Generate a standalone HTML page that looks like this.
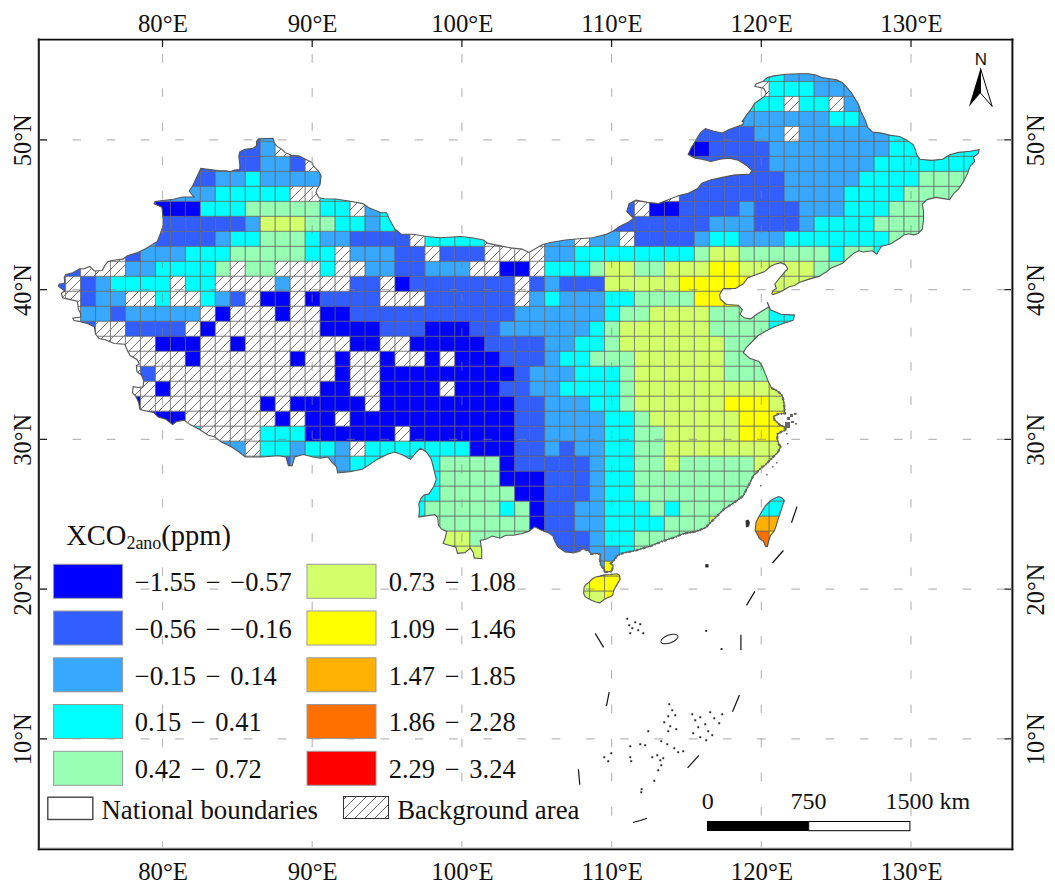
<!DOCTYPE html>
<html><head><meta charset="utf-8"><style>
html,body{margin:0;padding:0;background:#fff;width:1055px;height:892px;overflow:hidden}
svg{display:block}
</style></head><body>
<svg width="1055" height="892" viewBox="0 0 1055 892">
<defs>
<pattern id="hatch" patternUnits="userSpaceOnUse" width="10" height="10">
<rect width="10" height="10" fill="#fff"/>
<path d="M-1 11L11 -1M-1 1L1 -1M9 11L11 9" stroke="#6a6a6a" stroke-width="0.95"/>
</pattern>
<pattern id="hatch2" patternUnits="userSpaceOnUse" width="10" height="10" x="3">
<rect width="10" height="10" fill="#fff"/>
<path d="M-1 11L11 -1M-1 1L1 -1M9 11L11 9" stroke="#555" stroke-width="0.9"/>
</pattern>

<clipPath id="cn"><path d="M58.5 286.4L59.1 284.1L64.8 283.0L64.2 277.3L65.9 274.5L72.8 272.8L79.6 268.8L84.1 268.8L89.8 266.5L94.4 271.0L102.3 270.5L104.6 265.9L108.0 261.4L113.7 260.2L122.8 259.1L127.4 255.7L136.8 252.9L145.9 248.4L157.4 241.5L160.8 232.4L163.1 225.5L163.1 218.7L161.9 207.2L154.0 203.8L155.1 201.5L173.3 199.2L182.5 197.0L193.9 197.0L189.3 191.3L192.8 185.5L200.8 168.4L220.0 170.7L226.3 170.7L230.4 171.7L234.6 170.1L239.8 169.6L239.8 164.4L238.8 156.1L239.8 151.9L245.0 149.3L253.4 148.2L256.5 145.6L256.5 141.5L258.6 138.9L273.2 138.3L274.2 142.5L276.3 145.6L282.6 149.8L284.7 152.4L290.9 155.0L299.2 156.1L305.5 159.2L311.8 162.3L313.8 166.5L319.1 171.7L321.1 175.9L320.1 184.2L317.0 189.4L315.9 192.6L319.1 197.8L324.3 198.8L335.5 199.0L350.3 201.3L362.8 203.6L369.6 208.1L381.0 212.7L386.7 212.7L390.1 220.6L394.6 228.6L401.5 234.3L412.8 234.3L426.5 236.5L440.1 237.7L460.6 236.5L472.0 237.7L483.4 240.0L487.9 243.4L499.3 245.6L510.7 247.9L522.0 249.1L529.0 252.5L542.6 244.5L551.7 242.2L565.4 240.0L579.0 238.8L592.7 237.7L606.3 234.3L613.2 230.9L620.0 226.3L629.1 221.8L633.6 218.3L626.8 211.5L629.1 203.6L635.9 200.1L647.3 202.4L658.7 203.6L670.0 199.0L679.1 195.6L688.2 193.3L697.3 188.8L701.9 183.1L711.0 179.7L722.4 177.4L733.7 175.1L749.7 174.0L751.9 170.6L747.4 166.0L738.3 160.3L729.2 158.1L720.1 159.2L711.0 161.5L701.9 159.2L695.1 158.1L688.2 154.6L690.8 148.4L695.1 141.5L700.2 133.0L705.3 128.7L713.8 131.3L722.4 133.0L729.2 129.6L736.0 127.0L742.8 124.5L743.7 121.1L742.3 121.4L746.8 114.6L751.4 108.9L754.8 103.2L764.5 96.4L766.2 93.0L763.9 88.4L754.8 86.2L755.9 83.9L762.8 81.6L767.3 77.6L774.1 75.9L785.5 74.2L799.2 73.7L808.3 73.7L815.1 74.8L821.9 77.6L829.9 78.8L836.7 79.9L842.4 82.8L846.9 87.3L851.8 93.3L858.6 104.7L860.9 111.5L865.5 120.6L867.7 127.4L872.3 132.0L881.4 133.1L890.5 135.4L899.6 136.5L906.4 139.9L913.2 144.5L915.5 150.2L916.6 154.7L920.1 159.3L931.4 160.4L942.8 159.3L949.6 154.7L958.7 152.4L970.1 151.3L979.2 149.7L978.1 153.6L973.5 157.0L974.7 161.5L970.1 166.1L967.8 172.9L963.3 182.0L958.7 188.8L954.2 193.0L949.6 199.6L936.0 197.4L926.9 199.6L922.3 204.2L923.5 211.0L923.5 220.1L922.3 229.2L917.8 233.8L913.2 234.9L908.7 233.8L904.1 234.9L899.6 238.3L890.5 244.0L881.4 246.3L878.0 252.0L876.8 254.2L872.3 250.8L863.2 252.0L858.6 250.8L854.1 253.1L847.3 258.8L842.7 263.3L831.3 267.9L826.5 271.8L818.9 276.4L808.3 279.4L799.2 282.5L794.6 285.5L788.6 287.0L784.0 290.0L779.5 292.3L772.7 294.6L771.9 293.8L772.7 290.8L776.4 288.5L774.9 284.0L777.2 281.0L781.0 276.4L784.8 271.8L787.8 268.8L785.5 265.0L781.0 262.7L774.9 264.3L770.4 266.5L764.3 271.8L755.2 274.9L747.6 277.9L743.1 284.0L735.5 288.5L723.4 288.5L719.6 294.6L720.3 299.1L726.4 304.5L738.5 305.2L742.3 309.8L740.0 314.3L744.6 318.1L750.7 318.9L756.7 314.3L764.3 309.8L768.9 306.7L767.3 302.2L770.4 309.8L781.0 314.3L794.6 315.1L793.1 320.4L785.5 322.7L774.9 326.4L765.8 331.0L758.2 335.5L752.7 341.0L746.5 347.3L743.3 352.7L749.6 358.2L759.0 361.4L762.2 366.1L765.3 373.9L768.4 381.8L771.6 388.0L777.8 391.2L782.5 395.9L784.1 403.7L784.6 410.0L785.0 413.5L778.0 414.0L773.4 416.5L774.5 419.8L780.0 425.0L785.0 427.0L786.0 430.0L781.8 431.6L777.5 434.0L777.3 439.2L779.0 444.8L781.0 446.1L777.8 452.4L771.6 458.6L765.3 464.9L761.2 467.9L753.3 475.9L749.3 483.9L743.3 495.8L735.4 501.8L723.4 509.7L715.5 517.7L705.5 527.7L695.6 531.6L683.6 533.6L673.7 537.6L661.7 541.6L651.8 545.6L635.8 550.5L624.9 552.6L620.2 554.1L617.1 555.7L615.5 558.1L614.0 560.4L610.8 563.5L613.2 565.9L611.6 571.4L604.5 572.2L603.8 569.0L600.6 565.1L599.8 558.8L600.6 554.9L597.5 553.3L591.2 554.1L588.8 551.0L583.3 548.6L577.8 551.8L572.7 552.6L565.1 551.9L557.6 546.6L554.5 540.5L553.0 536.0L548.5 532.9L540.9 529.9L534.8 526.8L528.7 531.4L521.2 533.7L513.6 535.2L506.0 535.2L499.9 538.2L492.3 536.0L486.3 539.0L480.2 540.5L481.7 549.6L481.7 558.7L474.1 557.9L473.4 552.6L470.4 548.1L465.0 552.6L457.5 553.4L455.9 547.3L443.1 543.5L445.3 537.5L446.8 531.4L441.5 529.1L438.5 525.3L437.7 517.7L434.7 514.7L424.1 516.2L418.8 517.0L419.5 510.2L418.8 504.1L421.1 498.0L424.1 495.0L428.9 493.9L433.8 486.5L436.3 479.1L433.8 469.3L431.4 459.4L426.4 452.0L420.3 448.3L416.6 452.0L410.4 459.4L401.8 454.5L394.4 452.0L387.0 454.5L377.1 459.4L369.7 464.4L362.4 469.3L350.0 471.7L337.7 473.0L336.5 466.8L331.6 461.9L327.9 457.0L320.5 458.2L313.1 457.0L303.2 454.5L294.6 457.0L292.1 465.6L288.4 465.6L286.0 457.0L278.6 455.7L261.3 457.0L245.3 457.0L239.1 452.0L231.7 447.1L221.9 442.2L214.4 436.8L208.3 435.3L199.2 429.2L190.1 424.6L184.0 420.1L176.4 421.6L172.7 424.6L165.8 419.3L158.2 417.1L153.7 412.5L146.1 411.0L140.0 409.5L138.5 401.9L135.5 395.8L132.5 392.8L133.2 386.7L138.5 387.5L143.1 386.7L143.8 380.7L141.6 375.4L137.0 371.6L136.3 365.5L139.3 364.0L137.0 359.4L130.2 355.6L127.2 350.3L124.9 344.3L114.3 343.5L105.2 339.7L99.0 338.5L95.5 334.0L94.4 327.0L88.7 324.0L80.7 321.7L73.9 320.5L72.8 318.3L80.7 317.1L80.7 313.7L78.4 309.2L77.3 301.2L67.1 298.9L62.5 297.8L61.4 293.2L64.8 291.0ZM592.8 578.5L595.9 576.9L599.8 576.1L604.5 574.9L610.8 574.5L617.1 573.8L619.5 575.3L620.2 579.2L618.7 581.6L615.5 587.1L613.6 591.0L612.8 594.9L610.8 596.5L606.9 598.1L603.0 600.4L599.8 602.8L595.9 602.0L592.0 600.4L587.3 598.1L584.9 596.5L583.7 593.4L584.1 587.1L585.7 584.7L588.8 582.4L591.2 580.0ZM778.6 496.6L782.2 497.9L784.4 500.6L783.0 504.2L781.3 509.6L779.5 515.0L777.7 520.4L775.9 526.6L774.1 531.1L770.5 535.6L768.7 541.0L767.4 546.4L765.6 546.4L763.3 541.0L759.3 538.3L757.0 533.8L755.2 530.2L756.1 522.2L758.8 516.8L762.4 510.5L766.0 505.1L769.6 501.5L774.1 498.4Z"/></clipPath>
</defs>
<g clip-path="url(#cn)"><rect x="574.58" y="636.07" width="14.97" height="14.99" fill="#d2ff6a"/><rect x="589.55" y="636.07" width="14.97" height="14.99" fill="#d2ff6a"/><rect x="604.51" y="636.07" width="14.97" height="14.99" fill="#ffff00"/><rect x="559.61" y="621.08" width="14.97" height="14.99" fill="#d2ff6a"/><rect x="574.58" y="621.08" width="14.97" height="14.99" fill="#d2ff6a"/><rect x="589.55" y="621.08" width="14.97" height="14.99" fill="#d2ff6a"/><rect x="604.51" y="621.08" width="14.97" height="14.99" fill="#ffff00"/><rect x="619.49" y="621.08" width="14.97" height="14.99" fill="#ffff00"/><rect x="544.63" y="606.09" width="14.97" height="14.99" fill="#d2ff6a"/><rect x="559.61" y="606.09" width="14.97" height="14.99" fill="#d2ff6a"/><rect x="574.58" y="606.09" width="14.97" height="14.99" fill="#d2ff6a"/><rect x="589.55" y="606.09" width="14.97" height="14.99" fill="#d2ff6a"/><rect x="604.51" y="606.09" width="14.97" height="14.99" fill="#ffff00"/><rect x="619.49" y="606.09" width="14.97" height="14.99" fill="#ffff00"/><rect x="634.46" y="606.09" width="14.97" height="14.99" fill="#ffff00"/><rect x="454.82" y="591.10" width="14.97" height="14.99" fill="#d2ff6a"/><rect x="469.78" y="591.10" width="14.97" height="14.99" fill="#d2ff6a"/><rect x="529.67" y="591.10" width="14.97" height="14.99" fill="#d2ff6a"/><rect x="544.63" y="591.10" width="14.97" height="14.99" fill="#d2ff6a"/><rect x="559.61" y="591.10" width="14.97" height="14.99" fill="#d2ff6a"/><rect x="574.58" y="591.10" width="14.97" height="14.99" fill="#d2ff6a"/><rect x="589.55" y="591.10" width="14.97" height="14.99" fill="#d2ff6a"/><rect x="604.51" y="591.10" width="14.97" height="14.99" fill="#ffff00"/><rect x="619.49" y="591.10" width="14.97" height="14.99" fill="#ffff00"/><rect x="634.46" y="591.10" width="14.97" height="14.99" fill="#ffff00"/><rect x="649.43" y="591.10" width="14.97" height="14.99" fill="#ffff00"/><rect x="439.85" y="576.11" width="14.97" height="14.99" fill="#d2ff6a"/><rect x="454.82" y="576.11" width="14.97" height="14.99" fill="#d2ff6a"/><rect x="469.78" y="576.11" width="14.97" height="14.99" fill="#d2ff6a"/><rect x="484.75" y="576.11" width="14.97" height="14.99" fill="#96ffb4"/><rect x="499.73" y="576.11" width="14.97" height="14.99" fill="#96ffb4"/><rect x="514.70" y="576.11" width="14.97" height="14.99" fill="#96ffb4"/><rect x="529.67" y="576.11" width="14.97" height="14.99" fill="#d2ff6a"/><rect x="544.63" y="576.11" width="14.97" height="14.99" fill="#d2ff6a"/><rect x="559.61" y="576.11" width="14.97" height="14.99" fill="#d2ff6a"/><rect x="574.58" y="576.11" width="14.97" height="14.99" fill="#d2ff6a"/><rect x="589.55" y="576.11" width="14.97" height="14.99" fill="#ffff00"/><rect x="604.51" y="576.11" width="14.97" height="14.99" fill="#ffff00"/><rect x="619.49" y="576.11" width="14.97" height="14.99" fill="#ffff00"/><rect x="634.46" y="576.11" width="14.97" height="14.99" fill="#96ffb4"/><rect x="649.43" y="576.11" width="14.97" height="14.99" fill="#96ffb4"/><rect x="664.39" y="576.11" width="14.97" height="14.99" fill="#96ffb4"/><rect x="679.37" y="576.11" width="14.97" height="14.99" fill="#96ffb4"/><rect x="754.22" y="576.11" width="14.97" height="14.99" fill="#ff7000"/><rect x="769.19" y="576.11" width="14.97" height="14.99" fill="#ffff00"/><rect x="424.88" y="561.12" width="14.97" height="14.99" fill="#96ffb4"/><rect x="439.85" y="561.12" width="14.97" height="14.99" fill="#d2ff6a"/><rect x="454.82" y="561.12" width="14.97" height="14.99" fill="#d2ff6a"/><rect x="469.78" y="561.12" width="14.97" height="14.99" fill="#d2ff6a"/><rect x="484.75" y="561.12" width="14.97" height="14.99" fill="#96ffb4"/><rect x="499.73" y="561.12" width="14.97" height="14.99" fill="#96ffb4"/><rect x="514.70" y="561.12" width="14.97" height="14.99" fill="#96ffb4"/><rect x="529.67" y="561.12" width="14.97" height="14.99" fill="#0000ff"/><rect x="544.63" y="561.12" width="14.97" height="14.99" fill="#335eff"/><rect x="559.61" y="561.12" width="14.97" height="14.99" fill="#335eff"/><rect x="574.58" y="561.12" width="14.97" height="14.99" fill="#335eff"/><rect x="589.55" y="561.12" width="14.97" height="14.99" fill="#38a8ff"/><rect x="604.51" y="561.12" width="14.97" height="14.99" fill="#ffff00"/><rect x="619.49" y="561.12" width="14.97" height="14.99" fill="#00ffff"/><rect x="634.46" y="561.12" width="14.97" height="14.99" fill="#96ffb4"/><rect x="649.43" y="561.12" width="14.97" height="14.99" fill="#96ffb4"/><rect x="664.39" y="561.12" width="14.97" height="14.99" fill="#96ffb4"/><rect x="679.37" y="561.12" width="14.97" height="14.99" fill="#96ffb4"/><rect x="694.34" y="561.12" width="14.97" height="14.99" fill="#96ffb4"/><rect x="709.30" y="561.12" width="14.97" height="14.99" fill="#d2ff6a"/><rect x="739.25" y="561.12" width="14.97" height="14.99" fill="#ff7000"/><rect x="754.22" y="561.12" width="14.97" height="14.99" fill="#ff7000"/><rect x="769.19" y="561.12" width="14.97" height="14.99" fill="#ffff00"/><rect x="784.15" y="561.12" width="14.97" height="14.99" fill="#ffff00"/><rect x="409.91" y="546.13" width="14.97" height="14.99" fill="#00ffff"/><rect x="424.88" y="546.13" width="14.97" height="14.99" fill="#96ffb4"/><rect x="439.85" y="546.13" width="14.97" height="14.99" fill="#d2ff6a"/><rect x="454.82" y="546.13" width="14.97" height="14.99" fill="#d2ff6a"/><rect x="469.78" y="546.13" width="14.97" height="14.99" fill="#d2ff6a"/><rect x="484.75" y="546.13" width="14.97" height="14.99" fill="#96ffb4"/><rect x="499.73" y="546.13" width="14.97" height="14.99" fill="#96ffb4"/><rect x="514.70" y="546.13" width="14.97" height="14.99" fill="#96ffb4"/><rect x="529.67" y="546.13" width="14.97" height="14.99" fill="#0000ff"/><rect x="544.63" y="546.13" width="14.97" height="14.99" fill="#335eff"/><rect x="559.61" y="546.13" width="14.97" height="14.99" fill="#335eff"/><rect x="574.58" y="546.13" width="14.97" height="14.99" fill="#335eff"/><rect x="589.55" y="546.13" width="14.97" height="14.99" fill="#38a8ff"/><rect x="604.51" y="546.13" width="14.97" height="14.99" fill="#38a8ff"/><rect x="619.49" y="546.13" width="14.97" height="14.99" fill="#00ffff"/><rect x="634.46" y="546.13" width="14.97" height="14.99" fill="#96ffb4"/><rect x="649.43" y="546.13" width="14.97" height="14.99" fill="#96ffb4"/><rect x="664.39" y="546.13" width="14.97" height="14.99" fill="#96ffb4"/><rect x="679.37" y="546.13" width="14.97" height="14.99" fill="#96ffb4"/><rect x="694.34" y="546.13" width="14.97" height="14.99" fill="#96ffb4"/><rect x="709.30" y="546.13" width="14.97" height="14.99" fill="#d2ff6a"/><rect x="724.27" y="546.13" width="14.97" height="14.99" fill="#96ffb4"/><rect x="739.25" y="546.13" width="14.97" height="14.99" fill="#ff7000"/><rect x="754.22" y="546.13" width="14.97" height="14.99" fill="#ff7000"/><rect x="769.19" y="546.13" width="14.97" height="14.99" fill="#ffff00"/><rect x="784.15" y="546.13" width="14.97" height="14.99" fill="#ffff00"/><rect x="799.12" y="546.13" width="14.97" height="14.99" fill="#ffff00"/><rect x="394.94" y="531.14" width="14.97" height="14.99" fill="#00ffff"/><rect x="409.91" y="531.14" width="14.97" height="14.99" fill="#00ffff"/><rect x="424.88" y="531.14" width="14.97" height="14.99" fill="#96ffb4"/><rect x="439.85" y="531.14" width="14.97" height="14.99" fill="#d2ff6a"/><rect x="454.82" y="531.14" width="14.97" height="14.99" fill="#d2ff6a"/><rect x="469.78" y="531.14" width="14.97" height="14.99" fill="#96ffb4"/><rect x="484.75" y="531.14" width="14.97" height="14.99" fill="#96ffb4"/><rect x="499.73" y="531.14" width="14.97" height="14.99" fill="#96ffb4"/><rect x="514.70" y="531.14" width="14.97" height="14.99" fill="#96ffb4"/><rect x="529.67" y="531.14" width="14.97" height="14.99" fill="#0000ff"/><rect x="544.63" y="531.14" width="14.97" height="14.99" fill="#335eff"/><rect x="559.61" y="531.14" width="14.97" height="14.99" fill="#335eff"/><rect x="574.58" y="531.14" width="14.97" height="14.99" fill="#335eff"/><rect x="589.55" y="531.14" width="14.97" height="14.99" fill="#38a8ff"/><rect x="604.51" y="531.14" width="14.97" height="14.99" fill="#00ffff"/><rect x="619.49" y="531.14" width="14.97" height="14.99" fill="#00ffff"/><rect x="634.46" y="531.14" width="14.97" height="14.99" fill="#96ffb4"/><rect x="649.43" y="531.14" width="14.97" height="14.99" fill="#96ffb4"/><rect x="664.39" y="531.14" width="14.97" height="14.99" fill="#96ffb4"/><rect x="679.37" y="531.14" width="14.97" height="14.99" fill="#96ffb4"/><rect x="694.34" y="531.14" width="14.97" height="14.99" fill="#96ffb4"/><rect x="709.30" y="531.14" width="14.97" height="14.99" fill="#d2ff6a"/><rect x="724.27" y="531.14" width="14.97" height="14.99" fill="#96ffb4"/><rect x="739.25" y="531.14" width="14.97" height="14.99" fill="#ff7000"/><rect x="754.22" y="531.14" width="14.97" height="14.99" fill="#ff7000"/><rect x="769.19" y="531.14" width="14.97" height="14.99" fill="#ffff00"/><rect x="784.15" y="531.14" width="14.97" height="14.99" fill="#ffff00"/><rect x="799.12" y="531.14" width="14.97" height="14.99" fill="#ffff00"/><rect x="814.10" y="531.14" width="14.97" height="14.99" fill="#ffff00"/><rect x="379.97" y="516.15" width="14.97" height="14.99" fill="#00ffff"/><rect x="394.94" y="516.15" width="14.97" height="14.99" fill="#00ffff"/><rect x="409.91" y="516.15" width="14.97" height="14.99" fill="#00ffff"/><rect x="424.88" y="516.15" width="14.97" height="14.99" fill="#96ffb4"/><rect x="439.85" y="516.15" width="14.97" height="14.99" fill="#96ffb4"/><rect x="454.82" y="516.15" width="14.97" height="14.99" fill="#96ffb4"/><rect x="469.78" y="516.15" width="14.97" height="14.99" fill="#96ffb4"/><rect x="484.75" y="516.15" width="14.97" height="14.99" fill="#96ffb4"/><rect x="499.73" y="516.15" width="14.97" height="14.99" fill="#96ffb4"/><rect x="514.70" y="516.15" width="14.97" height="14.99" fill="#96ffb4"/><rect x="529.67" y="516.15" width="14.97" height="14.99" fill="#0000ff"/><rect x="544.63" y="516.15" width="14.97" height="14.99" fill="#335eff"/><rect x="559.61" y="516.15" width="14.97" height="14.99" fill="#335eff"/><rect x="574.58" y="516.15" width="14.97" height="14.99" fill="#38a8ff"/><rect x="589.55" y="516.15" width="14.97" height="14.99" fill="#38a8ff"/><rect x="604.51" y="516.15" width="14.97" height="14.99" fill="#00ffff"/><rect x="619.49" y="516.15" width="14.97" height="14.99" fill="#00ffff"/><rect x="634.46" y="516.15" width="14.97" height="14.99" fill="#00ffff"/><rect x="649.43" y="516.15" width="14.97" height="14.99" fill="#00ffff"/><rect x="664.39" y="516.15" width="14.97" height="14.99" fill="#96ffb4"/><rect x="679.37" y="516.15" width="14.97" height="14.99" fill="#96ffb4"/><rect x="694.34" y="516.15" width="14.97" height="14.99" fill="#96ffb4"/><rect x="709.30" y="516.15" width="14.97" height="14.99" fill="#d2ff6a"/><rect x="724.27" y="516.15" width="14.97" height="14.99" fill="#96ffb4"/><rect x="739.25" y="516.15" width="14.97" height="14.99" fill="#ffb000"/><rect x="754.22" y="516.15" width="14.97" height="14.99" fill="#ffb000"/><rect x="769.19" y="516.15" width="14.97" height="14.99" fill="#ffb000"/><rect x="784.15" y="516.15" width="14.97" height="14.99" fill="#ffb000"/><rect x="799.12" y="516.15" width="14.97" height="14.99" fill="#ffb000"/><rect x="814.10" y="516.15" width="14.97" height="14.99" fill="#ffb000"/><rect x="275.18" y="501.16" width="14.97" height="14.99" fill="#335eff"/><rect x="320.09" y="501.16" width="14.97" height="14.99" fill="#38a8ff"/><rect x="335.06" y="501.16" width="14.97" height="14.99" fill="#38a8ff"/><rect x="350.02" y="501.16" width="14.97" height="14.99" fill="#00ffff"/><rect x="365.00" y="501.16" width="14.97" height="14.99" fill="#00ffff"/><rect x="379.97" y="501.16" width="14.97" height="14.99" fill="#00ffff"/><rect x="394.94" y="501.16" width="14.97" height="14.99" fill="#00ffff"/><rect x="409.91" y="501.16" width="14.97" height="14.99" fill="#00ffff"/><rect x="424.88" y="501.16" width="14.97" height="14.99" fill="#96ffb4"/><rect x="439.85" y="501.16" width="14.97" height="14.99" fill="#96ffb4"/><rect x="454.82" y="501.16" width="14.97" height="14.99" fill="#96ffb4"/><rect x="469.78" y="501.16" width="14.97" height="14.99" fill="#96ffb4"/><rect x="484.75" y="501.16" width="14.97" height="14.99" fill="#96ffb4"/><rect x="499.73" y="501.16" width="14.97" height="14.99" fill="#00ffff"/><rect x="514.70" y="501.16" width="14.97" height="14.99" fill="#96ffb4"/><rect x="529.67" y="501.16" width="14.97" height="14.99" fill="#0000ff"/><rect x="544.63" y="501.16" width="14.97" height="14.99" fill="#335eff"/><rect x="559.61" y="501.16" width="14.97" height="14.99" fill="#335eff"/><rect x="574.58" y="501.16" width="14.97" height="14.99" fill="#38a8ff"/><rect x="589.55" y="501.16" width="14.97" height="14.99" fill="#38a8ff"/><rect x="604.51" y="501.16" width="14.97" height="14.99" fill="#00ffff"/><rect x="619.49" y="501.16" width="14.97" height="14.99" fill="#00ffff"/><rect x="634.46" y="501.16" width="14.97" height="14.99" fill="#00ffff"/><rect x="649.43" y="501.16" width="14.97" height="14.99" fill="#96ffb4"/><rect x="664.39" y="501.16" width="14.97" height="14.99" fill="#00ffff"/><rect x="679.37" y="501.16" width="14.97" height="14.99" fill="#96ffb4"/><rect x="694.34" y="501.16" width="14.97" height="14.99" fill="#96ffb4"/><rect x="709.30" y="501.16" width="14.97" height="14.99" fill="#96ffb4"/><rect x="724.27" y="501.16" width="14.97" height="14.99" fill="#96ffb4"/><rect x="739.25" y="501.16" width="14.97" height="14.99" fill="#96ffb4"/><rect x="754.22" y="501.16" width="14.97" height="14.99" fill="#00ffff"/><rect x="769.19" y="501.16" width="14.97" height="14.99" fill="#00ffff"/><rect x="784.15" y="501.16" width="14.97" height="14.99" fill="#00ffff"/><rect x="799.12" y="501.16" width="14.97" height="14.99" fill="#00ffff"/><rect x="814.10" y="501.16" width="14.97" height="14.99" fill="#00ffff"/><rect x="215.30" y="486.17" width="14.97" height="14.99" fill="#38a8ff"/><rect x="230.27" y="486.17" width="14.97" height="14.99" fill="#38a8ff"/><rect x="245.24" y="486.17" width="14.97" height="14.99" fill="url(#hatch)"/><rect x="260.21" y="486.17" width="14.97" height="14.99" fill="#00ffff"/><rect x="275.18" y="486.17" width="14.97" height="14.99" fill="#335eff"/><rect x="290.14" y="486.17" width="14.97" height="14.99" fill="#38a8ff"/><rect x="305.12" y="486.17" width="14.97" height="14.99" fill="#00ffff"/><rect x="320.09" y="486.17" width="14.97" height="14.99" fill="#38a8ff"/><rect x="335.06" y="486.17" width="14.97" height="14.99" fill="#38a8ff"/><rect x="350.02" y="486.17" width="14.97" height="14.99" fill="#00ffff"/><rect x="365.00" y="486.17" width="14.97" height="14.99" fill="#00ffff"/><rect x="379.97" y="486.17" width="14.97" height="14.99" fill="#00ffff"/><rect x="394.94" y="486.17" width="14.97" height="14.99" fill="#00ffff"/><rect x="409.91" y="486.17" width="14.97" height="14.99" fill="#00ffff"/><rect x="424.88" y="486.17" width="14.97" height="14.99" fill="#00ffff"/><rect x="439.85" y="486.17" width="14.97" height="14.99" fill="#96ffb4"/><rect x="454.82" y="486.17" width="14.97" height="14.99" fill="#96ffb4"/><rect x="469.78" y="486.17" width="14.97" height="14.99" fill="#96ffb4"/><rect x="484.75" y="486.17" width="14.97" height="14.99" fill="#96ffb4"/><rect x="499.73" y="486.17" width="14.97" height="14.99" fill="#96ffb4"/><rect x="514.70" y="486.17" width="14.97" height="14.99" fill="#0000ff"/><rect x="529.67" y="486.17" width="14.97" height="14.99" fill="#0000ff"/><rect x="544.63" y="486.17" width="14.97" height="14.99" fill="#335eff"/><rect x="559.61" y="486.17" width="14.97" height="14.99" fill="#335eff"/><rect x="574.58" y="486.17" width="14.97" height="14.99" fill="#335eff"/><rect x="589.55" y="486.17" width="14.97" height="14.99" fill="#38a8ff"/><rect x="604.51" y="486.17" width="14.97" height="14.99" fill="#00ffff"/><rect x="619.49" y="486.17" width="14.97" height="14.99" fill="#00ffff"/><rect x="634.46" y="486.17" width="14.97" height="14.99" fill="#96ffb4"/><rect x="649.43" y="486.17" width="14.97" height="14.99" fill="#96ffb4"/><rect x="664.39" y="486.17" width="14.97" height="14.99" fill="#96ffb4"/><rect x="679.37" y="486.17" width="14.97" height="14.99" fill="#96ffb4"/><rect x="694.34" y="486.17" width="14.97" height="14.99" fill="#96ffb4"/><rect x="709.30" y="486.17" width="14.97" height="14.99" fill="#96ffb4"/><rect x="724.27" y="486.17" width="14.97" height="14.99" fill="#96ffb4"/><rect x="739.25" y="486.17" width="14.97" height="14.99" fill="#96ffb4"/><rect x="754.22" y="486.17" width="14.97" height="14.99" fill="#d2ff6a"/><rect x="769.19" y="486.17" width="14.97" height="14.99" fill="#00ffff"/><rect x="784.15" y="486.17" width="14.97" height="14.99" fill="#00ffff"/><rect x="799.12" y="486.17" width="14.97" height="14.99" fill="#00ffff"/><rect x="814.10" y="486.17" width="14.97" height="14.99" fill="#00ffff"/><rect x="185.36" y="471.18" width="14.97" height="14.99" fill="#00ffff"/><rect x="200.33" y="471.18" width="14.97" height="14.99" fill="url(#hatch)"/><rect x="215.30" y="471.18" width="14.97" height="14.99" fill="#38a8ff"/><rect x="230.27" y="471.18" width="14.97" height="14.99" fill="#38a8ff"/><rect x="245.24" y="471.18" width="14.97" height="14.99" fill="url(#hatch)"/><rect x="260.21" y="471.18" width="14.97" height="14.99" fill="#00ffff"/><rect x="275.18" y="471.18" width="14.97" height="14.99" fill="#335eff"/><rect x="290.14" y="471.18" width="14.97" height="14.99" fill="#38a8ff"/><rect x="305.12" y="471.18" width="14.97" height="14.99" fill="#00ffff"/><rect x="320.09" y="471.18" width="14.97" height="14.99" fill="#38a8ff"/><rect x="335.06" y="471.18" width="14.97" height="14.99" fill="#38a8ff"/><rect x="350.02" y="471.18" width="14.97" height="14.99" fill="#00ffff"/><rect x="365.00" y="471.18" width="14.97" height="14.99" fill="#00ffff"/><rect x="379.97" y="471.18" width="14.97" height="14.99" fill="#00ffff"/><rect x="394.94" y="471.18" width="14.97" height="14.99" fill="#00ffff"/><rect x="409.91" y="471.18" width="14.97" height="14.99" fill="#00ffff"/><rect x="424.88" y="471.18" width="14.97" height="14.99" fill="#00ffff"/><rect x="439.85" y="471.18" width="14.97" height="14.99" fill="#96ffb4"/><rect x="454.82" y="471.18" width="14.97" height="14.99" fill="#96ffb4"/><rect x="469.78" y="471.18" width="14.97" height="14.99" fill="#96ffb4"/><rect x="484.75" y="471.18" width="14.97" height="14.99" fill="#96ffb4"/><rect x="499.73" y="471.18" width="14.97" height="14.99" fill="#0000ff"/><rect x="514.70" y="471.18" width="14.97" height="14.99" fill="#0000ff"/><rect x="529.67" y="471.18" width="14.97" height="14.99" fill="#0000ff"/><rect x="544.63" y="471.18" width="14.97" height="14.99" fill="#335eff"/><rect x="559.61" y="471.18" width="14.97" height="14.99" fill="#335eff"/><rect x="574.58" y="471.18" width="14.97" height="14.99" fill="#335eff"/><rect x="589.55" y="471.18" width="14.97" height="14.99" fill="#38a8ff"/><rect x="604.51" y="471.18" width="14.97" height="14.99" fill="#00ffff"/><rect x="619.49" y="471.18" width="14.97" height="14.99" fill="#00ffff"/><rect x="634.46" y="471.18" width="14.97" height="14.99" fill="#96ffb4"/><rect x="649.43" y="471.18" width="14.97" height="14.99" fill="#96ffb4"/><rect x="664.39" y="471.18" width="14.97" height="14.99" fill="#96ffb4"/><rect x="679.37" y="471.18" width="14.97" height="14.99" fill="#96ffb4"/><rect x="694.34" y="471.18" width="14.97" height="14.99" fill="#96ffb4"/><rect x="709.30" y="471.18" width="14.97" height="14.99" fill="#96ffb4"/><rect x="724.27" y="471.18" width="14.97" height="14.99" fill="#96ffb4"/><rect x="739.25" y="471.18" width="14.97" height="14.99" fill="#96ffb4"/><rect x="754.22" y="471.18" width="14.97" height="14.99" fill="#d2ff6a"/><rect x="769.19" y="471.18" width="14.97" height="14.99" fill="#00ffff"/><rect x="784.15" y="471.18" width="14.97" height="14.99" fill="#00ffff"/><rect x="799.12" y="471.18" width="14.97" height="14.99" fill="#00ffff"/><rect x="140.44" y="456.19" width="14.97" height="14.99" fill="#0000ff"/><rect x="155.41" y="456.19" width="14.97" height="14.99" fill="#0000ff"/><rect x="170.39" y="456.19" width="14.97" height="14.99" fill="#0000ff"/><rect x="185.36" y="456.19" width="14.97" height="14.99" fill="#00ffff"/><rect x="200.33" y="456.19" width="14.97" height="14.99" fill="url(#hatch)"/><rect x="215.30" y="456.19" width="14.97" height="14.99" fill="#38a8ff"/><rect x="230.27" y="456.19" width="14.97" height="14.99" fill="#38a8ff"/><rect x="245.24" y="456.19" width="14.97" height="14.99" fill="url(#hatch)"/><rect x="260.21" y="456.19" width="14.97" height="14.99" fill="#00ffff"/><rect x="275.18" y="456.19" width="14.97" height="14.99" fill="#335eff"/><rect x="290.14" y="456.19" width="14.97" height="14.99" fill="#38a8ff"/><rect x="305.12" y="456.19" width="14.97" height="14.99" fill="#00ffff"/><rect x="320.09" y="456.19" width="14.97" height="14.99" fill="#38a8ff"/><rect x="335.06" y="456.19" width="14.97" height="14.99" fill="#38a8ff"/><rect x="350.02" y="456.19" width="14.97" height="14.99" fill="#00ffff"/><rect x="365.00" y="456.19" width="14.97" height="14.99" fill="#00ffff"/><rect x="379.97" y="456.19" width="14.97" height="14.99" fill="#00ffff"/><rect x="394.94" y="456.19" width="14.97" height="14.99" fill="#00ffff"/><rect x="409.91" y="456.19" width="14.97" height="14.99" fill="#00ffff"/><rect x="424.88" y="456.19" width="14.97" height="14.99" fill="#00ffff"/><rect x="439.85" y="456.19" width="14.97" height="14.99" fill="#96ffb4"/><rect x="454.82" y="456.19" width="14.97" height="14.99" fill="#96ffb4"/><rect x="469.78" y="456.19" width="14.97" height="14.99" fill="#96ffb4"/><rect x="484.75" y="456.19" width="14.97" height="14.99" fill="#96ffb4"/><rect x="499.73" y="456.19" width="14.97" height="14.99" fill="#0000ff"/><rect x="514.70" y="456.19" width="14.97" height="14.99" fill="#335eff"/><rect x="529.67" y="456.19" width="14.97" height="14.99" fill="#335eff"/><rect x="544.63" y="456.19" width="14.97" height="14.99" fill="#335eff"/><rect x="559.61" y="456.19" width="14.97" height="14.99" fill="#335eff"/><rect x="574.58" y="456.19" width="14.97" height="14.99" fill="#335eff"/><rect x="589.55" y="456.19" width="14.97" height="14.99" fill="#38a8ff"/><rect x="604.51" y="456.19" width="14.97" height="14.99" fill="#00ffff"/><rect x="619.49" y="456.19" width="14.97" height="14.99" fill="#00ffff"/><rect x="634.46" y="456.19" width="14.97" height="14.99" fill="#96ffb4"/><rect x="649.43" y="456.19" width="14.97" height="14.99" fill="#96ffb4"/><rect x="664.39" y="456.19" width="14.97" height="14.99" fill="#d2ff6a"/><rect x="679.37" y="456.19" width="14.97" height="14.99" fill="#96ffb4"/><rect x="694.34" y="456.19" width="14.97" height="14.99" fill="#96ffb4"/><rect x="709.30" y="456.19" width="14.97" height="14.99" fill="#96ffb4"/><rect x="724.27" y="456.19" width="14.97" height="14.99" fill="#96ffb4"/><rect x="739.25" y="456.19" width="14.97" height="14.99" fill="#96ffb4"/><rect x="754.22" y="456.19" width="14.97" height="14.99" fill="#d2ff6a"/><rect x="769.19" y="456.19" width="14.97" height="14.99" fill="#d2ff6a"/><rect x="784.15" y="456.19" width="14.97" height="14.99" fill="#d2ff6a"/><rect x="799.12" y="456.19" width="14.97" height="14.99" fill="#d2ff6a"/><rect x="125.47" y="441.20" width="14.97" height="14.99" fill="#0000ff"/><rect x="140.44" y="441.20" width="14.97" height="14.99" fill="#0000ff"/><rect x="155.41" y="441.20" width="14.97" height="14.99" fill="#0000ff"/><rect x="170.39" y="441.20" width="14.97" height="14.99" fill="#0000ff"/><rect x="185.36" y="441.20" width="14.97" height="14.99" fill="#00ffff"/><rect x="200.33" y="441.20" width="14.97" height="14.99" fill="url(#hatch)"/><rect x="215.30" y="441.20" width="14.97" height="14.99" fill="#38a8ff"/><rect x="230.27" y="441.20" width="14.97" height="14.99" fill="#38a8ff"/><rect x="245.24" y="441.20" width="14.97" height="14.99" fill="url(#hatch)"/><rect x="260.21" y="441.20" width="14.97" height="14.99" fill="#00ffff"/><rect x="275.18" y="441.20" width="14.97" height="14.99" fill="#00ffff"/><rect x="290.14" y="441.20" width="14.97" height="14.99" fill="#38a8ff"/><rect x="305.12" y="441.20" width="14.97" height="14.99" fill="#00ffff"/><rect x="320.09" y="441.20" width="14.97" height="14.99" fill="#00ffff"/><rect x="335.06" y="441.20" width="14.97" height="14.99" fill="#38a8ff"/><rect x="350.02" y="441.20" width="14.97" height="14.99" fill="url(#hatch)"/><rect x="365.00" y="441.20" width="14.97" height="14.99" fill="#00ffff"/><rect x="379.97" y="441.20" width="14.97" height="14.99" fill="#00ffff"/><rect x="394.94" y="441.20" width="14.97" height="14.99" fill="#00ffff"/><rect x="409.91" y="441.20" width="14.97" height="14.99" fill="#00ffff"/><rect x="424.88" y="441.20" width="14.97" height="14.99" fill="#00ffff"/><rect x="439.85" y="441.20" width="14.97" height="14.99" fill="#00ffff"/><rect x="454.82" y="441.20" width="14.97" height="14.99" fill="#00ffff"/><rect x="469.78" y="441.20" width="14.97" height="14.99" fill="#0000ff"/><rect x="484.75" y="441.20" width="14.97" height="14.99" fill="#0000ff"/><rect x="499.73" y="441.20" width="14.97" height="14.99" fill="#0000ff"/><rect x="514.70" y="441.20" width="14.97" height="14.99" fill="#335eff"/><rect x="529.67" y="441.20" width="14.97" height="14.99" fill="#335eff"/><rect x="544.63" y="441.20" width="14.97" height="14.99" fill="#38a8ff"/><rect x="559.61" y="441.20" width="14.97" height="14.99" fill="#335eff"/><rect x="574.58" y="441.20" width="14.97" height="14.99" fill="#38a8ff"/><rect x="589.55" y="441.20" width="14.97" height="14.99" fill="#38a8ff"/><rect x="604.51" y="441.20" width="14.97" height="14.99" fill="#00ffff"/><rect x="619.49" y="441.20" width="14.97" height="14.99" fill="#00ffff"/><rect x="634.46" y="441.20" width="14.97" height="14.99" fill="#96ffb4"/><rect x="649.43" y="441.20" width="14.97" height="14.99" fill="#96ffb4"/><rect x="664.39" y="441.20" width="14.97" height="14.99" fill="#d2ff6a"/><rect x="679.37" y="441.20" width="14.97" height="14.99" fill="#d2ff6a"/><rect x="694.34" y="441.20" width="14.97" height="14.99" fill="#d2ff6a"/><rect x="709.30" y="441.20" width="14.97" height="14.99" fill="#d2ff6a"/><rect x="724.27" y="441.20" width="14.97" height="14.99" fill="#d2ff6a"/><rect x="739.25" y="441.20" width="14.97" height="14.99" fill="#d2ff6a"/><rect x="754.22" y="441.20" width="14.97" height="14.99" fill="#d2ff6a"/><rect x="769.19" y="441.20" width="14.97" height="14.99" fill="#d2ff6a"/><rect x="784.15" y="441.20" width="14.97" height="14.99" fill="#d2ff6a"/><rect x="799.12" y="441.20" width="14.97" height="14.99" fill="#d2ff6a"/><rect x="814.10" y="441.20" width="14.97" height="14.99" fill="#d2ff6a"/><rect x="110.50" y="426.21" width="14.97" height="14.99" fill="#0000ff"/><rect x="125.47" y="426.21" width="14.97" height="14.99" fill="#0000ff"/><rect x="140.44" y="426.21" width="14.97" height="14.99" fill="#0000ff"/><rect x="155.41" y="426.21" width="14.97" height="14.99" fill="#0000ff"/><rect x="170.39" y="426.21" width="14.97" height="14.99" fill="#0000ff"/><rect x="185.36" y="426.21" width="14.97" height="14.99" fill="#00ffff"/><rect x="200.33" y="426.21" width="14.97" height="14.99" fill="url(#hatch)"/><rect x="215.30" y="426.21" width="14.97" height="14.99" fill="url(#hatch)"/><rect x="230.27" y="426.21" width="14.97" height="14.99" fill="url(#hatch)"/><rect x="245.24" y="426.21" width="14.97" height="14.99" fill="url(#hatch)"/><rect x="260.21" y="426.21" width="14.97" height="14.99" fill="#00ffff"/><rect x="275.18" y="426.21" width="14.97" height="14.99" fill="#00ffff"/><rect x="290.14" y="426.21" width="14.97" height="14.99" fill="#00ffff"/><rect x="305.12" y="426.21" width="14.97" height="14.99" fill="#0000ff"/><rect x="320.09" y="426.21" width="14.97" height="14.99" fill="#0000ff"/><rect x="335.06" y="426.21" width="14.97" height="14.99" fill="#0000ff"/><rect x="350.02" y="426.21" width="14.97" height="14.99" fill="#0000ff"/><rect x="365.00" y="426.21" width="14.97" height="14.99" fill="#0000ff"/><rect x="379.97" y="426.21" width="14.97" height="14.99" fill="#0000ff"/><rect x="394.94" y="426.21" width="14.97" height="14.99" fill="url(#hatch)"/><rect x="409.91" y="426.21" width="14.97" height="14.99" fill="#0000ff"/><rect x="424.88" y="426.21" width="14.97" height="14.99" fill="#0000ff"/><rect x="439.85" y="426.21" width="14.97" height="14.99" fill="#0000ff"/><rect x="454.82" y="426.21" width="14.97" height="14.99" fill="#0000ff"/><rect x="469.78" y="426.21" width="14.97" height="14.99" fill="#0000ff"/><rect x="484.75" y="426.21" width="14.97" height="14.99" fill="#0000ff"/><rect x="499.73" y="426.21" width="14.97" height="14.99" fill="#0000ff"/><rect x="514.70" y="426.21" width="14.97" height="14.99" fill="#335eff"/><rect x="529.67" y="426.21" width="14.97" height="14.99" fill="#335eff"/><rect x="544.63" y="426.21" width="14.97" height="14.99" fill="#38a8ff"/><rect x="559.61" y="426.21" width="14.97" height="14.99" fill="#38a8ff"/><rect x="574.58" y="426.21" width="14.97" height="14.99" fill="#38a8ff"/><rect x="589.55" y="426.21" width="14.97" height="14.99" fill="#38a8ff"/><rect x="604.51" y="426.21" width="14.97" height="14.99" fill="#00ffff"/><rect x="619.49" y="426.21" width="14.97" height="14.99" fill="#00ffff"/><rect x="634.46" y="426.21" width="14.97" height="14.99" fill="#96ffb4"/><rect x="649.43" y="426.21" width="14.97" height="14.99" fill="#96ffb4"/><rect x="664.39" y="426.21" width="14.97" height="14.99" fill="#d2ff6a"/><rect x="679.37" y="426.21" width="14.97" height="14.99" fill="#d2ff6a"/><rect x="694.34" y="426.21" width="14.97" height="14.99" fill="#d2ff6a"/><rect x="709.30" y="426.21" width="14.97" height="14.99" fill="#d2ff6a"/><rect x="724.27" y="426.21" width="14.97" height="14.99" fill="#d2ff6a"/><rect x="739.25" y="426.21" width="14.97" height="14.99" fill="#ffff00"/><rect x="754.22" y="426.21" width="14.97" height="14.99" fill="#ffff00"/><rect x="769.19" y="426.21" width="14.97" height="14.99" fill="#ffff00"/><rect x="784.15" y="426.21" width="14.97" height="14.99" fill="#ffff00"/><rect x="799.12" y="426.21" width="14.97" height="14.99" fill="#ffff00"/><rect x="814.10" y="426.21" width="14.97" height="14.99" fill="#ffff00"/><rect x="95.53" y="411.22" width="14.97" height="14.99" fill="#0000ff"/><rect x="110.50" y="411.22" width="14.97" height="14.99" fill="#0000ff"/><rect x="125.47" y="411.22" width="14.97" height="14.99" fill="#0000ff"/><rect x="140.44" y="411.22" width="14.97" height="14.99" fill="#0000ff"/><rect x="155.41" y="411.22" width="14.97" height="14.99" fill="#0000ff"/><rect x="170.39" y="411.22" width="14.97" height="14.99" fill="#0000ff"/><rect x="185.36" y="411.22" width="14.97" height="14.99" fill="url(#hatch)"/><rect x="200.33" y="411.22" width="14.97" height="14.99" fill="url(#hatch)"/><rect x="215.30" y="411.22" width="14.97" height="14.99" fill="url(#hatch)"/><rect x="230.27" y="411.22" width="14.97" height="14.99" fill="url(#hatch)"/><rect x="245.24" y="411.22" width="14.97" height="14.99" fill="url(#hatch)"/><rect x="260.21" y="411.22" width="14.97" height="14.99" fill="url(#hatch)"/><rect x="275.18" y="411.22" width="14.97" height="14.99" fill="#0000ff"/><rect x="290.14" y="411.22" width="14.97" height="14.99" fill="url(#hatch)"/><rect x="305.12" y="411.22" width="14.97" height="14.99" fill="#0000ff"/><rect x="320.09" y="411.22" width="14.97" height="14.99" fill="#0000ff"/><rect x="335.06" y="411.22" width="14.97" height="14.99" fill="url(#hatch)"/><rect x="350.02" y="411.22" width="14.97" height="14.99" fill="#0000ff"/><rect x="365.00" y="411.22" width="14.97" height="14.99" fill="#0000ff"/><rect x="379.97" y="411.22" width="14.97" height="14.99" fill="#0000ff"/><rect x="394.94" y="411.22" width="14.97" height="14.99" fill="#0000ff"/><rect x="409.91" y="411.22" width="14.97" height="14.99" fill="#0000ff"/><rect x="424.88" y="411.22" width="14.97" height="14.99" fill="#0000ff"/><rect x="439.85" y="411.22" width="14.97" height="14.99" fill="#0000ff"/><rect x="454.82" y="411.22" width="14.97" height="14.99" fill="#0000ff"/><rect x="469.78" y="411.22" width="14.97" height="14.99" fill="#0000ff"/><rect x="484.75" y="411.22" width="14.97" height="14.99" fill="#0000ff"/><rect x="499.73" y="411.22" width="14.97" height="14.99" fill="#0000ff"/><rect x="514.70" y="411.22" width="14.97" height="14.99" fill="#335eff"/><rect x="529.67" y="411.22" width="14.97" height="14.99" fill="#335eff"/><rect x="544.63" y="411.22" width="14.97" height="14.99" fill="#38a8ff"/><rect x="559.61" y="411.22" width="14.97" height="14.99" fill="#38a8ff"/><rect x="574.58" y="411.22" width="14.97" height="14.99" fill="#38a8ff"/><rect x="589.55" y="411.22" width="14.97" height="14.99" fill="#38a8ff"/><rect x="604.51" y="411.22" width="14.97" height="14.99" fill="#00ffff"/><rect x="619.49" y="411.22" width="14.97" height="14.99" fill="#00ffff"/><rect x="634.46" y="411.22" width="14.97" height="14.99" fill="#96ffb4"/><rect x="649.43" y="411.22" width="14.97" height="14.99" fill="#d2ff6a"/><rect x="664.39" y="411.22" width="14.97" height="14.99" fill="#d2ff6a"/><rect x="679.37" y="411.22" width="14.97" height="14.99" fill="#d2ff6a"/><rect x="694.34" y="411.22" width="14.97" height="14.99" fill="#d2ff6a"/><rect x="709.30" y="411.22" width="14.97" height="14.99" fill="#d2ff6a"/><rect x="724.27" y="411.22" width="14.97" height="14.99" fill="#d2ff6a"/><rect x="739.25" y="411.22" width="14.97" height="14.99" fill="#ffff00"/><rect x="754.22" y="411.22" width="14.97" height="14.99" fill="#ffff00"/><rect x="769.19" y="411.22" width="14.97" height="14.99" fill="#ffff00"/><rect x="784.15" y="411.22" width="14.97" height="14.99" fill="#ffff00"/><rect x="799.12" y="411.22" width="14.97" height="14.99" fill="#ffff00"/><rect x="814.10" y="411.22" width="14.97" height="14.99" fill="#ffff00"/><rect x="80.56" y="396.23" width="14.97" height="14.99" fill="#0000ff"/><rect x="95.53" y="396.23" width="14.97" height="14.99" fill="#0000ff"/><rect x="110.50" y="396.23" width="14.97" height="14.99" fill="#0000ff"/><rect x="125.47" y="396.23" width="14.97" height="14.99" fill="#0000ff"/><rect x="140.44" y="396.23" width="14.97" height="14.99" fill="url(#hatch)"/><rect x="155.41" y="396.23" width="14.97" height="14.99" fill="url(#hatch)"/><rect x="170.39" y="396.23" width="14.97" height="14.99" fill="url(#hatch)"/><rect x="185.36" y="396.23" width="14.97" height="14.99" fill="url(#hatch)"/><rect x="200.33" y="396.23" width="14.97" height="14.99" fill="url(#hatch)"/><rect x="215.30" y="396.23" width="14.97" height="14.99" fill="url(#hatch)"/><rect x="230.27" y="396.23" width="14.97" height="14.99" fill="url(#hatch)"/><rect x="245.24" y="396.23" width="14.97" height="14.99" fill="url(#hatch)"/><rect x="260.21" y="396.23" width="14.97" height="14.99" fill="#0000ff"/><rect x="275.18" y="396.23" width="14.97" height="14.99" fill="url(#hatch)"/><rect x="290.14" y="396.23" width="14.97" height="14.99" fill="#0000ff"/><rect x="305.12" y="396.23" width="14.97" height="14.99" fill="#0000ff"/><rect x="320.09" y="396.23" width="14.97" height="14.99" fill="#0000ff"/><rect x="335.06" y="396.23" width="14.97" height="14.99" fill="#0000ff"/><rect x="350.02" y="396.23" width="14.97" height="14.99" fill="#0000ff"/><rect x="365.00" y="396.23" width="14.97" height="14.99" fill="url(#hatch)"/><rect x="379.97" y="396.23" width="14.97" height="14.99" fill="#0000ff"/><rect x="394.94" y="396.23" width="14.97" height="14.99" fill="#0000ff"/><rect x="409.91" y="396.23" width="14.97" height="14.99" fill="#0000ff"/><rect x="424.88" y="396.23" width="14.97" height="14.99" fill="#0000ff"/><rect x="439.85" y="396.23" width="14.97" height="14.99" fill="#0000ff"/><rect x="454.82" y="396.23" width="14.97" height="14.99" fill="#0000ff"/><rect x="469.78" y="396.23" width="14.97" height="14.99" fill="#0000ff"/><rect x="484.75" y="396.23" width="14.97" height="14.99" fill="#0000ff"/><rect x="499.73" y="396.23" width="14.97" height="14.99" fill="#0000ff"/><rect x="514.70" y="396.23" width="14.97" height="14.99" fill="#335eff"/><rect x="529.67" y="396.23" width="14.97" height="14.99" fill="#335eff"/><rect x="544.63" y="396.23" width="14.97" height="14.99" fill="#38a8ff"/><rect x="559.61" y="396.23" width="14.97" height="14.99" fill="#38a8ff"/><rect x="574.58" y="396.23" width="14.97" height="14.99" fill="#38a8ff"/><rect x="589.55" y="396.23" width="14.97" height="14.99" fill="#00ffff"/><rect x="604.51" y="396.23" width="14.97" height="14.99" fill="#00ffff"/><rect x="619.49" y="396.23" width="14.97" height="14.99" fill="#96ffb4"/><rect x="634.46" y="396.23" width="14.97" height="14.99" fill="#d2ff6a"/><rect x="649.43" y="396.23" width="14.97" height="14.99" fill="#d2ff6a"/><rect x="664.39" y="396.23" width="14.97" height="14.99" fill="#d2ff6a"/><rect x="679.37" y="396.23" width="14.97" height="14.99" fill="#d2ff6a"/><rect x="694.34" y="396.23" width="14.97" height="14.99" fill="#d2ff6a"/><rect x="709.30" y="396.23" width="14.97" height="14.99" fill="#d2ff6a"/><rect x="724.27" y="396.23" width="14.97" height="14.99" fill="#ffff00"/><rect x="739.25" y="396.23" width="14.97" height="14.99" fill="#ffff00"/><rect x="754.22" y="396.23" width="14.97" height="14.99" fill="#ffff00"/><rect x="769.19" y="396.23" width="14.97" height="14.99" fill="#d2ff6a"/><rect x="784.15" y="396.23" width="14.97" height="14.99" fill="#d2ff6a"/><rect x="799.12" y="396.23" width="14.97" height="14.99" fill="#d2ff6a"/><rect x="814.10" y="396.23" width="14.97" height="14.99" fill="#d2ff6a"/><rect x="80.56" y="381.24" width="14.97" height="14.99" fill="url(#hatch)"/><rect x="95.53" y="381.24" width="14.97" height="14.99" fill="url(#hatch)"/><rect x="110.50" y="381.24" width="14.97" height="14.99" fill="url(#hatch)"/><rect x="125.47" y="381.24" width="14.97" height="14.99" fill="url(#hatch)"/><rect x="140.44" y="381.24" width="14.97" height="14.99" fill="url(#hatch)"/><rect x="155.41" y="381.24" width="14.97" height="14.99" fill="#0000ff"/><rect x="170.39" y="381.24" width="14.97" height="14.99" fill="url(#hatch)"/><rect x="185.36" y="381.24" width="14.97" height="14.99" fill="url(#hatch)"/><rect x="200.33" y="381.24" width="14.97" height="14.99" fill="url(#hatch)"/><rect x="215.30" y="381.24" width="14.97" height="14.99" fill="url(#hatch)"/><rect x="230.27" y="381.24" width="14.97" height="14.99" fill="url(#hatch)"/><rect x="245.24" y="381.24" width="14.97" height="14.99" fill="url(#hatch)"/><rect x="260.21" y="381.24" width="14.97" height="14.99" fill="url(#hatch)"/><rect x="275.18" y="381.24" width="14.97" height="14.99" fill="url(#hatch)"/><rect x="290.14" y="381.24" width="14.97" height="14.99" fill="url(#hatch)"/><rect x="305.12" y="381.24" width="14.97" height="14.99" fill="url(#hatch)"/><rect x="320.09" y="381.24" width="14.97" height="14.99" fill="#0000ff"/><rect x="335.06" y="381.24" width="14.97" height="14.99" fill="#0000ff"/><rect x="350.02" y="381.24" width="14.97" height="14.99" fill="url(#hatch)"/><rect x="365.00" y="381.24" width="14.97" height="14.99" fill="url(#hatch)"/><rect x="379.97" y="381.24" width="14.97" height="14.99" fill="#0000ff"/><rect x="394.94" y="381.24" width="14.97" height="14.99" fill="#0000ff"/><rect x="409.91" y="381.24" width="14.97" height="14.99" fill="#0000ff"/><rect x="424.88" y="381.24" width="14.97" height="14.99" fill="#0000ff"/><rect x="439.85" y="381.24" width="14.97" height="14.99" fill="url(#hatch)"/><rect x="454.82" y="381.24" width="14.97" height="14.99" fill="#0000ff"/><rect x="469.78" y="381.24" width="14.97" height="14.99" fill="#0000ff"/><rect x="484.75" y="381.24" width="14.97" height="14.99" fill="#0000ff"/><rect x="499.73" y="381.24" width="14.97" height="14.99" fill="#335eff"/><rect x="514.70" y="381.24" width="14.97" height="14.99" fill="#335eff"/><rect x="529.67" y="381.24" width="14.97" height="14.99" fill="#38a8ff"/><rect x="544.63" y="381.24" width="14.97" height="14.99" fill="#38a8ff"/><rect x="559.61" y="381.24" width="14.97" height="14.99" fill="#00ffff"/><rect x="574.58" y="381.24" width="14.97" height="14.99" fill="#00ffff"/><rect x="589.55" y="381.24" width="14.97" height="14.99" fill="#00ffff"/><rect x="604.51" y="381.24" width="14.97" height="14.99" fill="#00ffff"/><rect x="619.49" y="381.24" width="14.97" height="14.99" fill="#96ffb4"/><rect x="634.46" y="381.24" width="14.97" height="14.99" fill="#d2ff6a"/><rect x="649.43" y="381.24" width="14.97" height="14.99" fill="#d2ff6a"/><rect x="664.39" y="381.24" width="14.97" height="14.99" fill="#d2ff6a"/><rect x="679.37" y="381.24" width="14.97" height="14.99" fill="#d2ff6a"/><rect x="694.34" y="381.24" width="14.97" height="14.99" fill="#d2ff6a"/><rect x="709.30" y="381.24" width="14.97" height="14.99" fill="#d2ff6a"/><rect x="724.27" y="381.24" width="14.97" height="14.99" fill="#d2ff6a"/><rect x="739.25" y="381.24" width="14.97" height="14.99" fill="#d2ff6a"/><rect x="754.22" y="381.24" width="14.97" height="14.99" fill="#d2ff6a"/><rect x="769.19" y="381.24" width="14.97" height="14.99" fill="#d2ff6a"/><rect x="784.15" y="381.24" width="14.97" height="14.99" fill="#d2ff6a"/><rect x="799.12" y="381.24" width="14.97" height="14.99" fill="#d2ff6a"/><rect x="814.10" y="381.24" width="14.97" height="14.99" fill="#d2ff6a"/><rect x="80.56" y="366.25" width="14.97" height="14.99" fill="#335eff"/><rect x="95.53" y="366.25" width="14.97" height="14.99" fill="url(#hatch)"/><rect x="110.50" y="366.25" width="14.97" height="14.99" fill="url(#hatch)"/><rect x="125.47" y="366.25" width="14.97" height="14.99" fill="url(#hatch)"/><rect x="140.44" y="366.25" width="14.97" height="14.99" fill="#335eff"/><rect x="155.41" y="366.25" width="14.97" height="14.99" fill="url(#hatch)"/><rect x="170.39" y="366.25" width="14.97" height="14.99" fill="url(#hatch)"/><rect x="185.36" y="366.25" width="14.97" height="14.99" fill="url(#hatch)"/><rect x="200.33" y="366.25" width="14.97" height="14.99" fill="url(#hatch)"/><rect x="215.30" y="366.25" width="14.97" height="14.99" fill="url(#hatch)"/><rect x="230.27" y="366.25" width="14.97" height="14.99" fill="url(#hatch)"/><rect x="245.24" y="366.25" width="14.97" height="14.99" fill="url(#hatch)"/><rect x="260.21" y="366.25" width="14.97" height="14.99" fill="url(#hatch)"/><rect x="275.18" y="366.25" width="14.97" height="14.99" fill="url(#hatch)"/><rect x="290.14" y="366.25" width="14.97" height="14.99" fill="url(#hatch)"/><rect x="305.12" y="366.25" width="14.97" height="14.99" fill="url(#hatch)"/><rect x="320.09" y="366.25" width="14.97" height="14.99" fill="url(#hatch)"/><rect x="335.06" y="366.25" width="14.97" height="14.99" fill="#0000ff"/><rect x="350.02" y="366.25" width="14.97" height="14.99" fill="url(#hatch)"/><rect x="365.00" y="366.25" width="14.97" height="14.99" fill="url(#hatch)"/><rect x="379.97" y="366.25" width="14.97" height="14.99" fill="#0000ff"/><rect x="394.94" y="366.25" width="14.97" height="14.99" fill="#0000ff"/><rect x="409.91" y="366.25" width="14.97" height="14.99" fill="#0000ff"/><rect x="424.88" y="366.25" width="14.97" height="14.99" fill="#0000ff"/><rect x="439.85" y="366.25" width="14.97" height="14.99" fill="#0000ff"/><rect x="454.82" y="366.25" width="14.97" height="14.99" fill="#0000ff"/><rect x="469.78" y="366.25" width="14.97" height="14.99" fill="#0000ff"/><rect x="484.75" y="366.25" width="14.97" height="14.99" fill="#0000ff"/><rect x="499.73" y="366.25" width="14.97" height="14.99" fill="#0000ff"/><rect x="514.70" y="366.25" width="14.97" height="14.99" fill="#335eff"/><rect x="529.67" y="366.25" width="14.97" height="14.99" fill="#38a8ff"/><rect x="544.63" y="366.25" width="14.97" height="14.99" fill="#38a8ff"/><rect x="559.61" y="366.25" width="14.97" height="14.99" fill="#38a8ff"/><rect x="574.58" y="366.25" width="14.97" height="14.99" fill="#00ffff"/><rect x="589.55" y="366.25" width="14.97" height="14.99" fill="#00ffff"/><rect x="604.51" y="366.25" width="14.97" height="14.99" fill="#00ffff"/><rect x="619.49" y="366.25" width="14.97" height="14.99" fill="#96ffb4"/><rect x="634.46" y="366.25" width="14.97" height="14.99" fill="#d2ff6a"/><rect x="649.43" y="366.25" width="14.97" height="14.99" fill="#d2ff6a"/><rect x="664.39" y="366.25" width="14.97" height="14.99" fill="#d2ff6a"/><rect x="679.37" y="366.25" width="14.97" height="14.99" fill="#d2ff6a"/><rect x="694.34" y="366.25" width="14.97" height="14.99" fill="#d2ff6a"/><rect x="709.30" y="366.25" width="14.97" height="14.99" fill="#d2ff6a"/><rect x="724.27" y="366.25" width="14.97" height="14.99" fill="#96ffb4"/><rect x="739.25" y="366.25" width="14.97" height="14.99" fill="#96ffb4"/><rect x="754.22" y="366.25" width="14.97" height="14.99" fill="#96ffb4"/><rect x="769.19" y="366.25" width="14.97" height="14.99" fill="#d2ff6a"/><rect x="784.15" y="366.25" width="14.97" height="14.99" fill="#d2ff6a"/><rect x="799.12" y="366.25" width="14.97" height="14.99" fill="#d2ff6a"/><rect x="65.59" y="351.26" width="14.97" height="14.99" fill="#ffffff"/><rect x="80.56" y="351.26" width="14.97" height="14.99" fill="#335eff"/><rect x="95.53" y="351.26" width="14.97" height="14.99" fill="url(#hatch)"/><rect x="110.50" y="351.26" width="14.97" height="14.99" fill="url(#hatch)"/><rect x="125.47" y="351.26" width="14.97" height="14.99" fill="url(#hatch)"/><rect x="140.44" y="351.26" width="14.97" height="14.99" fill="url(#hatch)"/><rect x="155.41" y="351.26" width="14.97" height="14.99" fill="url(#hatch)"/><rect x="170.39" y="351.26" width="14.97" height="14.99" fill="url(#hatch)"/><rect x="185.36" y="351.26" width="14.97" height="14.99" fill="#0000ff"/><rect x="200.33" y="351.26" width="14.97" height="14.99" fill="url(#hatch)"/><rect x="215.30" y="351.26" width="14.97" height="14.99" fill="url(#hatch)"/><rect x="230.27" y="351.26" width="14.97" height="14.99" fill="url(#hatch)"/><rect x="245.24" y="351.26" width="14.97" height="14.99" fill="url(#hatch)"/><rect x="260.21" y="351.26" width="14.97" height="14.99" fill="url(#hatch)"/><rect x="275.18" y="351.26" width="14.97" height="14.99" fill="url(#hatch)"/><rect x="290.14" y="351.26" width="14.97" height="14.99" fill="#0000ff"/><rect x="305.12" y="351.26" width="14.97" height="14.99" fill="url(#hatch)"/><rect x="320.09" y="351.26" width="14.97" height="14.99" fill="url(#hatch)"/><rect x="335.06" y="351.26" width="14.97" height="14.99" fill="#0000ff"/><rect x="350.02" y="351.26" width="14.97" height="14.99" fill="url(#hatch)"/><rect x="365.00" y="351.26" width="14.97" height="14.99" fill="url(#hatch)"/><rect x="379.97" y="351.26" width="14.97" height="14.99" fill="#0000ff"/><rect x="394.94" y="351.26" width="14.97" height="14.99" fill="url(#hatch)"/><rect x="409.91" y="351.26" width="14.97" height="14.99" fill="url(#hatch)"/><rect x="424.88" y="351.26" width="14.97" height="14.99" fill="#0000ff"/><rect x="439.85" y="351.26" width="14.97" height="14.99" fill="url(#hatch)"/><rect x="454.82" y="351.26" width="14.97" height="14.99" fill="#0000ff"/><rect x="469.78" y="351.26" width="14.97" height="14.99" fill="#0000ff"/><rect x="484.75" y="351.26" width="14.97" height="14.99" fill="#0000ff"/><rect x="499.73" y="351.26" width="14.97" height="14.99" fill="#335eff"/><rect x="514.70" y="351.26" width="14.97" height="14.99" fill="#335eff"/><rect x="529.67" y="351.26" width="14.97" height="14.99" fill="#335eff"/><rect x="544.63" y="351.26" width="14.97" height="14.99" fill="#38a8ff"/><rect x="559.61" y="351.26" width="14.97" height="14.99" fill="#00ffff"/><rect x="574.58" y="351.26" width="14.97" height="14.99" fill="#00ffff"/><rect x="589.55" y="351.26" width="14.97" height="14.99" fill="#96ffb4"/><rect x="604.51" y="351.26" width="14.97" height="14.99" fill="#96ffb4"/><rect x="619.49" y="351.26" width="14.97" height="14.99" fill="#96ffb4"/><rect x="634.46" y="351.26" width="14.97" height="14.99" fill="#d2ff6a"/><rect x="649.43" y="351.26" width="14.97" height="14.99" fill="#d2ff6a"/><rect x="664.39" y="351.26" width="14.97" height="14.99" fill="#d2ff6a"/><rect x="679.37" y="351.26" width="14.97" height="14.99" fill="#d2ff6a"/><rect x="694.34" y="351.26" width="14.97" height="14.99" fill="#d2ff6a"/><rect x="709.30" y="351.26" width="14.97" height="14.99" fill="#d2ff6a"/><rect x="724.27" y="351.26" width="14.97" height="14.99" fill="#96ffb4"/><rect x="739.25" y="351.26" width="14.97" height="14.99" fill="#96ffb4"/><rect x="754.22" y="351.26" width="14.97" height="14.99" fill="#96ffb4"/><rect x="769.19" y="351.26" width="14.97" height="14.99" fill="#96ffb4"/><rect x="784.15" y="351.26" width="14.97" height="14.99" fill="#96ffb4"/><rect x="799.12" y="351.26" width="14.97" height="14.99" fill="#96ffb4"/><rect x="50.62" y="336.27" width="14.97" height="14.99" fill="url(#hatch)"/><rect x="65.59" y="336.27" width="14.97" height="14.99" fill="#ffffff"/><rect x="80.56" y="336.27" width="14.97" height="14.99" fill="#335eff"/><rect x="95.53" y="336.27" width="14.97" height="14.99" fill="url(#hatch)"/><rect x="110.50" y="336.27" width="14.97" height="14.99" fill="url(#hatch)"/><rect x="125.47" y="336.27" width="14.97" height="14.99" fill="url(#hatch)"/><rect x="140.44" y="336.27" width="14.97" height="14.99" fill="url(#hatch)"/><rect x="155.41" y="336.27" width="14.97" height="14.99" fill="#0000ff"/><rect x="170.39" y="336.27" width="14.97" height="14.99" fill="#0000ff"/><rect x="185.36" y="336.27" width="14.97" height="14.99" fill="#0000ff"/><rect x="200.33" y="336.27" width="14.97" height="14.99" fill="url(#hatch)"/><rect x="215.30" y="336.27" width="14.97" height="14.99" fill="url(#hatch)"/><rect x="230.27" y="336.27" width="14.97" height="14.99" fill="#0000ff"/><rect x="245.24" y="336.27" width="14.97" height="14.99" fill="url(#hatch)"/><rect x="260.21" y="336.27" width="14.97" height="14.99" fill="url(#hatch)"/><rect x="275.18" y="336.27" width="14.97" height="14.99" fill="url(#hatch)"/><rect x="290.14" y="336.27" width="14.97" height="14.99" fill="url(#hatch)"/><rect x="305.12" y="336.27" width="14.97" height="14.99" fill="url(#hatch)"/><rect x="320.09" y="336.27" width="14.97" height="14.99" fill="url(#hatch)"/><rect x="335.06" y="336.27" width="14.97" height="14.99" fill="url(#hatch)"/><rect x="350.02" y="336.27" width="14.97" height="14.99" fill="#0000ff"/><rect x="365.00" y="336.27" width="14.97" height="14.99" fill="#0000ff"/><rect x="379.97" y="336.27" width="14.97" height="14.99" fill="url(#hatch)"/><rect x="394.94" y="336.27" width="14.97" height="14.99" fill="url(#hatch)"/><rect x="409.91" y="336.27" width="14.97" height="14.99" fill="#0000ff"/><rect x="424.88" y="336.27" width="14.97" height="14.99" fill="#0000ff"/><rect x="439.85" y="336.27" width="14.97" height="14.99" fill="#0000ff"/><rect x="454.82" y="336.27" width="14.97" height="14.99" fill="#0000ff"/><rect x="469.78" y="336.27" width="14.97" height="14.99" fill="#0000ff"/><rect x="484.75" y="336.27" width="14.97" height="14.99" fill="#335eff"/><rect x="499.73" y="336.27" width="14.97" height="14.99" fill="#335eff"/><rect x="514.70" y="336.27" width="14.97" height="14.99" fill="#335eff"/><rect x="529.67" y="336.27" width="14.97" height="14.99" fill="#335eff"/><rect x="544.63" y="336.27" width="14.97" height="14.99" fill="#38a8ff"/><rect x="559.61" y="336.27" width="14.97" height="14.99" fill="#38a8ff"/><rect x="574.58" y="336.27" width="14.97" height="14.99" fill="#00ffff"/><rect x="589.55" y="336.27" width="14.97" height="14.99" fill="#00ffff"/><rect x="604.51" y="336.27" width="14.97" height="14.99" fill="#96ffb4"/><rect x="619.49" y="336.27" width="14.97" height="14.99" fill="#d2ff6a"/><rect x="634.46" y="336.27" width="14.97" height="14.99" fill="#d2ff6a"/><rect x="649.43" y="336.27" width="14.97" height="14.99" fill="#d2ff6a"/><rect x="664.39" y="336.27" width="14.97" height="14.99" fill="#d2ff6a"/><rect x="679.37" y="336.27" width="14.97" height="14.99" fill="#d2ff6a"/><rect x="694.34" y="336.27" width="14.97" height="14.99" fill="#d2ff6a"/><rect x="709.30" y="336.27" width="14.97" height="14.99" fill="#d2ff6a"/><rect x="724.27" y="336.27" width="14.97" height="14.99" fill="#96ffb4"/><rect x="739.25" y="336.27" width="14.97" height="14.99" fill="#96ffb4"/><rect x="754.22" y="336.27" width="14.97" height="14.99" fill="#96ffb4"/><rect x="769.19" y="336.27" width="14.97" height="14.99" fill="#00ffff"/><rect x="784.15" y="336.27" width="14.97" height="14.99" fill="#00ffff"/><rect x="799.12" y="336.27" width="14.97" height="14.99" fill="#00ffff"/><rect x="35.66" y="321.28" width="14.97" height="14.99" fill="url(#hatch)"/><rect x="50.62" y="321.28" width="14.97" height="14.99" fill="url(#hatch)"/><rect x="65.59" y="321.28" width="14.97" height="14.99" fill="#ffffff"/><rect x="80.56" y="321.28" width="14.97" height="14.99" fill="#335eff"/><rect x="95.53" y="321.28" width="14.97" height="14.99" fill="url(#hatch)"/><rect x="110.50" y="321.28" width="14.97" height="14.99" fill="url(#hatch)"/><rect x="125.47" y="321.28" width="14.97" height="14.99" fill="#335eff"/><rect x="140.44" y="321.28" width="14.97" height="14.99" fill="#335eff"/><rect x="155.41" y="321.28" width="14.97" height="14.99" fill="#335eff"/><rect x="170.39" y="321.28" width="14.97" height="14.99" fill="#335eff"/><rect x="185.36" y="321.28" width="14.97" height="14.99" fill="url(#hatch)"/><rect x="200.33" y="321.28" width="14.97" height="14.99" fill="#0000ff"/><rect x="215.30" y="321.28" width="14.97" height="14.99" fill="url(#hatch)"/><rect x="230.27" y="321.28" width="14.97" height="14.99" fill="url(#hatch)"/><rect x="245.24" y="321.28" width="14.97" height="14.99" fill="url(#hatch)"/><rect x="260.21" y="321.28" width="14.97" height="14.99" fill="url(#hatch)"/><rect x="275.18" y="321.28" width="14.97" height="14.99" fill="url(#hatch)"/><rect x="290.14" y="321.28" width="14.97" height="14.99" fill="url(#hatch)"/><rect x="305.12" y="321.28" width="14.97" height="14.99" fill="url(#hatch)"/><rect x="320.09" y="321.28" width="14.97" height="14.99" fill="#0000ff"/><rect x="335.06" y="321.28" width="14.97" height="14.99" fill="#0000ff"/><rect x="350.02" y="321.28" width="14.97" height="14.99" fill="#0000ff"/><rect x="365.00" y="321.28" width="14.97" height="14.99" fill="#0000ff"/><rect x="379.97" y="321.28" width="14.97" height="14.99" fill="#335eff"/><rect x="394.94" y="321.28" width="14.97" height="14.99" fill="#335eff"/><rect x="409.91" y="321.28" width="14.97" height="14.99" fill="#335eff"/><rect x="424.88" y="321.28" width="14.97" height="14.99" fill="#0000ff"/><rect x="439.85" y="321.28" width="14.97" height="14.99" fill="#0000ff"/><rect x="454.82" y="321.28" width="14.97" height="14.99" fill="#0000ff"/><rect x="469.78" y="321.28" width="14.97" height="14.99" fill="#335eff"/><rect x="484.75" y="321.28" width="14.97" height="14.99" fill="#335eff"/><rect x="499.73" y="321.28" width="14.97" height="14.99" fill="#38a8ff"/><rect x="514.70" y="321.28" width="14.97" height="14.99" fill="#38a8ff"/><rect x="529.67" y="321.28" width="14.97" height="14.99" fill="#38a8ff"/><rect x="544.63" y="321.28" width="14.97" height="14.99" fill="#38a8ff"/><rect x="559.61" y="321.28" width="14.97" height="14.99" fill="#38a8ff"/><rect x="574.58" y="321.28" width="14.97" height="14.99" fill="#38a8ff"/><rect x="589.55" y="321.28" width="14.97" height="14.99" fill="#00ffff"/><rect x="604.51" y="321.28" width="14.97" height="14.99" fill="#96ffb4"/><rect x="619.49" y="321.28" width="14.97" height="14.99" fill="#d2ff6a"/><rect x="634.46" y="321.28" width="14.97" height="14.99" fill="#d2ff6a"/><rect x="649.43" y="321.28" width="14.97" height="14.99" fill="#d2ff6a"/><rect x="664.39" y="321.28" width="14.97" height="14.99" fill="#d2ff6a"/><rect x="679.37" y="321.28" width="14.97" height="14.99" fill="#d2ff6a"/><rect x="694.34" y="321.28" width="14.97" height="14.99" fill="#d2ff6a"/><rect x="709.30" y="321.28" width="14.97" height="14.99" fill="#96ffb4"/><rect x="724.27" y="321.28" width="14.97" height="14.99" fill="#96ffb4"/><rect x="739.25" y="321.28" width="14.97" height="14.99" fill="#96ffb4"/><rect x="754.22" y="321.28" width="14.97" height="14.99" fill="#96ffb4"/><rect x="769.19" y="321.28" width="14.97" height="14.99" fill="#00ffff"/><rect x="784.15" y="321.28" width="14.97" height="14.99" fill="#00ffff"/><rect x="799.12" y="321.28" width="14.97" height="14.99" fill="#00ffff"/><rect x="814.10" y="321.28" width="14.97" height="14.99" fill="#00ffff"/><rect x="20.69" y="306.29" width="14.97" height="14.99" fill="url(#hatch)"/><rect x="35.66" y="306.29" width="14.97" height="14.99" fill="url(#hatch)"/><rect x="50.62" y="306.29" width="14.97" height="14.99" fill="url(#hatch)"/><rect x="65.59" y="306.29" width="14.97" height="14.99" fill="#ffffff"/><rect x="80.56" y="306.29" width="14.97" height="14.99" fill="#38a8ff"/><rect x="95.53" y="306.29" width="14.97" height="14.99" fill="#38a8ff"/><rect x="110.50" y="306.29" width="14.97" height="14.99" fill="#335eff"/><rect x="125.47" y="306.29" width="14.97" height="14.99" fill="#38a8ff"/><rect x="140.44" y="306.29" width="14.97" height="14.99" fill="#38a8ff"/><rect x="155.41" y="306.29" width="14.97" height="14.99" fill="#38a8ff"/><rect x="170.39" y="306.29" width="14.97" height="14.99" fill="#38a8ff"/><rect x="185.36" y="306.29" width="14.97" height="14.99" fill="#38a8ff"/><rect x="200.33" y="306.29" width="14.97" height="14.99" fill="url(#hatch)"/><rect x="215.30" y="306.29" width="14.97" height="14.99" fill="#0000ff"/><rect x="230.27" y="306.29" width="14.97" height="14.99" fill="url(#hatch)"/><rect x="245.24" y="306.29" width="14.97" height="14.99" fill="url(#hatch)"/><rect x="260.21" y="306.29" width="14.97" height="14.99" fill="url(#hatch)"/><rect x="275.18" y="306.29" width="14.97" height="14.99" fill="#0000ff"/><rect x="290.14" y="306.29" width="14.97" height="14.99" fill="url(#hatch)"/><rect x="305.12" y="306.29" width="14.97" height="14.99" fill="url(#hatch)"/><rect x="320.09" y="306.29" width="14.97" height="14.99" fill="#0000ff"/><rect x="335.06" y="306.29" width="14.97" height="14.99" fill="#0000ff"/><rect x="350.02" y="306.29" width="14.97" height="14.99" fill="#335eff"/><rect x="365.00" y="306.29" width="14.97" height="14.99" fill="#335eff"/><rect x="379.97" y="306.29" width="14.97" height="14.99" fill="#335eff"/><rect x="394.94" y="306.29" width="14.97" height="14.99" fill="#335eff"/><rect x="409.91" y="306.29" width="14.97" height="14.99" fill="#335eff"/><rect x="424.88" y="306.29" width="14.97" height="14.99" fill="#335eff"/><rect x="439.85" y="306.29" width="14.97" height="14.99" fill="#335eff"/><rect x="454.82" y="306.29" width="14.97" height="14.99" fill="#335eff"/><rect x="469.78" y="306.29" width="14.97" height="14.99" fill="#335eff"/><rect x="484.75" y="306.29" width="14.97" height="14.99" fill="#335eff"/><rect x="499.73" y="306.29" width="14.97" height="14.99" fill="#335eff"/><rect x="514.70" y="306.29" width="14.97" height="14.99" fill="#38a8ff"/><rect x="529.67" y="306.29" width="14.97" height="14.99" fill="#38a8ff"/><rect x="544.63" y="306.29" width="14.97" height="14.99" fill="#38a8ff"/><rect x="559.61" y="306.29" width="14.97" height="14.99" fill="#38a8ff"/><rect x="574.58" y="306.29" width="14.97" height="14.99" fill="#38a8ff"/><rect x="589.55" y="306.29" width="14.97" height="14.99" fill="#38a8ff"/><rect x="604.51" y="306.29" width="14.97" height="14.99" fill="#00ffff"/><rect x="619.49" y="306.29" width="14.97" height="14.99" fill="#96ffb4"/><rect x="634.46" y="306.29" width="14.97" height="14.99" fill="#96ffb4"/><rect x="649.43" y="306.29" width="14.97" height="14.99" fill="#d2ff6a"/><rect x="664.39" y="306.29" width="14.97" height="14.99" fill="#d2ff6a"/><rect x="679.37" y="306.29" width="14.97" height="14.99" fill="#d2ff6a"/><rect x="694.34" y="306.29" width="14.97" height="14.99" fill="#d2ff6a"/><rect x="709.30" y="306.29" width="14.97" height="14.99" fill="#96ffb4"/><rect x="724.27" y="306.29" width="14.97" height="14.99" fill="#96ffb4"/><rect x="739.25" y="306.29" width="14.97" height="14.99" fill="#96ffb4"/><rect x="754.22" y="306.29" width="14.97" height="14.99" fill="#96ffb4"/><rect x="769.19" y="306.29" width="14.97" height="14.99" fill="#00ffff"/><rect x="784.15" y="306.29" width="14.97" height="14.99" fill="#00ffff"/><rect x="799.12" y="306.29" width="14.97" height="14.99" fill="#00ffff"/><rect x="814.10" y="306.29" width="14.97" height="14.99" fill="#00ffff"/><rect x="829.07" y="306.29" width="14.97" height="14.99" fill="#96ffb4"/><rect x="5.72" y="291.30" width="14.97" height="14.99" fill="url(#hatch)"/><rect x="20.69" y="291.30" width="14.97" height="14.99" fill="url(#hatch)"/><rect x="35.66" y="291.30" width="14.97" height="14.99" fill="url(#hatch)"/><rect x="50.62" y="291.30" width="14.97" height="14.99" fill="url(#hatch)"/><rect x="65.59" y="291.30" width="14.97" height="14.99" fill="url(#hatch)"/><rect x="80.56" y="291.30" width="14.97" height="14.99" fill="#335eff"/><rect x="95.53" y="291.30" width="14.97" height="14.99" fill="#38a8ff"/><rect x="110.50" y="291.30" width="14.97" height="14.99" fill="#38a8ff"/><rect x="125.47" y="291.30" width="14.97" height="14.99" fill="url(#hatch)"/><rect x="140.44" y="291.30" width="14.97" height="14.99" fill="url(#hatch)"/><rect x="155.41" y="291.30" width="14.97" height="14.99" fill="#00ffff"/><rect x="170.39" y="291.30" width="14.97" height="14.99" fill="url(#hatch)"/><rect x="185.36" y="291.30" width="14.97" height="14.99" fill="url(#hatch)"/><rect x="200.33" y="291.30" width="14.97" height="14.99" fill="#00ffff"/><rect x="215.30" y="291.30" width="14.97" height="14.99" fill="#38a8ff"/><rect x="230.27" y="291.30" width="14.97" height="14.99" fill="#335eff"/><rect x="245.24" y="291.30" width="14.97" height="14.99" fill="url(#hatch)"/><rect x="260.21" y="291.30" width="14.97" height="14.99" fill="#0000ff"/><rect x="275.18" y="291.30" width="14.97" height="14.99" fill="#0000ff"/><rect x="290.14" y="291.30" width="14.97" height="14.99" fill="url(#hatch)"/><rect x="305.12" y="291.30" width="14.97" height="14.99" fill="#0000ff"/><rect x="320.09" y="291.30" width="14.97" height="14.99" fill="#335eff"/><rect x="335.06" y="291.30" width="14.97" height="14.99" fill="#335eff"/><rect x="350.02" y="291.30" width="14.97" height="14.99" fill="#335eff"/><rect x="365.00" y="291.30" width="14.97" height="14.99" fill="#335eff"/><rect x="379.97" y="291.30" width="14.97" height="14.99" fill="url(#hatch)"/><rect x="394.94" y="291.30" width="14.97" height="14.99" fill="url(#hatch)"/><rect x="409.91" y="291.30" width="14.97" height="14.99" fill="url(#hatch)"/><rect x="424.88" y="291.30" width="14.97" height="14.99" fill="#335eff"/><rect x="439.85" y="291.30" width="14.97" height="14.99" fill="#335eff"/><rect x="454.82" y="291.30" width="14.97" height="14.99" fill="#335eff"/><rect x="469.78" y="291.30" width="14.97" height="14.99" fill="#335eff"/><rect x="484.75" y="291.30" width="14.97" height="14.99" fill="#335eff"/><rect x="499.73" y="291.30" width="14.97" height="14.99" fill="#335eff"/><rect x="514.70" y="291.30" width="14.97" height="14.99" fill="url(#hatch)"/><rect x="529.67" y="291.30" width="14.97" height="14.99" fill="#38a8ff"/><rect x="544.63" y="291.30" width="14.97" height="14.99" fill="#00ffff"/><rect x="559.61" y="291.30" width="14.97" height="14.99" fill="#38a8ff"/><rect x="574.58" y="291.30" width="14.97" height="14.99" fill="#38a8ff"/><rect x="589.55" y="291.30" width="14.97" height="14.99" fill="#38a8ff"/><rect x="604.51" y="291.30" width="14.97" height="14.99" fill="#00ffff"/><rect x="619.49" y="291.30" width="14.97" height="14.99" fill="#00ffff"/><rect x="634.46" y="291.30" width="14.97" height="14.99" fill="#96ffb4"/><rect x="649.43" y="291.30" width="14.97" height="14.99" fill="#96ffb4"/><rect x="664.39" y="291.30" width="14.97" height="14.99" fill="#96ffb4"/><rect x="679.37" y="291.30" width="14.97" height="14.99" fill="#96ffb4"/><rect x="694.34" y="291.30" width="14.97" height="14.99" fill="#ffff00"/><rect x="709.30" y="291.30" width="14.97" height="14.99" fill="#ffff00"/><rect x="724.27" y="291.30" width="14.97" height="14.99" fill="#ffff00"/><rect x="739.25" y="291.30" width="14.97" height="14.99" fill="#ffff00"/><rect x="754.22" y="291.30" width="14.97" height="14.99" fill="#d2ff6a"/><rect x="769.19" y="291.30" width="14.97" height="14.99" fill="#ffff00"/><rect x="784.15" y="291.30" width="14.97" height="14.99" fill="#d2ff6a"/><rect x="799.12" y="291.30" width="14.97" height="14.99" fill="#d2ff6a"/><rect x="814.10" y="291.30" width="14.97" height="14.99" fill="#96ffb4"/><rect x="829.07" y="291.30" width="14.97" height="14.99" fill="#96ffb4"/><rect x="844.03" y="291.30" width="14.97" height="14.99" fill="#96ffb4"/><rect x="859.00" y="291.30" width="14.97" height="14.99" fill="#96ffb4"/><rect x="873.98" y="291.30" width="14.97" height="14.99" fill="#00ffff"/><rect x="5.72" y="276.31" width="14.97" height="14.99" fill="#335eff"/><rect x="20.69" y="276.31" width="14.97" height="14.99" fill="#335eff"/><rect x="35.66" y="276.31" width="14.97" height="14.99" fill="#335eff"/><rect x="50.62" y="276.31" width="14.97" height="14.99" fill="#335eff"/><rect x="65.59" y="276.31" width="14.97" height="14.99" fill="url(#hatch)"/><rect x="80.56" y="276.31" width="14.97" height="14.99" fill="#335eff"/><rect x="95.53" y="276.31" width="14.97" height="14.99" fill="#38a8ff"/><rect x="110.50" y="276.31" width="14.97" height="14.99" fill="#00ffff"/><rect x="125.47" y="276.31" width="14.97" height="14.99" fill="#00ffff"/><rect x="140.44" y="276.31" width="14.97" height="14.99" fill="#00ffff"/><rect x="155.41" y="276.31" width="14.97" height="14.99" fill="#00ffff"/><rect x="170.39" y="276.31" width="14.97" height="14.99" fill="url(#hatch)"/><rect x="185.36" y="276.31" width="14.97" height="14.99" fill="#00ffff"/><rect x="200.33" y="276.31" width="14.97" height="14.99" fill="#00ffff"/><rect x="215.30" y="276.31" width="14.97" height="14.99" fill="url(#hatch)"/><rect x="230.27" y="276.31" width="14.97" height="14.99" fill="url(#hatch)"/><rect x="245.24" y="276.31" width="14.97" height="14.99" fill="url(#hatch)"/><rect x="260.21" y="276.31" width="14.97" height="14.99" fill="url(#hatch)"/><rect x="275.18" y="276.31" width="14.97" height="14.99" fill="#38a8ff"/><rect x="290.14" y="276.31" width="14.97" height="14.99" fill="url(#hatch)"/><rect x="305.12" y="276.31" width="14.97" height="14.99" fill="url(#hatch)"/><rect x="320.09" y="276.31" width="14.97" height="14.99" fill="url(#hatch)"/><rect x="335.06" y="276.31" width="14.97" height="14.99" fill="url(#hatch)"/><rect x="350.02" y="276.31" width="14.97" height="14.99" fill="#335eff"/><rect x="365.00" y="276.31" width="14.97" height="14.99" fill="#335eff"/><rect x="379.97" y="276.31" width="14.97" height="14.99" fill="url(#hatch)"/><rect x="394.94" y="276.31" width="14.97" height="14.99" fill="#0000ff"/><rect x="409.91" y="276.31" width="14.97" height="14.99" fill="#335eff"/><rect x="424.88" y="276.31" width="14.97" height="14.99" fill="#335eff"/><rect x="439.85" y="276.31" width="14.97" height="14.99" fill="#335eff"/><rect x="454.82" y="276.31" width="14.97" height="14.99" fill="#335eff"/><rect x="469.78" y="276.31" width="14.97" height="14.99" fill="#335eff"/><rect x="484.75" y="276.31" width="14.97" height="14.99" fill="#335eff"/><rect x="499.73" y="276.31" width="14.97" height="14.99" fill="#335eff"/><rect x="514.70" y="276.31" width="14.97" height="14.99" fill="url(#hatch)"/><rect x="529.67" y="276.31" width="14.97" height="14.99" fill="#335eff"/><rect x="544.63" y="276.31" width="14.97" height="14.99" fill="#38a8ff"/><rect x="559.61" y="276.31" width="14.97" height="14.99" fill="#335eff"/><rect x="574.58" y="276.31" width="14.97" height="14.99" fill="#335eff"/><rect x="589.55" y="276.31" width="14.97" height="14.99" fill="#335eff"/><rect x="604.51" y="276.31" width="14.97" height="14.99" fill="#d2ff6a"/><rect x="619.49" y="276.31" width="14.97" height="14.99" fill="#d2ff6a"/><rect x="634.46" y="276.31" width="14.97" height="14.99" fill="#d2ff6a"/><rect x="649.43" y="276.31" width="14.97" height="14.99" fill="#d2ff6a"/><rect x="664.39" y="276.31" width="14.97" height="14.99" fill="#d2ff6a"/><rect x="679.37" y="276.31" width="14.97" height="14.99" fill="#ffff00"/><rect x="694.34" y="276.31" width="14.97" height="14.99" fill="#ffff00"/><rect x="709.30" y="276.31" width="14.97" height="14.99" fill="#ffff00"/><rect x="724.27" y="276.31" width="14.97" height="14.99" fill="#ffff00"/><rect x="739.25" y="276.31" width="14.97" height="14.99" fill="#ffff00"/><rect x="754.22" y="276.31" width="14.97" height="14.99" fill="#d2ff6a"/><rect x="769.19" y="276.31" width="14.97" height="14.99" fill="#d2ff6a"/><rect x="784.15" y="276.31" width="14.97" height="14.99" fill="#d2ff6a"/><rect x="799.12" y="276.31" width="14.97" height="14.99" fill="#d2ff6a"/><rect x="814.10" y="276.31" width="14.97" height="14.99" fill="#96ffb4"/><rect x="829.07" y="276.31" width="14.97" height="14.99" fill="#96ffb4"/><rect x="844.03" y="276.31" width="14.97" height="14.99" fill="#96ffb4"/><rect x="859.00" y="276.31" width="14.97" height="14.99" fill="#96ffb4"/><rect x="873.98" y="276.31" width="14.97" height="14.99" fill="#00ffff"/><rect x="888.95" y="276.31" width="14.97" height="14.99" fill="#96ffb4"/><rect x="903.91" y="276.31" width="14.97" height="14.99" fill="#96ffb4"/><rect x="20.69" y="261.32" width="14.97" height="14.99" fill="#335eff"/><rect x="35.66" y="261.32" width="14.97" height="14.99" fill="#335eff"/><rect x="50.62" y="261.32" width="14.97" height="14.99" fill="#335eff"/><rect x="65.59" y="261.32" width="14.97" height="14.99" fill="#335eff"/><rect x="80.56" y="261.32" width="14.97" height="14.99" fill="url(#hatch)"/><rect x="95.53" y="261.32" width="14.97" height="14.99" fill="url(#hatch)"/><rect x="110.50" y="261.32" width="14.97" height="14.99" fill="url(#hatch)"/><rect x="125.47" y="261.32" width="14.97" height="14.99" fill="#38a8ff"/><rect x="140.44" y="261.32" width="14.97" height="14.99" fill="#38a8ff"/><rect x="155.41" y="261.32" width="14.97" height="14.99" fill="#00ffff"/><rect x="170.39" y="261.32" width="14.97" height="14.99" fill="#00ffff"/><rect x="185.36" y="261.32" width="14.97" height="14.99" fill="#00ffff"/><rect x="200.33" y="261.32" width="14.97" height="14.99" fill="#00ffff"/><rect x="215.30" y="261.32" width="14.97" height="14.99" fill="#96ffb4"/><rect x="230.27" y="261.32" width="14.97" height="14.99" fill="url(#hatch)"/><rect x="245.24" y="261.32" width="14.97" height="14.99" fill="#96ffb4"/><rect x="260.21" y="261.32" width="14.97" height="14.99" fill="#96ffb4"/><rect x="275.18" y="261.32" width="14.97" height="14.99" fill="url(#hatch)"/><rect x="290.14" y="261.32" width="14.97" height="14.99" fill="url(#hatch)"/><rect x="305.12" y="261.32" width="14.97" height="14.99" fill="url(#hatch)"/><rect x="320.09" y="261.32" width="14.97" height="14.99" fill="#00ffff"/><rect x="335.06" y="261.32" width="14.97" height="14.99" fill="url(#hatch)"/><rect x="350.02" y="261.32" width="14.97" height="14.99" fill="url(#hatch)"/><rect x="365.00" y="261.32" width="14.97" height="14.99" fill="#38a8ff"/><rect x="379.97" y="261.32" width="14.97" height="14.99" fill="#38a8ff"/><rect x="394.94" y="261.32" width="14.97" height="14.99" fill="#335eff"/><rect x="409.91" y="261.32" width="14.97" height="14.99" fill="#335eff"/><rect x="424.88" y="261.32" width="14.97" height="14.99" fill="#38a8ff"/><rect x="439.85" y="261.32" width="14.97" height="14.99" fill="#38a8ff"/><rect x="454.82" y="261.32" width="14.97" height="14.99" fill="#38a8ff"/><rect x="469.78" y="261.32" width="14.97" height="14.99" fill="url(#hatch)"/><rect x="484.75" y="261.32" width="14.97" height="14.99" fill="url(#hatch)"/><rect x="499.73" y="261.32" width="14.97" height="14.99" fill="#0000ff"/><rect x="514.70" y="261.32" width="14.97" height="14.99" fill="#0000ff"/><rect x="529.67" y="261.32" width="14.97" height="14.99" fill="url(#hatch)"/><rect x="544.63" y="261.32" width="14.97" height="14.99" fill="#00ffff"/><rect x="559.61" y="261.32" width="14.97" height="14.99" fill="#00ffff"/><rect x="574.58" y="261.32" width="14.97" height="14.99" fill="#00ffff"/><rect x="589.55" y="261.32" width="14.97" height="14.99" fill="#96ffb4"/><rect x="604.51" y="261.32" width="14.97" height="14.99" fill="#d2ff6a"/><rect x="619.49" y="261.32" width="14.97" height="14.99" fill="#d2ff6a"/><rect x="634.46" y="261.32" width="14.97" height="14.99" fill="#96ffb4"/><rect x="649.43" y="261.32" width="14.97" height="14.99" fill="#96ffb4"/><rect x="664.39" y="261.32" width="14.97" height="14.99" fill="#d2ff6a"/><rect x="679.37" y="261.32" width="14.97" height="14.99" fill="#d2ff6a"/><rect x="694.34" y="261.32" width="14.97" height="14.99" fill="#d2ff6a"/><rect x="709.30" y="261.32" width="14.97" height="14.99" fill="#ffff00"/><rect x="724.27" y="261.32" width="14.97" height="14.99" fill="#ffff00"/><rect x="739.25" y="261.32" width="14.97" height="14.99" fill="#d2ff6a"/><rect x="754.22" y="261.32" width="14.97" height="14.99" fill="#d2ff6a"/><rect x="769.19" y="261.32" width="14.97" height="14.99" fill="#d2ff6a"/><rect x="784.15" y="261.32" width="14.97" height="14.99" fill="#d2ff6a"/><rect x="799.12" y="261.32" width="14.97" height="14.99" fill="#d2ff6a"/><rect x="814.10" y="261.32" width="14.97" height="14.99" fill="#96ffb4"/><rect x="829.07" y="261.32" width="14.97" height="14.99" fill="#96ffb4"/><rect x="844.03" y="261.32" width="14.97" height="14.99" fill="#96ffb4"/><rect x="859.00" y="261.32" width="14.97" height="14.99" fill="#96ffb4"/><rect x="873.98" y="261.32" width="14.97" height="14.99" fill="#00ffff"/><rect x="888.95" y="261.32" width="14.97" height="14.99" fill="#96ffb4"/><rect x="903.91" y="261.32" width="14.97" height="14.99" fill="#96ffb4"/><rect x="918.88" y="261.32" width="14.97" height="14.99" fill="#96ffb4"/><rect x="35.66" y="246.33" width="14.97" height="14.99" fill="#335eff"/><rect x="50.62" y="246.33" width="14.97" height="14.99" fill="#335eff"/><rect x="65.59" y="246.33" width="14.97" height="14.99" fill="#335eff"/><rect x="80.56" y="246.33" width="14.97" height="14.99" fill="url(#hatch)"/><rect x="95.53" y="246.33" width="14.97" height="14.99" fill="url(#hatch)"/><rect x="110.50" y="246.33" width="14.97" height="14.99" fill="url(#hatch)"/><rect x="125.47" y="246.33" width="14.97" height="14.99" fill="#335eff"/><rect x="140.44" y="246.33" width="14.97" height="14.99" fill="#38a8ff"/><rect x="155.41" y="246.33" width="14.97" height="14.99" fill="#38a8ff"/><rect x="170.39" y="246.33" width="14.97" height="14.99" fill="#38a8ff"/><rect x="185.36" y="246.33" width="14.97" height="14.99" fill="#00ffff"/><rect x="200.33" y="246.33" width="14.97" height="14.99" fill="#00ffff"/><rect x="215.30" y="246.33" width="14.97" height="14.99" fill="#00ffff"/><rect x="230.27" y="246.33" width="14.97" height="14.99" fill="#96ffb4"/><rect x="245.24" y="246.33" width="14.97" height="14.99" fill="#96ffb4"/><rect x="260.21" y="246.33" width="14.97" height="14.99" fill="#96ffb4"/><rect x="275.18" y="246.33" width="14.97" height="14.99" fill="#96ffb4"/><rect x="290.14" y="246.33" width="14.97" height="14.99" fill="#96ffb4"/><rect x="305.12" y="246.33" width="14.97" height="14.99" fill="#00ffff"/><rect x="320.09" y="246.33" width="14.97" height="14.99" fill="#00ffff"/><rect x="335.06" y="246.33" width="14.97" height="14.99" fill="url(#hatch)"/><rect x="350.02" y="246.33" width="14.97" height="14.99" fill="#38a8ff"/><rect x="365.00" y="246.33" width="14.97" height="14.99" fill="#38a8ff"/><rect x="379.97" y="246.33" width="14.97" height="14.99" fill="#38a8ff"/><rect x="394.94" y="246.33" width="14.97" height="14.99" fill="#335eff"/><rect x="409.91" y="246.33" width="14.97" height="14.99" fill="#335eff"/><rect x="424.88" y="246.33" width="14.97" height="14.99" fill="url(#hatch)"/><rect x="439.85" y="246.33" width="14.97" height="14.99" fill="#335eff"/><rect x="454.82" y="246.33" width="14.97" height="14.99" fill="#335eff"/><rect x="469.78" y="246.33" width="14.97" height="14.99" fill="#335eff"/><rect x="484.75" y="246.33" width="14.97" height="14.99" fill="url(#hatch)"/><rect x="499.73" y="246.33" width="14.97" height="14.99" fill="url(#hatch)"/><rect x="514.70" y="246.33" width="14.97" height="14.99" fill="url(#hatch)"/><rect x="529.67" y="246.33" width="14.97" height="14.99" fill="url(#hatch)"/><rect x="544.63" y="246.33" width="14.97" height="14.99" fill="#38a8ff"/><rect x="559.61" y="246.33" width="14.97" height="14.99" fill="#38a8ff"/><rect x="574.58" y="246.33" width="14.97" height="14.99" fill="#00ffff"/><rect x="589.55" y="246.33" width="14.97" height="14.99" fill="#00ffff"/><rect x="604.51" y="246.33" width="14.97" height="14.99" fill="#00ffff"/><rect x="619.49" y="246.33" width="14.97" height="14.99" fill="#00ffff"/><rect x="634.46" y="246.33" width="14.97" height="14.99" fill="#00ffff"/><rect x="649.43" y="246.33" width="14.97" height="14.99" fill="#00ffff"/><rect x="664.39" y="246.33" width="14.97" height="14.99" fill="#00ffff"/><rect x="679.37" y="246.33" width="14.97" height="14.99" fill="#00ffff"/><rect x="694.34" y="246.33" width="14.97" height="14.99" fill="#96ffb4"/><rect x="709.30" y="246.33" width="14.97" height="14.99" fill="#d2ff6a"/><rect x="724.27" y="246.33" width="14.97" height="14.99" fill="#d2ff6a"/><rect x="739.25" y="246.33" width="14.97" height="14.99" fill="#96ffb4"/><rect x="754.22" y="246.33" width="14.97" height="14.99" fill="#96ffb4"/><rect x="769.19" y="246.33" width="14.97" height="14.99" fill="#96ffb4"/><rect x="784.15" y="246.33" width="14.97" height="14.99" fill="#96ffb4"/><rect x="799.12" y="246.33" width="14.97" height="14.99" fill="#96ffb4"/><rect x="814.10" y="246.33" width="14.97" height="14.99" fill="#96ffb4"/><rect x="829.07" y="246.33" width="14.97" height="14.99" fill="#00ffff"/><rect x="844.03" y="246.33" width="14.97" height="14.99" fill="#96ffb4"/><rect x="859.00" y="246.33" width="14.97" height="14.99" fill="#96ffb4"/><rect x="873.98" y="246.33" width="14.97" height="14.99" fill="#00ffff"/><rect x="888.95" y="246.33" width="14.97" height="14.99" fill="#96ffb4"/><rect x="903.91" y="246.33" width="14.97" height="14.99" fill="#96ffb4"/><rect x="918.88" y="246.33" width="14.97" height="14.99" fill="#96ffb4"/><rect x="933.86" y="246.33" width="14.97" height="14.99" fill="#96ffb4"/><rect x="50.62" y="231.34" width="14.97" height="14.99" fill="#335eff"/><rect x="65.59" y="231.34" width="14.97" height="14.99" fill="#335eff"/><rect x="80.56" y="231.34" width="14.97" height="14.99" fill="url(#hatch)"/><rect x="95.53" y="231.34" width="14.97" height="14.99" fill="url(#hatch)"/><rect x="110.50" y="231.34" width="14.97" height="14.99" fill="url(#hatch)"/><rect x="125.47" y="231.34" width="14.97" height="14.99" fill="#335eff"/><rect x="140.44" y="231.34" width="14.97" height="14.99" fill="#38a8ff"/><rect x="155.41" y="231.34" width="14.97" height="14.99" fill="#335eff"/><rect x="170.39" y="231.34" width="14.97" height="14.99" fill="#335eff"/><rect x="185.36" y="231.34" width="14.97" height="14.99" fill="#335eff"/><rect x="200.33" y="231.34" width="14.97" height="14.99" fill="#335eff"/><rect x="215.30" y="231.34" width="14.97" height="14.99" fill="#38a8ff"/><rect x="230.27" y="231.34" width="14.97" height="14.99" fill="#00ffff"/><rect x="245.24" y="231.34" width="14.97" height="14.99" fill="#00ffff"/><rect x="260.21" y="231.34" width="14.97" height="14.99" fill="#96ffb4"/><rect x="275.18" y="231.34" width="14.97" height="14.99" fill="#96ffb4"/><rect x="290.14" y="231.34" width="14.97" height="14.99" fill="#96ffb4"/><rect x="305.12" y="231.34" width="14.97" height="14.99" fill="#00ffff"/><rect x="320.09" y="231.34" width="14.97" height="14.99" fill="#38a8ff"/><rect x="335.06" y="231.34" width="14.97" height="14.99" fill="#38a8ff"/><rect x="350.02" y="231.34" width="14.97" height="14.99" fill="#335eff"/><rect x="365.00" y="231.34" width="14.97" height="14.99" fill="#335eff"/><rect x="379.97" y="231.34" width="14.97" height="14.99" fill="#335eff"/><rect x="394.94" y="231.34" width="14.97" height="14.99" fill="#335eff"/><rect x="409.91" y="231.34" width="14.97" height="14.99" fill="url(#hatch)"/><rect x="424.88" y="231.34" width="14.97" height="14.99" fill="#00ffff"/><rect x="439.85" y="231.34" width="14.97" height="14.99" fill="#00ffff"/><rect x="454.82" y="231.34" width="14.97" height="14.99" fill="#00ffff"/><rect x="469.78" y="231.34" width="14.97" height="14.99" fill="#00ffff"/><rect x="484.75" y="231.34" width="14.97" height="14.99" fill="url(#hatch)"/><rect x="499.73" y="231.34" width="14.97" height="14.99" fill="url(#hatch)"/><rect x="514.70" y="231.34" width="14.97" height="14.99" fill="url(#hatch)"/><rect x="529.67" y="231.34" width="14.97" height="14.99" fill="url(#hatch)"/><rect x="544.63" y="231.34" width="14.97" height="14.99" fill="#38a8ff"/><rect x="559.61" y="231.34" width="14.97" height="14.99" fill="#38a8ff"/><rect x="574.58" y="231.34" width="14.97" height="14.99" fill="url(#hatch)"/><rect x="589.55" y="231.34" width="14.97" height="14.99" fill="#38a8ff"/><rect x="604.51" y="231.34" width="14.97" height="14.99" fill="#38a8ff"/><rect x="619.49" y="231.34" width="14.97" height="14.99" fill="url(#hatch)"/><rect x="634.46" y="231.34" width="14.97" height="14.99" fill="#335eff"/><rect x="649.43" y="231.34" width="14.97" height="14.99" fill="#335eff"/><rect x="664.39" y="231.34" width="14.97" height="14.99" fill="#335eff"/><rect x="679.37" y="231.34" width="14.97" height="14.99" fill="#335eff"/><rect x="694.34" y="231.34" width="14.97" height="14.99" fill="#38a8ff"/><rect x="709.30" y="231.34" width="14.97" height="14.99" fill="#00ffff"/><rect x="724.27" y="231.34" width="14.97" height="14.99" fill="#00ffff"/><rect x="739.25" y="231.34" width="14.97" height="14.99" fill="#38a8ff"/><rect x="754.22" y="231.34" width="14.97" height="14.99" fill="#38a8ff"/><rect x="769.19" y="231.34" width="14.97" height="14.99" fill="#38a8ff"/><rect x="784.15" y="231.34" width="14.97" height="14.99" fill="#00ffff"/><rect x="799.12" y="231.34" width="14.97" height="14.99" fill="#00ffff"/><rect x="814.10" y="231.34" width="14.97" height="14.99" fill="#00ffff"/><rect x="829.07" y="231.34" width="14.97" height="14.99" fill="#00ffff"/><rect x="844.03" y="231.34" width="14.97" height="14.99" fill="#00ffff"/><rect x="859.00" y="231.34" width="14.97" height="14.99" fill="#00ffff"/><rect x="873.98" y="231.34" width="14.97" height="14.99" fill="#00ffff"/><rect x="888.95" y="231.34" width="14.97" height="14.99" fill="#96ffb4"/><rect x="903.91" y="231.34" width="14.97" height="14.99" fill="#96ffb4"/><rect x="918.88" y="231.34" width="14.97" height="14.99" fill="#96ffb4"/><rect x="933.86" y="231.34" width="14.97" height="14.99" fill="#96ffb4"/><rect x="948.83" y="231.34" width="14.97" height="14.99" fill="#96ffb4"/><rect x="65.59" y="216.35" width="14.97" height="14.99" fill="#335eff"/><rect x="80.56" y="216.35" width="14.97" height="14.99" fill="url(#hatch)"/><rect x="95.53" y="216.35" width="14.97" height="14.99" fill="url(#hatch)"/><rect x="110.50" y="216.35" width="14.97" height="14.99" fill="url(#hatch)"/><rect x="125.47" y="216.35" width="14.97" height="14.99" fill="#335eff"/><rect x="140.44" y="216.35" width="14.97" height="14.99" fill="#335eff"/><rect x="155.41" y="216.35" width="14.97" height="14.99" fill="#335eff"/><rect x="170.39" y="216.35" width="14.97" height="14.99" fill="#335eff"/><rect x="185.36" y="216.35" width="14.97" height="14.99" fill="#335eff"/><rect x="200.33" y="216.35" width="14.97" height="14.99" fill="#335eff"/><rect x="215.30" y="216.35" width="14.97" height="14.99" fill="#335eff"/><rect x="230.27" y="216.35" width="14.97" height="14.99" fill="#335eff"/><rect x="245.24" y="216.35" width="14.97" height="14.99" fill="#38a8ff"/><rect x="260.21" y="216.35" width="14.97" height="14.99" fill="#d2ff6a"/><rect x="275.18" y="216.35" width="14.97" height="14.99" fill="#d2ff6a"/><rect x="290.14" y="216.35" width="14.97" height="14.99" fill="#d2ff6a"/><rect x="305.12" y="216.35" width="14.97" height="14.99" fill="#96ffb4"/><rect x="320.09" y="216.35" width="14.97" height="14.99" fill="#96ffb4"/><rect x="335.06" y="216.35" width="14.97" height="14.99" fill="#00ffff"/><rect x="350.02" y="216.35" width="14.97" height="14.99" fill="#00ffff"/><rect x="365.00" y="216.35" width="14.97" height="14.99" fill="#38a8ff"/><rect x="379.97" y="216.35" width="14.97" height="14.99" fill="#00ffff"/><rect x="394.94" y="216.35" width="14.97" height="14.99" fill="#335eff"/><rect x="409.91" y="216.35" width="14.97" height="14.99" fill="url(#hatch)"/><rect x="424.88" y="216.35" width="14.97" height="14.99" fill="#00ffff"/><rect x="439.85" y="216.35" width="14.97" height="14.99" fill="#00ffff"/><rect x="454.82" y="216.35" width="14.97" height="14.99" fill="#00ffff"/><rect x="469.78" y="216.35" width="14.97" height="14.99" fill="#00ffff"/><rect x="484.75" y="216.35" width="14.97" height="14.99" fill="url(#hatch)"/><rect x="499.73" y="216.35" width="14.97" height="14.99" fill="url(#hatch)"/><rect x="514.70" y="216.35" width="14.97" height="14.99" fill="url(#hatch)"/><rect x="529.67" y="216.35" width="14.97" height="14.99" fill="url(#hatch)"/><rect x="544.63" y="216.35" width="14.97" height="14.99" fill="#38a8ff"/><rect x="559.61" y="216.35" width="14.97" height="14.99" fill="#38a8ff"/><rect x="574.58" y="216.35" width="14.97" height="14.99" fill="url(#hatch)"/><rect x="589.55" y="216.35" width="14.97" height="14.99" fill="#38a8ff"/><rect x="604.51" y="216.35" width="14.97" height="14.99" fill="#335eff"/><rect x="619.49" y="216.35" width="14.97" height="14.99" fill="#335eff"/><rect x="634.46" y="216.35" width="14.97" height="14.99" fill="#335eff"/><rect x="649.43" y="216.35" width="14.97" height="14.99" fill="#335eff"/><rect x="664.39" y="216.35" width="14.97" height="14.99" fill="#335eff"/><rect x="679.37" y="216.35" width="14.97" height="14.99" fill="#335eff"/><rect x="694.34" y="216.35" width="14.97" height="14.99" fill="#335eff"/><rect x="709.30" y="216.35" width="14.97" height="14.99" fill="#38a8ff"/><rect x="724.27" y="216.35" width="14.97" height="14.99" fill="#38a8ff"/><rect x="739.25" y="216.35" width="14.97" height="14.99" fill="#38a8ff"/><rect x="754.22" y="216.35" width="14.97" height="14.99" fill="#335eff"/><rect x="769.19" y="216.35" width="14.97" height="14.99" fill="#335eff"/><rect x="784.15" y="216.35" width="14.97" height="14.99" fill="#335eff"/><rect x="799.12" y="216.35" width="14.97" height="14.99" fill="#38a8ff"/><rect x="814.10" y="216.35" width="14.97" height="14.99" fill="#00ffff"/><rect x="829.07" y="216.35" width="14.97" height="14.99" fill="#00ffff"/><rect x="844.03" y="216.35" width="14.97" height="14.99" fill="#00ffff"/><rect x="859.00" y="216.35" width="14.97" height="14.99" fill="#00ffff"/><rect x="873.98" y="216.35" width="14.97" height="14.99" fill="#96ffb4"/><rect x="888.95" y="216.35" width="14.97" height="14.99" fill="#96ffb4"/><rect x="903.91" y="216.35" width="14.97" height="14.99" fill="#96ffb4"/><rect x="918.88" y="216.35" width="14.97" height="14.99" fill="#96ffb4"/><rect x="933.86" y="216.35" width="14.97" height="14.99" fill="#96ffb4"/><rect x="948.83" y="216.35" width="14.97" height="14.99" fill="#96ffb4"/><rect x="963.79" y="216.35" width="14.97" height="14.99" fill="#96ffb4"/><rect x="110.50" y="201.36" width="14.97" height="14.99" fill="#0000ff"/><rect x="125.47" y="201.36" width="14.97" height="14.99" fill="#0000ff"/><rect x="140.44" y="201.36" width="14.97" height="14.99" fill="#0000ff"/><rect x="155.41" y="201.36" width="14.97" height="14.99" fill="#0000ff"/><rect x="170.39" y="201.36" width="14.97" height="14.99" fill="#0000ff"/><rect x="185.36" y="201.36" width="14.97" height="14.99" fill="#0000ff"/><rect x="200.33" y="201.36" width="14.97" height="14.99" fill="#00ffff"/><rect x="215.30" y="201.36" width="14.97" height="14.99" fill="#00ffff"/><rect x="230.27" y="201.36" width="14.97" height="14.99" fill="#00ffff"/><rect x="245.24" y="201.36" width="14.97" height="14.99" fill="#96ffb4"/><rect x="260.21" y="201.36" width="14.97" height="14.99" fill="#96ffb4"/><rect x="275.18" y="201.36" width="14.97" height="14.99" fill="#96ffb4"/><rect x="290.14" y="201.36" width="14.97" height="14.99" fill="#96ffb4"/><rect x="305.12" y="201.36" width="14.97" height="14.99" fill="#96ffb4"/><rect x="320.09" y="201.36" width="14.97" height="14.99" fill="#00ffff"/><rect x="335.06" y="201.36" width="14.97" height="14.99" fill="#00ffff"/><rect x="350.02" y="201.36" width="14.97" height="14.99" fill="url(#hatch)"/><rect x="365.00" y="201.36" width="14.97" height="14.99" fill="#38a8ff"/><rect x="379.97" y="201.36" width="14.97" height="14.99" fill="#00ffff"/><rect x="394.94" y="201.36" width="14.97" height="14.99" fill="#00ffff"/><rect x="409.91" y="201.36" width="14.97" height="14.99" fill="url(#hatch)"/><rect x="424.88" y="201.36" width="14.97" height="14.99" fill="#00ffff"/><rect x="439.85" y="201.36" width="14.97" height="14.99" fill="#00ffff"/><rect x="454.82" y="201.36" width="14.97" height="14.99" fill="#00ffff"/><rect x="469.78" y="201.36" width="14.97" height="14.99" fill="#00ffff"/><rect x="484.75" y="201.36" width="14.97" height="14.99" fill="url(#hatch)"/><rect x="499.73" y="201.36" width="14.97" height="14.99" fill="url(#hatch)"/><rect x="514.70" y="201.36" width="14.97" height="14.99" fill="url(#hatch)"/><rect x="529.67" y="201.36" width="14.97" height="14.99" fill="url(#hatch)"/><rect x="544.63" y="201.36" width="14.97" height="14.99" fill="#38a8ff"/><rect x="559.61" y="201.36" width="14.97" height="14.99" fill="#38a8ff"/><rect x="574.58" y="201.36" width="14.97" height="14.99" fill="url(#hatch)"/><rect x="589.55" y="201.36" width="14.97" height="14.99" fill="#38a8ff"/><rect x="604.51" y="201.36" width="14.97" height="14.99" fill="#335eff"/><rect x="619.49" y="201.36" width="14.97" height="14.99" fill="#335eff"/><rect x="634.46" y="201.36" width="14.97" height="14.99" fill="url(#hatch)"/><rect x="649.43" y="201.36" width="14.97" height="14.99" fill="#0000ff"/><rect x="664.39" y="201.36" width="14.97" height="14.99" fill="#0000ff"/><rect x="679.37" y="201.36" width="14.97" height="14.99" fill="#335eff"/><rect x="694.34" y="201.36" width="14.97" height="14.99" fill="#335eff"/><rect x="709.30" y="201.36" width="14.97" height="14.99" fill="#335eff"/><rect x="724.27" y="201.36" width="14.97" height="14.99" fill="#335eff"/><rect x="739.25" y="201.36" width="14.97" height="14.99" fill="#38a8ff"/><rect x="754.22" y="201.36" width="14.97" height="14.99" fill="#335eff"/><rect x="769.19" y="201.36" width="14.97" height="14.99" fill="#335eff"/><rect x="784.15" y="201.36" width="14.97" height="14.99" fill="#335eff"/><rect x="799.12" y="201.36" width="14.97" height="14.99" fill="#38a8ff"/><rect x="814.10" y="201.36" width="14.97" height="14.99" fill="#38a8ff"/><rect x="829.07" y="201.36" width="14.97" height="14.99" fill="#38a8ff"/><rect x="844.03" y="201.36" width="14.97" height="14.99" fill="#00ffff"/><rect x="859.00" y="201.36" width="14.97" height="14.99" fill="#00ffff"/><rect x="873.98" y="201.36" width="14.97" height="14.99" fill="#00ffff"/><rect x="888.95" y="201.36" width="14.97" height="14.99" fill="#96ffb4"/><rect x="903.91" y="201.36" width="14.97" height="14.99" fill="#96ffb4"/><rect x="918.88" y="201.36" width="14.97" height="14.99" fill="#96ffb4"/><rect x="933.86" y="201.36" width="14.97" height="14.99" fill="#96ffb4"/><rect x="948.83" y="201.36" width="14.97" height="14.99" fill="#96ffb4"/><rect x="963.79" y="201.36" width="14.97" height="14.99" fill="#96ffb4"/><rect x="978.76" y="201.36" width="14.97" height="14.99" fill="#96ffb4"/><rect x="110.50" y="186.37" width="14.97" height="14.99" fill="#38a8ff"/><rect x="125.47" y="186.37" width="14.97" height="14.99" fill="#38a8ff"/><rect x="140.44" y="186.37" width="14.97" height="14.99" fill="#38a8ff"/><rect x="155.41" y="186.37" width="14.97" height="14.99" fill="#38a8ff"/><rect x="170.39" y="186.37" width="14.97" height="14.99" fill="#38a8ff"/><rect x="185.36" y="186.37" width="14.97" height="14.99" fill="#38a8ff"/><rect x="200.33" y="186.37" width="14.97" height="14.99" fill="#38a8ff"/><rect x="215.30" y="186.37" width="14.97" height="14.99" fill="#00ffff"/><rect x="230.27" y="186.37" width="14.97" height="14.99" fill="#00ffff"/><rect x="245.24" y="186.37" width="14.97" height="14.99" fill="#00ffff"/><rect x="260.21" y="186.37" width="14.97" height="14.99" fill="#00ffff"/><rect x="275.18" y="186.37" width="14.97" height="14.99" fill="#00ffff"/><rect x="290.14" y="186.37" width="14.97" height="14.99" fill="url(#hatch)"/><rect x="305.12" y="186.37" width="14.97" height="14.99" fill="url(#hatch)"/><rect x="320.09" y="186.37" width="14.97" height="14.99" fill="#00ffff"/><rect x="335.06" y="186.37" width="14.97" height="14.99" fill="#00ffff"/><rect x="350.02" y="186.37" width="14.97" height="14.99" fill="url(#hatch)"/><rect x="365.00" y="186.37" width="14.97" height="14.99" fill="#38a8ff"/><rect x="379.97" y="186.37" width="14.97" height="14.99" fill="#00ffff"/><rect x="394.94" y="186.37" width="14.97" height="14.99" fill="#00ffff"/><rect x="409.91" y="186.37" width="14.97" height="14.99" fill="url(#hatch)"/><rect x="424.88" y="186.37" width="14.97" height="14.99" fill="#00ffff"/><rect x="439.85" y="186.37" width="14.97" height="14.99" fill="#00ffff"/><rect x="454.82" y="186.37" width="14.97" height="14.99" fill="#00ffff"/><rect x="469.78" y="186.37" width="14.97" height="14.99" fill="#00ffff"/><rect x="544.63" y="186.37" width="14.97" height="14.99" fill="#38a8ff"/><rect x="559.61" y="186.37" width="14.97" height="14.99" fill="#38a8ff"/><rect x="574.58" y="186.37" width="14.97" height="14.99" fill="url(#hatch)"/><rect x="589.55" y="186.37" width="14.97" height="14.99" fill="#38a8ff"/><rect x="604.51" y="186.37" width="14.97" height="14.99" fill="#335eff"/><rect x="619.49" y="186.37" width="14.97" height="14.99" fill="#335eff"/><rect x="634.46" y="186.37" width="14.97" height="14.99" fill="url(#hatch)"/><rect x="649.43" y="186.37" width="14.97" height="14.99" fill="#0000ff"/><rect x="664.39" y="186.37" width="14.97" height="14.99" fill="url(#hatch)"/><rect x="679.37" y="186.37" width="14.97" height="14.99" fill="#335eff"/><rect x="694.34" y="186.37" width="14.97" height="14.99" fill="#335eff"/><rect x="709.30" y="186.37" width="14.97" height="14.99" fill="#335eff"/><rect x="724.27" y="186.37" width="14.97" height="14.99" fill="#335eff"/><rect x="739.25" y="186.37" width="14.97" height="14.99" fill="#335eff"/><rect x="754.22" y="186.37" width="14.97" height="14.99" fill="#335eff"/><rect x="769.19" y="186.37" width="14.97" height="14.99" fill="#335eff"/><rect x="784.15" y="186.37" width="14.97" height="14.99" fill="#38a8ff"/><rect x="799.12" y="186.37" width="14.97" height="14.99" fill="#38a8ff"/><rect x="814.10" y="186.37" width="14.97" height="14.99" fill="#38a8ff"/><rect x="829.07" y="186.37" width="14.97" height="14.99" fill="#38a8ff"/><rect x="844.03" y="186.37" width="14.97" height="14.99" fill="#00ffff"/><rect x="859.00" y="186.37" width="14.97" height="14.99" fill="#00ffff"/><rect x="873.98" y="186.37" width="14.97" height="14.99" fill="#00ffff"/><rect x="888.95" y="186.37" width="14.97" height="14.99" fill="#00ffff"/><rect x="903.91" y="186.37" width="14.97" height="14.99" fill="#96ffb4"/><rect x="918.88" y="186.37" width="14.97" height="14.99" fill="#96ffb4"/><rect x="933.86" y="186.37" width="14.97" height="14.99" fill="#96ffb4"/><rect x="948.83" y="186.37" width="14.97" height="14.99" fill="#96ffb4"/><rect x="963.79" y="186.37" width="14.97" height="14.99" fill="#96ffb4"/><rect x="978.76" y="186.37" width="14.97" height="14.99" fill="#96ffb4"/><rect x="993.74" y="186.37" width="14.97" height="14.99" fill="#96ffb4"/><rect x="125.47" y="171.38" width="14.97" height="14.99" fill="#38a8ff"/><rect x="140.44" y="171.38" width="14.97" height="14.99" fill="#38a8ff"/><rect x="155.41" y="171.38" width="14.97" height="14.99" fill="#38a8ff"/><rect x="170.39" y="171.38" width="14.97" height="14.99" fill="#38a8ff"/><rect x="185.36" y="171.38" width="14.97" height="14.99" fill="#335eff"/><rect x="200.33" y="171.38" width="14.97" height="14.99" fill="#335eff"/><rect x="215.30" y="171.38" width="14.97" height="14.99" fill="#38a8ff"/><rect x="230.27" y="171.38" width="14.97" height="14.99" fill="#38a8ff"/><rect x="245.24" y="171.38" width="14.97" height="14.99" fill="#00ffff"/><rect x="260.21" y="171.38" width="14.97" height="14.99" fill="#38a8ff"/><rect x="275.18" y="171.38" width="14.97" height="14.99" fill="#38a8ff"/><rect x="290.14" y="171.38" width="14.97" height="14.99" fill="#38a8ff"/><rect x="305.12" y="171.38" width="14.97" height="14.99" fill="#38a8ff"/><rect x="320.09" y="171.38" width="14.97" height="14.99" fill="#38a8ff"/><rect x="335.06" y="171.38" width="14.97" height="14.99" fill="#00ffff"/><rect x="350.02" y="171.38" width="14.97" height="14.99" fill="url(#hatch)"/><rect x="365.00" y="171.38" width="14.97" height="14.99" fill="#38a8ff"/><rect x="379.97" y="171.38" width="14.97" height="14.99" fill="#00ffff"/><rect x="394.94" y="171.38" width="14.97" height="14.99" fill="#00ffff"/><rect x="604.51" y="171.38" width="14.97" height="14.99" fill="#335eff"/><rect x="619.49" y="171.38" width="14.97" height="14.99" fill="#335eff"/><rect x="634.46" y="171.38" width="14.97" height="14.99" fill="url(#hatch)"/><rect x="649.43" y="171.38" width="14.97" height="14.99" fill="#0000ff"/><rect x="664.39" y="171.38" width="14.97" height="14.99" fill="url(#hatch)"/><rect x="679.37" y="171.38" width="14.97" height="14.99" fill="#335eff"/><rect x="694.34" y="171.38" width="14.97" height="14.99" fill="#335eff"/><rect x="709.30" y="171.38" width="14.97" height="14.99" fill="#335eff"/><rect x="724.27" y="171.38" width="14.97" height="14.99" fill="#335eff"/><rect x="739.25" y="171.38" width="14.97" height="14.99" fill="#335eff"/><rect x="754.22" y="171.38" width="14.97" height="14.99" fill="#335eff"/><rect x="769.19" y="171.38" width="14.97" height="14.99" fill="#335eff"/><rect x="784.15" y="171.38" width="14.97" height="14.99" fill="#38a8ff"/><rect x="799.12" y="171.38" width="14.97" height="14.99" fill="#38a8ff"/><rect x="814.10" y="171.38" width="14.97" height="14.99" fill="#38a8ff"/><rect x="829.07" y="171.38" width="14.97" height="14.99" fill="#38a8ff"/><rect x="844.03" y="171.38" width="14.97" height="14.99" fill="#38a8ff"/><rect x="859.00" y="171.38" width="14.97" height="14.99" fill="#00ffff"/><rect x="873.98" y="171.38" width="14.97" height="14.99" fill="#00ffff"/><rect x="888.95" y="171.38" width="14.97" height="14.99" fill="#00ffff"/><rect x="903.91" y="171.38" width="14.97" height="14.99" fill="#00ffff"/><rect x="918.88" y="171.38" width="14.97" height="14.99" fill="#96ffb4"/><rect x="933.86" y="171.38" width="14.97" height="14.99" fill="#96ffb4"/><rect x="948.83" y="171.38" width="14.97" height="14.99" fill="#96ffb4"/><rect x="963.79" y="171.38" width="14.97" height="14.99" fill="#96ffb4"/><rect x="978.76" y="171.38" width="14.97" height="14.99" fill="#96ffb4"/><rect x="993.74" y="171.38" width="14.97" height="14.99" fill="#96ffb4"/><rect x="1008.71" y="171.38" width="14.97" height="14.99" fill="#96ffb4"/><rect x="140.44" y="156.39" width="14.97" height="14.99" fill="#38a8ff"/><rect x="155.41" y="156.39" width="14.97" height="14.99" fill="#38a8ff"/><rect x="170.39" y="156.39" width="14.97" height="14.99" fill="#38a8ff"/><rect x="185.36" y="156.39" width="14.97" height="14.99" fill="#335eff"/><rect x="200.33" y="156.39" width="14.97" height="14.99" fill="#335eff"/><rect x="215.30" y="156.39" width="14.97" height="14.99" fill="#38a8ff"/><rect x="230.27" y="156.39" width="14.97" height="14.99" fill="#335eff"/><rect x="245.24" y="156.39" width="14.97" height="14.99" fill="#335eff"/><rect x="260.21" y="156.39" width="14.97" height="14.99" fill="#38a8ff"/><rect x="275.18" y="156.39" width="14.97" height="14.99" fill="#38a8ff"/><rect x="290.14" y="156.39" width="14.97" height="14.99" fill="#335eff"/><rect x="305.12" y="156.39" width="14.97" height="14.99" fill="url(#hatch)"/><rect x="320.09" y="156.39" width="14.97" height="14.99" fill="url(#hatch)"/><rect x="335.06" y="156.39" width="14.97" height="14.99" fill="url(#hatch)"/><rect x="350.02" y="156.39" width="14.97" height="14.99" fill="url(#hatch)"/><rect x="365.00" y="156.39" width="14.97" height="14.99" fill="#38a8ff"/><rect x="379.97" y="156.39" width="14.97" height="14.99" fill="#00ffff"/><rect x="619.49" y="156.39" width="14.97" height="14.99" fill="#335eff"/><rect x="634.46" y="156.39" width="14.97" height="14.99" fill="url(#hatch)"/><rect x="649.43" y="156.39" width="14.97" height="14.99" fill="#0000ff"/><rect x="664.39" y="156.39" width="14.97" height="14.99" fill="#0000ff"/><rect x="679.37" y="156.39" width="14.97" height="14.99" fill="#0000ff"/><rect x="694.34" y="156.39" width="14.97" height="14.99" fill="#335eff"/><rect x="709.30" y="156.39" width="14.97" height="14.99" fill="#335eff"/><rect x="724.27" y="156.39" width="14.97" height="14.99" fill="#335eff"/><rect x="739.25" y="156.39" width="14.97" height="14.99" fill="#335eff"/><rect x="754.22" y="156.39" width="14.97" height="14.99" fill="#335eff"/><rect x="769.19" y="156.39" width="14.97" height="14.99" fill="#38a8ff"/><rect x="784.15" y="156.39" width="14.97" height="14.99" fill="#38a8ff"/><rect x="799.12" y="156.39" width="14.97" height="14.99" fill="#38a8ff"/><rect x="814.10" y="156.39" width="14.97" height="14.99" fill="#38a8ff"/><rect x="829.07" y="156.39" width="14.97" height="14.99" fill="#38a8ff"/><rect x="844.03" y="156.39" width="14.97" height="14.99" fill="#38a8ff"/><rect x="859.00" y="156.39" width="14.97" height="14.99" fill="#38a8ff"/><rect x="873.98" y="156.39" width="14.97" height="14.99" fill="#00ffff"/><rect x="888.95" y="156.39" width="14.97" height="14.99" fill="#00ffff"/><rect x="903.91" y="156.39" width="14.97" height="14.99" fill="#00ffff"/><rect x="918.88" y="156.39" width="14.97" height="14.99" fill="#00ffff"/><rect x="933.86" y="156.39" width="14.97" height="14.99" fill="#00ffff"/><rect x="948.83" y="156.39" width="14.97" height="14.99" fill="#00ffff"/><rect x="963.79" y="156.39" width="14.97" height="14.99" fill="#00ffff"/><rect x="978.76" y="156.39" width="14.97" height="14.99" fill="#00ffff"/><rect x="993.74" y="156.39" width="14.97" height="14.99" fill="#00ffff"/><rect x="1008.71" y="156.39" width="14.97" height="14.99" fill="#00ffff"/><rect x="155.41" y="141.40" width="14.97" height="14.99" fill="#38a8ff"/><rect x="170.39" y="141.40" width="14.97" height="14.99" fill="#38a8ff"/><rect x="185.36" y="141.40" width="14.97" height="14.99" fill="#335eff"/><rect x="200.33" y="141.40" width="14.97" height="14.99" fill="#335eff"/><rect x="215.30" y="141.40" width="14.97" height="14.99" fill="#335eff"/><rect x="230.27" y="141.40" width="14.97" height="14.99" fill="#335eff"/><rect x="245.24" y="141.40" width="14.97" height="14.99" fill="#335eff"/><rect x="260.21" y="141.40" width="14.97" height="14.99" fill="#38a8ff"/><rect x="275.18" y="141.40" width="14.97" height="14.99" fill="url(#hatch)"/><rect x="290.14" y="141.40" width="14.97" height="14.99" fill="#335eff"/><rect x="305.12" y="141.40" width="14.97" height="14.99" fill="url(#hatch)"/><rect x="320.09" y="141.40" width="14.97" height="14.99" fill="url(#hatch)"/><rect x="335.06" y="141.40" width="14.97" height="14.99" fill="url(#hatch)"/><rect x="634.46" y="141.40" width="14.97" height="14.99" fill="#0000ff"/><rect x="649.43" y="141.40" width="14.97" height="14.99" fill="#0000ff"/><rect x="664.39" y="141.40" width="14.97" height="14.99" fill="#0000ff"/><rect x="679.37" y="141.40" width="14.97" height="14.99" fill="#0000ff"/><rect x="694.34" y="141.40" width="14.97" height="14.99" fill="#0000ff"/><rect x="709.30" y="141.40" width="14.97" height="14.99" fill="#335eff"/><rect x="724.27" y="141.40" width="14.97" height="14.99" fill="#335eff"/><rect x="739.25" y="141.40" width="14.97" height="14.99" fill="#335eff"/><rect x="754.22" y="141.40" width="14.97" height="14.99" fill="#335eff"/><rect x="769.19" y="141.40" width="14.97" height="14.99" fill="#38a8ff"/><rect x="784.15" y="141.40" width="14.97" height="14.99" fill="#38a8ff"/><rect x="799.12" y="141.40" width="14.97" height="14.99" fill="#38a8ff"/><rect x="814.10" y="141.40" width="14.97" height="14.99" fill="#38a8ff"/><rect x="829.07" y="141.40" width="14.97" height="14.99" fill="#38a8ff"/><rect x="844.03" y="141.40" width="14.97" height="14.99" fill="#38a8ff"/><rect x="859.00" y="141.40" width="14.97" height="14.99" fill="#38a8ff"/><rect x="873.98" y="141.40" width="14.97" height="14.99" fill="#38a8ff"/><rect x="888.95" y="141.40" width="14.97" height="14.99" fill="#00ffff"/><rect x="903.91" y="141.40" width="14.97" height="14.99" fill="#00ffff"/><rect x="918.88" y="141.40" width="14.97" height="14.99" fill="#00ffff"/><rect x="933.86" y="141.40" width="14.97" height="14.99" fill="#00ffff"/><rect x="948.83" y="141.40" width="14.97" height="14.99" fill="#00ffff"/><rect x="963.79" y="141.40" width="14.97" height="14.99" fill="#00ffff"/><rect x="978.76" y="141.40" width="14.97" height="14.99" fill="#00ffff"/><rect x="993.74" y="141.40" width="14.97" height="14.99" fill="#00ffff"/><rect x="185.36" y="126.41" width="14.97" height="14.99" fill="#335eff"/><rect x="200.33" y="126.41" width="14.97" height="14.99" fill="#335eff"/><rect x="215.30" y="126.41" width="14.97" height="14.99" fill="#335eff"/><rect x="230.27" y="126.41" width="14.97" height="14.99" fill="#335eff"/><rect x="245.24" y="126.41" width="14.97" height="14.99" fill="#335eff"/><rect x="260.21" y="126.41" width="14.97" height="14.99" fill="#38a8ff"/><rect x="275.18" y="126.41" width="14.97" height="14.99" fill="url(#hatch)"/><rect x="290.14" y="126.41" width="14.97" height="14.99" fill="#335eff"/><rect x="305.12" y="126.41" width="14.97" height="14.99" fill="url(#hatch)"/><rect x="320.09" y="126.41" width="14.97" height="14.99" fill="url(#hatch)"/><rect x="649.43" y="126.41" width="14.97" height="14.99" fill="#0000ff"/><rect x="664.39" y="126.41" width="14.97" height="14.99" fill="#0000ff"/><rect x="679.37" y="126.41" width="14.97" height="14.99" fill="#0000ff"/><rect x="694.34" y="126.41" width="14.97" height="14.99" fill="#335eff"/><rect x="709.30" y="126.41" width="14.97" height="14.99" fill="#335eff"/><rect x="724.27" y="126.41" width="14.97" height="14.99" fill="#335eff"/><rect x="739.25" y="126.41" width="14.97" height="14.99" fill="#335eff"/><rect x="754.22" y="126.41" width="14.97" height="14.99" fill="#38a8ff"/><rect x="769.19" y="126.41" width="14.97" height="14.99" fill="#38a8ff"/><rect x="784.15" y="126.41" width="14.97" height="14.99" fill="url(#hatch)"/><rect x="799.12" y="126.41" width="14.97" height="14.99" fill="#38a8ff"/><rect x="814.10" y="126.41" width="14.97" height="14.99" fill="#38a8ff"/><rect x="829.07" y="126.41" width="14.97" height="14.99" fill="#38a8ff"/><rect x="844.03" y="126.41" width="14.97" height="14.99" fill="#38a8ff"/><rect x="859.00" y="126.41" width="14.97" height="14.99" fill="#38a8ff"/><rect x="873.98" y="126.41" width="14.97" height="14.99" fill="#38a8ff"/><rect x="888.95" y="126.41" width="14.97" height="14.99" fill="#00ffff"/><rect x="903.91" y="126.41" width="14.97" height="14.99" fill="#00ffff"/><rect x="918.88" y="126.41" width="14.97" height="14.99" fill="#00ffff"/><rect x="933.86" y="126.41" width="14.97" height="14.99" fill="#00ffff"/><rect x="948.83" y="126.41" width="14.97" height="14.99" fill="#00ffff"/><rect x="963.79" y="126.41" width="14.97" height="14.99" fill="#00ffff"/><rect x="978.76" y="126.41" width="14.97" height="14.99" fill="#00ffff"/><rect x="215.30" y="111.42" width="14.97" height="14.99" fill="#335eff"/><rect x="230.27" y="111.42" width="14.97" height="14.99" fill="#335eff"/><rect x="245.24" y="111.42" width="14.97" height="14.99" fill="#335eff"/><rect x="260.21" y="111.42" width="14.97" height="14.99" fill="#38a8ff"/><rect x="275.18" y="111.42" width="14.97" height="14.99" fill="url(#hatch)"/><rect x="290.14" y="111.42" width="14.97" height="14.99" fill="#335eff"/><rect x="305.12" y="111.42" width="14.97" height="14.99" fill="url(#hatch)"/><rect x="664.39" y="111.42" width="14.97" height="14.99" fill="#0000ff"/><rect x="679.37" y="111.42" width="14.97" height="14.99" fill="#0000ff"/><rect x="694.34" y="111.42" width="14.97" height="14.99" fill="#335eff"/><rect x="709.30" y="111.42" width="14.97" height="14.99" fill="#335eff"/><rect x="724.27" y="111.42" width="14.97" height="14.99" fill="#335eff"/><rect x="739.25" y="111.42" width="14.97" height="14.99" fill="#38a8ff"/><rect x="754.22" y="111.42" width="14.97" height="14.99" fill="#38a8ff"/><rect x="769.19" y="111.42" width="14.97" height="14.99" fill="#38a8ff"/><rect x="784.15" y="111.42" width="14.97" height="14.99" fill="#38a8ff"/><rect x="799.12" y="111.42" width="14.97" height="14.99" fill="#38a8ff"/><rect x="814.10" y="111.42" width="14.97" height="14.99" fill="#38a8ff"/><rect x="829.07" y="111.42" width="14.97" height="14.99" fill="#00ffff"/><rect x="844.03" y="111.42" width="14.97" height="14.99" fill="#00ffff"/><rect x="859.00" y="111.42" width="14.97" height="14.99" fill="#38a8ff"/><rect x="873.98" y="111.42" width="14.97" height="14.99" fill="#38a8ff"/><rect x="888.95" y="111.42" width="14.97" height="14.99" fill="#00ffff"/><rect x="903.91" y="111.42" width="14.97" height="14.99" fill="#00ffff"/><rect x="918.88" y="111.42" width="14.97" height="14.99" fill="#00ffff"/><rect x="933.86" y="111.42" width="14.97" height="14.99" fill="#00ffff"/><rect x="948.83" y="111.42" width="14.97" height="14.99" fill="#00ffff"/><rect x="963.79" y="111.42" width="14.97" height="14.99" fill="#00ffff"/><rect x="230.27" y="96.43" width="14.97" height="14.99" fill="#335eff"/><rect x="245.24" y="96.43" width="14.97" height="14.99" fill="#335eff"/><rect x="260.21" y="96.43" width="14.97" height="14.99" fill="#38a8ff"/><rect x="275.18" y="96.43" width="14.97" height="14.99" fill="url(#hatch)"/><rect x="679.37" y="96.43" width="14.97" height="14.99" fill="#0000ff"/><rect x="694.34" y="96.43" width="14.97" height="14.99" fill="#335eff"/><rect x="709.30" y="96.43" width="14.97" height="14.99" fill="#335eff"/><rect x="724.27" y="96.43" width="14.97" height="14.99" fill="#00ffff"/><rect x="739.25" y="96.43" width="14.97" height="14.99" fill="#00ffff"/><rect x="754.22" y="96.43" width="14.97" height="14.99" fill="#00ffff"/><rect x="769.19" y="96.43" width="14.97" height="14.99" fill="#00ffff"/><rect x="784.15" y="96.43" width="14.97" height="14.99" fill="url(#hatch)"/><rect x="799.12" y="96.43" width="14.97" height="14.99" fill="#00ffff"/><rect x="814.10" y="96.43" width="14.97" height="14.99" fill="#00ffff"/><rect x="829.07" y="96.43" width="14.97" height="14.99" fill="url(#hatch)"/><rect x="844.03" y="96.43" width="14.97" height="14.99" fill="#38a8ff"/><rect x="859.00" y="96.43" width="14.97" height="14.99" fill="#38a8ff"/><rect x="873.98" y="96.43" width="14.97" height="14.99" fill="#38a8ff"/><rect x="888.95" y="96.43" width="14.97" height="14.99" fill="#00ffff"/><rect x="903.91" y="96.43" width="14.97" height="14.99" fill="#00ffff"/><rect x="694.34" y="81.44" width="14.97" height="14.99" fill="#335eff"/><rect x="709.30" y="81.44" width="14.97" height="14.99" fill="#335eff"/><rect x="724.27" y="81.44" width="14.97" height="14.99" fill="#00ffff"/><rect x="739.25" y="81.44" width="14.97" height="14.99" fill="#00ffff"/><rect x="754.22" y="81.44" width="14.97" height="14.99" fill="url(#hatch)"/><rect x="769.19" y="81.44" width="14.97" height="14.99" fill="#00ffff"/><rect x="784.15" y="81.44" width="14.97" height="14.99" fill="#00ffff"/><rect x="799.12" y="81.44" width="14.97" height="14.99" fill="#00ffff"/><rect x="814.10" y="81.44" width="14.97" height="14.99" fill="#38a8ff"/><rect x="829.07" y="81.44" width="14.97" height="14.99" fill="#38a8ff"/><rect x="844.03" y="81.44" width="14.97" height="14.99" fill="#38a8ff"/><rect x="859.00" y="81.44" width="14.97" height="14.99" fill="#38a8ff"/><rect x="873.98" y="81.44" width="14.97" height="14.99" fill="#38a8ff"/><rect x="888.95" y="81.44" width="14.97" height="14.99" fill="#00ffff"/><rect x="709.30" y="66.45" width="14.97" height="14.99" fill="#00ffff"/><rect x="724.27" y="66.45" width="14.97" height="14.99" fill="#00ffff"/><rect x="739.25" y="66.45" width="14.97" height="14.99" fill="#00ffff"/><rect x="754.22" y="66.45" width="14.97" height="14.99" fill="#00ffff"/><rect x="769.19" y="66.45" width="14.97" height="14.99" fill="#00ffff"/><rect x="784.15" y="66.45" width="14.97" height="14.99" fill="#38a8ff"/><rect x="799.12" y="66.45" width="14.97" height="14.99" fill="#38a8ff"/><rect x="814.10" y="66.45" width="14.97" height="14.99" fill="#38a8ff"/><rect x="829.07" y="66.45" width="14.97" height="14.99" fill="#38a8ff"/><rect x="844.03" y="66.45" width="14.97" height="14.99" fill="#38a8ff"/><rect x="859.00" y="66.45" width="14.97" height="14.99" fill="#38a8ff"/><rect x="873.98" y="66.45" width="14.97" height="14.99" fill="#38a8ff"/><rect x="888.95" y="66.45" width="14.97" height="14.99" fill="#38a8ff"/><rect x="724.27" y="51.46" width="14.97" height="14.99" fill="#00ffff"/><rect x="739.25" y="51.46" width="14.97" height="14.99" fill="#00ffff"/><rect x="754.22" y="51.46" width="14.97" height="14.99" fill="#00ffff"/><rect x="769.19" y="51.46" width="14.97" height="14.99" fill="#00ffff"/><rect x="784.15" y="51.46" width="14.97" height="14.99" fill="#38a8ff"/><rect x="799.12" y="51.46" width="14.97" height="14.99" fill="#38a8ff"/><rect x="814.10" y="51.46" width="14.97" height="14.99" fill="#38a8ff"/><rect x="829.07" y="51.46" width="14.97" height="14.99" fill="#38a8ff"/><rect x="844.03" y="51.46" width="14.97" height="14.99" fill="#38a8ff"/><rect x="859.00" y="51.46" width="14.97" height="14.99" fill="#38a8ff"/><rect x="873.98" y="51.46" width="14.97" height="14.99" fill="#38a8ff"/><rect x="739.25" y="36.47" width="14.97" height="14.99" fill="#00ffff"/><rect x="754.22" y="36.47" width="14.97" height="14.99" fill="#00ffff"/><rect x="769.19" y="36.47" width="14.97" height="14.99" fill="#00ffff"/><rect x="784.15" y="36.47" width="14.97" height="14.99" fill="#38a8ff"/><rect x="799.12" y="36.47" width="14.97" height="14.99" fill="#38a8ff"/><rect x="814.10" y="36.47" width="14.97" height="14.99" fill="#38a8ff"/><rect x="829.07" y="36.47" width="14.97" height="14.99" fill="#38a8ff"/><rect x="844.03" y="36.47" width="14.97" height="14.99" fill="#38a8ff"/><rect x="859.00" y="36.47" width="14.97" height="14.99" fill="#38a8ff"/><rect x="754.22" y="21.48" width="14.97" height="14.99" fill="#00ffff"/><rect x="769.19" y="21.48" width="14.97" height="14.99" fill="#00ffff"/><rect x="784.15" y="21.48" width="14.97" height="14.99" fill="#38a8ff"/><rect x="799.12" y="21.48" width="14.97" height="14.99" fill="#38a8ff"/><rect x="814.10" y="21.48" width="14.97" height="14.99" fill="#38a8ff"/><rect x="829.07" y="21.48" width="14.97" height="14.99" fill="#38a8ff"/><rect x="844.03" y="21.48" width="14.97" height="14.99" fill="#38a8ff"/><path d="M574.58 636.07h14.97v14.99h-14.97zM589.55 636.07h14.97v14.99h-14.97zM604.51 636.07h14.97v14.99h-14.97zM559.61 621.08h14.97v14.99h-14.97zM574.58 621.08h14.97v14.99h-14.97zM589.55 621.08h14.97v14.99h-14.97zM604.51 621.08h14.97v14.99h-14.97zM619.49 621.08h14.97v14.99h-14.97zM544.63 606.09h14.97v14.99h-14.97zM559.61 606.09h14.97v14.99h-14.97zM574.58 606.09h14.97v14.99h-14.97zM589.55 606.09h14.97v14.99h-14.97zM604.51 606.09h14.97v14.99h-14.97zM619.49 606.09h14.97v14.99h-14.97zM634.46 606.09h14.97v14.99h-14.97zM454.82 591.10h14.97v14.99h-14.97zM469.78 591.10h14.97v14.99h-14.97zM529.67 591.10h14.97v14.99h-14.97zM544.63 591.10h14.97v14.99h-14.97zM559.61 591.10h14.97v14.99h-14.97zM574.58 591.10h14.97v14.99h-14.97zM589.55 591.10h14.97v14.99h-14.97zM604.51 591.10h14.97v14.99h-14.97zM619.49 591.10h14.97v14.99h-14.97zM634.46 591.10h14.97v14.99h-14.97zM649.43 591.10h14.97v14.99h-14.97zM439.85 576.11h14.97v14.99h-14.97zM454.82 576.11h14.97v14.99h-14.97zM469.78 576.11h14.97v14.99h-14.97zM484.75 576.11h14.97v14.99h-14.97zM499.73 576.11h14.97v14.99h-14.97zM514.70 576.11h14.97v14.99h-14.97zM529.67 576.11h14.97v14.99h-14.97zM544.63 576.11h14.97v14.99h-14.97zM559.61 576.11h14.97v14.99h-14.97zM574.58 576.11h14.97v14.99h-14.97zM589.55 576.11h14.97v14.99h-14.97zM604.51 576.11h14.97v14.99h-14.97zM619.49 576.11h14.97v14.99h-14.97zM634.46 576.11h14.97v14.99h-14.97zM649.43 576.11h14.97v14.99h-14.97zM664.39 576.11h14.97v14.99h-14.97zM679.37 576.11h14.97v14.99h-14.97zM754.22 576.11h14.97v14.99h-14.97zM769.19 576.11h14.97v14.99h-14.97zM424.88 561.12h14.97v14.99h-14.97zM439.85 561.12h14.97v14.99h-14.97zM454.82 561.12h14.97v14.99h-14.97zM469.78 561.12h14.97v14.99h-14.97zM484.75 561.12h14.97v14.99h-14.97zM499.73 561.12h14.97v14.99h-14.97zM514.70 561.12h14.97v14.99h-14.97zM529.67 561.12h14.97v14.99h-14.97zM544.63 561.12h14.97v14.99h-14.97zM559.61 561.12h14.97v14.99h-14.97zM574.58 561.12h14.97v14.99h-14.97zM589.55 561.12h14.97v14.99h-14.97zM604.51 561.12h14.97v14.99h-14.97zM619.49 561.12h14.97v14.99h-14.97zM634.46 561.12h14.97v14.99h-14.97zM649.43 561.12h14.97v14.99h-14.97zM664.39 561.12h14.97v14.99h-14.97zM679.37 561.12h14.97v14.99h-14.97zM694.34 561.12h14.97v14.99h-14.97zM709.30 561.12h14.97v14.99h-14.97zM739.25 561.12h14.97v14.99h-14.97zM754.22 561.12h14.97v14.99h-14.97zM769.19 561.12h14.97v14.99h-14.97zM784.15 561.12h14.97v14.99h-14.97zM409.91 546.13h14.97v14.99h-14.97zM424.88 546.13h14.97v14.99h-14.97zM439.85 546.13h14.97v14.99h-14.97zM454.82 546.13h14.97v14.99h-14.97zM469.78 546.13h14.97v14.99h-14.97zM484.75 546.13h14.97v14.99h-14.97zM499.73 546.13h14.97v14.99h-14.97zM514.70 546.13h14.97v14.99h-14.97zM529.67 546.13h14.97v14.99h-14.97zM544.63 546.13h14.97v14.99h-14.97zM559.61 546.13h14.97v14.99h-14.97zM574.58 546.13h14.97v14.99h-14.97zM589.55 546.13h14.97v14.99h-14.97zM604.51 546.13h14.97v14.99h-14.97zM619.49 546.13h14.97v14.99h-14.97zM634.46 546.13h14.97v14.99h-14.97zM649.43 546.13h14.97v14.99h-14.97zM664.39 546.13h14.97v14.99h-14.97zM679.37 546.13h14.97v14.99h-14.97zM694.34 546.13h14.97v14.99h-14.97zM709.30 546.13h14.97v14.99h-14.97zM724.27 546.13h14.97v14.99h-14.97zM739.25 546.13h14.97v14.99h-14.97zM754.22 546.13h14.97v14.99h-14.97zM769.19 546.13h14.97v14.99h-14.97zM784.15 546.13h14.97v14.99h-14.97zM799.12 546.13h14.97v14.99h-14.97zM394.94 531.14h14.97v14.99h-14.97zM409.91 531.14h14.97v14.99h-14.97zM424.88 531.14h14.97v14.99h-14.97zM439.85 531.14h14.97v14.99h-14.97zM454.82 531.14h14.97v14.99h-14.97zM469.78 531.14h14.97v14.99h-14.97zM484.75 531.14h14.97v14.99h-14.97zM499.73 531.14h14.97v14.99h-14.97zM514.70 531.14h14.97v14.99h-14.97zM529.67 531.14h14.97v14.99h-14.97zM544.63 531.14h14.97v14.99h-14.97zM559.61 531.14h14.97v14.99h-14.97zM574.58 531.14h14.97v14.99h-14.97zM589.55 531.14h14.97v14.99h-14.97zM604.51 531.14h14.97v14.99h-14.97zM619.49 531.14h14.97v14.99h-14.97zM634.46 531.14h14.97v14.99h-14.97zM649.43 531.14h14.97v14.99h-14.97zM664.39 531.14h14.97v14.99h-14.97zM679.37 531.14h14.97v14.99h-14.97zM694.34 531.14h14.97v14.99h-14.97zM709.30 531.14h14.97v14.99h-14.97zM724.27 531.14h14.97v14.99h-14.97zM739.25 531.14h14.97v14.99h-14.97zM754.22 531.14h14.97v14.99h-14.97zM769.19 531.14h14.97v14.99h-14.97zM784.15 531.14h14.97v14.99h-14.97zM799.12 531.14h14.97v14.99h-14.97zM814.10 531.14h14.97v14.99h-14.97zM379.97 516.15h14.97v14.99h-14.97zM394.94 516.15h14.97v14.99h-14.97zM409.91 516.15h14.97v14.99h-14.97zM424.88 516.15h14.97v14.99h-14.97zM439.85 516.15h14.97v14.99h-14.97zM454.82 516.15h14.97v14.99h-14.97zM469.78 516.15h14.97v14.99h-14.97zM484.75 516.15h14.97v14.99h-14.97zM499.73 516.15h14.97v14.99h-14.97zM514.70 516.15h14.97v14.99h-14.97zM529.67 516.15h14.97v14.99h-14.97zM544.63 516.15h14.97v14.99h-14.97zM559.61 516.15h14.97v14.99h-14.97zM574.58 516.15h14.97v14.99h-14.97zM589.55 516.15h14.97v14.99h-14.97zM604.51 516.15h14.97v14.99h-14.97zM619.49 516.15h14.97v14.99h-14.97zM634.46 516.15h14.97v14.99h-14.97zM649.43 516.15h14.97v14.99h-14.97zM664.39 516.15h14.97v14.99h-14.97zM679.37 516.15h14.97v14.99h-14.97zM694.34 516.15h14.97v14.99h-14.97zM709.30 516.15h14.97v14.99h-14.97zM724.27 516.15h14.97v14.99h-14.97zM739.25 516.15h14.97v14.99h-14.97zM754.22 516.15h14.97v14.99h-14.97zM769.19 516.15h14.97v14.99h-14.97zM784.15 516.15h14.97v14.99h-14.97zM799.12 516.15h14.97v14.99h-14.97zM814.10 516.15h14.97v14.99h-14.97zM275.18 501.16h14.97v14.99h-14.97zM320.09 501.16h14.97v14.99h-14.97zM335.06 501.16h14.97v14.99h-14.97zM350.02 501.16h14.97v14.99h-14.97zM365.00 501.16h14.97v14.99h-14.97zM379.97 501.16h14.97v14.99h-14.97zM394.94 501.16h14.97v14.99h-14.97zM409.91 501.16h14.97v14.99h-14.97zM424.88 501.16h14.97v14.99h-14.97zM439.85 501.16h14.97v14.99h-14.97zM454.82 501.16h14.97v14.99h-14.97zM469.78 501.16h14.97v14.99h-14.97zM484.75 501.16h14.97v14.99h-14.97zM499.73 501.16h14.97v14.99h-14.97zM514.70 501.16h14.97v14.99h-14.97zM529.67 501.16h14.97v14.99h-14.97zM544.63 501.16h14.97v14.99h-14.97zM559.61 501.16h14.97v14.99h-14.97zM574.58 501.16h14.97v14.99h-14.97zM589.55 501.16h14.97v14.99h-14.97zM604.51 501.16h14.97v14.99h-14.97zM619.49 501.16h14.97v14.99h-14.97zM634.46 501.16h14.97v14.99h-14.97zM649.43 501.16h14.97v14.99h-14.97zM664.39 501.16h14.97v14.99h-14.97zM679.37 501.16h14.97v14.99h-14.97zM694.34 501.16h14.97v14.99h-14.97zM709.30 501.16h14.97v14.99h-14.97zM724.27 501.16h14.97v14.99h-14.97zM739.25 501.16h14.97v14.99h-14.97zM754.22 501.16h14.97v14.99h-14.97zM769.19 501.16h14.97v14.99h-14.97zM784.15 501.16h14.97v14.99h-14.97zM799.12 501.16h14.97v14.99h-14.97zM814.10 501.16h14.97v14.99h-14.97zM215.30 486.17h14.97v14.99h-14.97zM230.27 486.17h14.97v14.99h-14.97zM245.24 486.17h14.97v14.99h-14.97zM260.21 486.17h14.97v14.99h-14.97zM275.18 486.17h14.97v14.99h-14.97zM290.14 486.17h14.97v14.99h-14.97zM305.12 486.17h14.97v14.99h-14.97zM320.09 486.17h14.97v14.99h-14.97zM335.06 486.17h14.97v14.99h-14.97zM350.02 486.17h14.97v14.99h-14.97zM365.00 486.17h14.97v14.99h-14.97zM379.97 486.17h14.97v14.99h-14.97zM394.94 486.17h14.97v14.99h-14.97zM409.91 486.17h14.97v14.99h-14.97zM424.88 486.17h14.97v14.99h-14.97zM439.85 486.17h14.97v14.99h-14.97zM454.82 486.17h14.97v14.99h-14.97zM469.78 486.17h14.97v14.99h-14.97zM484.75 486.17h14.97v14.99h-14.97zM499.73 486.17h14.97v14.99h-14.97zM514.70 486.17h14.97v14.99h-14.97zM529.67 486.17h14.97v14.99h-14.97zM544.63 486.17h14.97v14.99h-14.97zM559.61 486.17h14.97v14.99h-14.97zM574.58 486.17h14.97v14.99h-14.97zM589.55 486.17h14.97v14.99h-14.97zM604.51 486.17h14.97v14.99h-14.97zM619.49 486.17h14.97v14.99h-14.97zM634.46 486.17h14.97v14.99h-14.97zM649.43 486.17h14.97v14.99h-14.97zM664.39 486.17h14.97v14.99h-14.97zM679.37 486.17h14.97v14.99h-14.97zM694.34 486.17h14.97v14.99h-14.97zM709.30 486.17h14.97v14.99h-14.97zM724.27 486.17h14.97v14.99h-14.97zM739.25 486.17h14.97v14.99h-14.97zM754.22 486.17h14.97v14.99h-14.97zM769.19 486.17h14.97v14.99h-14.97zM784.15 486.17h14.97v14.99h-14.97zM799.12 486.17h14.97v14.99h-14.97zM814.10 486.17h14.97v14.99h-14.97zM185.36 471.18h14.97v14.99h-14.97zM200.33 471.18h14.97v14.99h-14.97zM215.30 471.18h14.97v14.99h-14.97zM230.27 471.18h14.97v14.99h-14.97zM245.24 471.18h14.97v14.99h-14.97zM260.21 471.18h14.97v14.99h-14.97zM275.18 471.18h14.97v14.99h-14.97zM290.14 471.18h14.97v14.99h-14.97zM305.12 471.18h14.97v14.99h-14.97zM320.09 471.18h14.97v14.99h-14.97zM335.06 471.18h14.97v14.99h-14.97zM350.02 471.18h14.97v14.99h-14.97zM365.00 471.18h14.97v14.99h-14.97zM379.97 471.18h14.97v14.99h-14.97zM394.94 471.18h14.97v14.99h-14.97zM409.91 471.18h14.97v14.99h-14.97zM424.88 471.18h14.97v14.99h-14.97zM439.85 471.18h14.97v14.99h-14.97zM454.82 471.18h14.97v14.99h-14.97zM469.78 471.18h14.97v14.99h-14.97zM484.75 471.18h14.97v14.99h-14.97zM499.73 471.18h14.97v14.99h-14.97zM514.70 471.18h14.97v14.99h-14.97zM529.67 471.18h14.97v14.99h-14.97zM544.63 471.18h14.97v14.99h-14.97zM559.61 471.18h14.97v14.99h-14.97zM574.58 471.18h14.97v14.99h-14.97zM589.55 471.18h14.97v14.99h-14.97zM604.51 471.18h14.97v14.99h-14.97zM619.49 471.18h14.97v14.99h-14.97zM634.46 471.18h14.97v14.99h-14.97zM649.43 471.18h14.97v14.99h-14.97zM664.39 471.18h14.97v14.99h-14.97zM679.37 471.18h14.97v14.99h-14.97zM694.34 471.18h14.97v14.99h-14.97zM709.30 471.18h14.97v14.99h-14.97zM724.27 471.18h14.97v14.99h-14.97zM739.25 471.18h14.97v14.99h-14.97zM754.22 471.18h14.97v14.99h-14.97zM769.19 471.18h14.97v14.99h-14.97zM784.15 471.18h14.97v14.99h-14.97zM799.12 471.18h14.97v14.99h-14.97zM140.44 456.19h14.97v14.99h-14.97zM155.41 456.19h14.97v14.99h-14.97zM170.39 456.19h14.97v14.99h-14.97zM185.36 456.19h14.97v14.99h-14.97zM200.33 456.19h14.97v14.99h-14.97zM215.30 456.19h14.97v14.99h-14.97zM230.27 456.19h14.97v14.99h-14.97zM245.24 456.19h14.97v14.99h-14.97zM260.21 456.19h14.97v14.99h-14.97zM275.18 456.19h14.97v14.99h-14.97zM290.14 456.19h14.97v14.99h-14.97zM305.12 456.19h14.97v14.99h-14.97zM320.09 456.19h14.97v14.99h-14.97zM335.06 456.19h14.97v14.99h-14.97zM350.02 456.19h14.97v14.99h-14.97zM365.00 456.19h14.97v14.99h-14.97zM379.97 456.19h14.97v14.99h-14.97zM394.94 456.19h14.97v14.99h-14.97zM409.91 456.19h14.97v14.99h-14.97zM424.88 456.19h14.97v14.99h-14.97zM439.85 456.19h14.97v14.99h-14.97zM454.82 456.19h14.97v14.99h-14.97zM469.78 456.19h14.97v14.99h-14.97zM484.75 456.19h14.97v14.99h-14.97zM499.73 456.19h14.97v14.99h-14.97zM514.70 456.19h14.97v14.99h-14.97zM529.67 456.19h14.97v14.99h-14.97zM544.63 456.19h14.97v14.99h-14.97zM559.61 456.19h14.97v14.99h-14.97zM574.58 456.19h14.97v14.99h-14.97zM589.55 456.19h14.97v14.99h-14.97zM604.51 456.19h14.97v14.99h-14.97zM619.49 456.19h14.97v14.99h-14.97zM634.46 456.19h14.97v14.99h-14.97zM649.43 456.19h14.97v14.99h-14.97zM664.39 456.19h14.97v14.99h-14.97zM679.37 456.19h14.97v14.99h-14.97zM694.34 456.19h14.97v14.99h-14.97zM709.30 456.19h14.97v14.99h-14.97zM724.27 456.19h14.97v14.99h-14.97zM739.25 456.19h14.97v14.99h-14.97zM754.22 456.19h14.97v14.99h-14.97zM769.19 456.19h14.97v14.99h-14.97zM784.15 456.19h14.97v14.99h-14.97zM799.12 456.19h14.97v14.99h-14.97zM125.47 441.20h14.97v14.99h-14.97zM140.44 441.20h14.97v14.99h-14.97zM155.41 441.20h14.97v14.99h-14.97zM170.39 441.20h14.97v14.99h-14.97zM185.36 441.20h14.97v14.99h-14.97zM200.33 441.20h14.97v14.99h-14.97zM215.30 441.20h14.97v14.99h-14.97zM230.27 441.20h14.97v14.99h-14.97zM245.24 441.20h14.97v14.99h-14.97zM260.21 441.20h14.97v14.99h-14.97zM275.18 441.20h14.97v14.99h-14.97zM290.14 441.20h14.97v14.99h-14.97zM305.12 441.20h14.97v14.99h-14.97zM320.09 441.20h14.97v14.99h-14.97zM335.06 441.20h14.97v14.99h-14.97zM350.02 441.20h14.97v14.99h-14.97zM365.00 441.20h14.97v14.99h-14.97zM379.97 441.20h14.97v14.99h-14.97zM394.94 441.20h14.97v14.99h-14.97zM409.91 441.20h14.97v14.99h-14.97zM424.88 441.20h14.97v14.99h-14.97zM439.85 441.20h14.97v14.99h-14.97zM454.82 441.20h14.97v14.99h-14.97zM469.78 441.20h14.97v14.99h-14.97zM484.75 441.20h14.97v14.99h-14.97zM499.73 441.20h14.97v14.99h-14.97zM514.70 441.20h14.97v14.99h-14.97zM529.67 441.20h14.97v14.99h-14.97zM544.63 441.20h14.97v14.99h-14.97zM559.61 441.20h14.97v14.99h-14.97zM574.58 441.20h14.97v14.99h-14.97zM589.55 441.20h14.97v14.99h-14.97zM604.51 441.20h14.97v14.99h-14.97zM619.49 441.20h14.97v14.99h-14.97zM634.46 441.20h14.97v14.99h-14.97zM649.43 441.20h14.97v14.99h-14.97zM664.39 441.20h14.97v14.99h-14.97zM679.37 441.20h14.97v14.99h-14.97zM694.34 441.20h14.97v14.99h-14.97zM709.30 441.20h14.97v14.99h-14.97zM724.27 441.20h14.97v14.99h-14.97zM739.25 441.20h14.97v14.99h-14.97zM754.22 441.20h14.97v14.99h-14.97zM769.19 441.20h14.97v14.99h-14.97zM784.15 441.20h14.97v14.99h-14.97zM799.12 441.20h14.97v14.99h-14.97zM814.10 441.20h14.97v14.99h-14.97zM110.50 426.21h14.97v14.99h-14.97zM125.47 426.21h14.97v14.99h-14.97zM140.44 426.21h14.97v14.99h-14.97zM155.41 426.21h14.97v14.99h-14.97zM170.39 426.21h14.97v14.99h-14.97zM185.36 426.21h14.97v14.99h-14.97zM200.33 426.21h14.97v14.99h-14.97zM215.30 426.21h14.97v14.99h-14.97zM230.27 426.21h14.97v14.99h-14.97zM245.24 426.21h14.97v14.99h-14.97zM260.21 426.21h14.97v14.99h-14.97zM275.18 426.21h14.97v14.99h-14.97zM290.14 426.21h14.97v14.99h-14.97zM305.12 426.21h14.97v14.99h-14.97zM320.09 426.21h14.97v14.99h-14.97zM335.06 426.21h14.97v14.99h-14.97zM350.02 426.21h14.97v14.99h-14.97zM365.00 426.21h14.97v14.99h-14.97zM379.97 426.21h14.97v14.99h-14.97zM394.94 426.21h14.97v14.99h-14.97zM409.91 426.21h14.97v14.99h-14.97zM424.88 426.21h14.97v14.99h-14.97zM439.85 426.21h14.97v14.99h-14.97zM454.82 426.21h14.97v14.99h-14.97zM469.78 426.21h14.97v14.99h-14.97zM484.75 426.21h14.97v14.99h-14.97zM499.73 426.21h14.97v14.99h-14.97zM514.70 426.21h14.97v14.99h-14.97zM529.67 426.21h14.97v14.99h-14.97zM544.63 426.21h14.97v14.99h-14.97zM559.61 426.21h14.97v14.99h-14.97zM574.58 426.21h14.97v14.99h-14.97zM589.55 426.21h14.97v14.99h-14.97zM604.51 426.21h14.97v14.99h-14.97zM619.49 426.21h14.97v14.99h-14.97zM634.46 426.21h14.97v14.99h-14.97zM649.43 426.21h14.97v14.99h-14.97zM664.39 426.21h14.97v14.99h-14.97zM679.37 426.21h14.97v14.99h-14.97zM694.34 426.21h14.97v14.99h-14.97zM709.30 426.21h14.97v14.99h-14.97zM724.27 426.21h14.97v14.99h-14.97zM739.25 426.21h14.97v14.99h-14.97zM754.22 426.21h14.97v14.99h-14.97zM769.19 426.21h14.97v14.99h-14.97zM784.15 426.21h14.97v14.99h-14.97zM799.12 426.21h14.97v14.99h-14.97zM814.10 426.21h14.97v14.99h-14.97zM95.53 411.22h14.97v14.99h-14.97zM110.50 411.22h14.97v14.99h-14.97zM125.47 411.22h14.97v14.99h-14.97zM140.44 411.22h14.97v14.99h-14.97zM155.41 411.22h14.97v14.99h-14.97zM170.39 411.22h14.97v14.99h-14.97zM185.36 411.22h14.97v14.99h-14.97zM200.33 411.22h14.97v14.99h-14.97zM215.30 411.22h14.97v14.99h-14.97zM230.27 411.22h14.97v14.99h-14.97zM245.24 411.22h14.97v14.99h-14.97zM260.21 411.22h14.97v14.99h-14.97zM275.18 411.22h14.97v14.99h-14.97zM290.14 411.22h14.97v14.99h-14.97zM305.12 411.22h14.97v14.99h-14.97zM320.09 411.22h14.97v14.99h-14.97zM335.06 411.22h14.97v14.99h-14.97zM350.02 411.22h14.97v14.99h-14.97zM365.00 411.22h14.97v14.99h-14.97zM379.97 411.22h14.97v14.99h-14.97zM394.94 411.22h14.97v14.99h-14.97zM409.91 411.22h14.97v14.99h-14.97zM424.88 411.22h14.97v14.99h-14.97zM439.85 411.22h14.97v14.99h-14.97zM454.82 411.22h14.97v14.99h-14.97zM469.78 411.22h14.97v14.99h-14.97zM484.75 411.22h14.97v14.99h-14.97zM499.73 411.22h14.97v14.99h-14.97zM514.70 411.22h14.97v14.99h-14.97zM529.67 411.22h14.97v14.99h-14.97zM544.63 411.22h14.97v14.99h-14.97zM559.61 411.22h14.97v14.99h-14.97zM574.58 411.22h14.97v14.99h-14.97zM589.55 411.22h14.97v14.99h-14.97zM604.51 411.22h14.97v14.99h-14.97zM619.49 411.22h14.97v14.99h-14.97zM634.46 411.22h14.97v14.99h-14.97zM649.43 411.22h14.97v14.99h-14.97zM664.39 411.22h14.97v14.99h-14.97zM679.37 411.22h14.97v14.99h-14.97zM694.34 411.22h14.97v14.99h-14.97zM709.30 411.22h14.97v14.99h-14.97zM724.27 411.22h14.97v14.99h-14.97zM739.25 411.22h14.97v14.99h-14.97zM754.22 411.22h14.97v14.99h-14.97zM769.19 411.22h14.97v14.99h-14.97zM784.15 411.22h14.97v14.99h-14.97zM799.12 411.22h14.97v14.99h-14.97zM814.10 411.22h14.97v14.99h-14.97zM80.56 396.23h14.97v14.99h-14.97zM95.53 396.23h14.97v14.99h-14.97zM110.50 396.23h14.97v14.99h-14.97zM125.47 396.23h14.97v14.99h-14.97zM140.44 396.23h14.97v14.99h-14.97zM155.41 396.23h14.97v14.99h-14.97zM170.39 396.23h14.97v14.99h-14.97zM185.36 396.23h14.97v14.99h-14.97zM200.33 396.23h14.97v14.99h-14.97zM215.30 396.23h14.97v14.99h-14.97zM230.27 396.23h14.97v14.99h-14.97zM245.24 396.23h14.97v14.99h-14.97zM260.21 396.23h14.97v14.99h-14.97zM275.18 396.23h14.97v14.99h-14.97zM290.14 396.23h14.97v14.99h-14.97zM305.12 396.23h14.97v14.99h-14.97zM320.09 396.23h14.97v14.99h-14.97zM335.06 396.23h14.97v14.99h-14.97zM350.02 396.23h14.97v14.99h-14.97zM365.00 396.23h14.97v14.99h-14.97zM379.97 396.23h14.97v14.99h-14.97zM394.94 396.23h14.97v14.99h-14.97zM409.91 396.23h14.97v14.99h-14.97zM424.88 396.23h14.97v14.99h-14.97zM439.85 396.23h14.97v14.99h-14.97zM454.82 396.23h14.97v14.99h-14.97zM469.78 396.23h14.97v14.99h-14.97zM484.75 396.23h14.97v14.99h-14.97zM499.73 396.23h14.97v14.99h-14.97zM514.70 396.23h14.97v14.99h-14.97zM529.67 396.23h14.97v14.99h-14.97zM544.63 396.23h14.97v14.99h-14.97zM559.61 396.23h14.97v14.99h-14.97zM574.58 396.23h14.97v14.99h-14.97zM589.55 396.23h14.97v14.99h-14.97zM604.51 396.23h14.97v14.99h-14.97zM619.49 396.23h14.97v14.99h-14.97zM634.46 396.23h14.97v14.99h-14.97zM649.43 396.23h14.97v14.99h-14.97zM664.39 396.23h14.97v14.99h-14.97zM679.37 396.23h14.97v14.99h-14.97zM694.34 396.23h14.97v14.99h-14.97zM709.30 396.23h14.97v14.99h-14.97zM724.27 396.23h14.97v14.99h-14.97zM739.25 396.23h14.97v14.99h-14.97zM754.22 396.23h14.97v14.99h-14.97zM769.19 396.23h14.97v14.99h-14.97zM784.15 396.23h14.97v14.99h-14.97zM799.12 396.23h14.97v14.99h-14.97zM814.10 396.23h14.97v14.99h-14.97zM80.56 381.24h14.97v14.99h-14.97zM95.53 381.24h14.97v14.99h-14.97zM110.50 381.24h14.97v14.99h-14.97zM125.47 381.24h14.97v14.99h-14.97zM140.44 381.24h14.97v14.99h-14.97zM155.41 381.24h14.97v14.99h-14.97zM170.39 381.24h14.97v14.99h-14.97zM185.36 381.24h14.97v14.99h-14.97zM200.33 381.24h14.97v14.99h-14.97zM215.30 381.24h14.97v14.99h-14.97zM230.27 381.24h14.97v14.99h-14.97zM245.24 381.24h14.97v14.99h-14.97zM260.21 381.24h14.97v14.99h-14.97zM275.18 381.24h14.97v14.99h-14.97zM290.14 381.24h14.97v14.99h-14.97zM305.12 381.24h14.97v14.99h-14.97zM320.09 381.24h14.97v14.99h-14.97zM335.06 381.24h14.97v14.99h-14.97zM350.02 381.24h14.97v14.99h-14.97zM365.00 381.24h14.97v14.99h-14.97zM379.97 381.24h14.97v14.99h-14.97zM394.94 381.24h14.97v14.99h-14.97zM409.91 381.24h14.97v14.99h-14.97zM424.88 381.24h14.97v14.99h-14.97zM439.85 381.24h14.97v14.99h-14.97zM454.82 381.24h14.97v14.99h-14.97zM469.78 381.24h14.97v14.99h-14.97zM484.75 381.24h14.97v14.99h-14.97zM499.73 381.24h14.97v14.99h-14.97zM514.70 381.24h14.97v14.99h-14.97zM529.67 381.24h14.97v14.99h-14.97zM544.63 381.24h14.97v14.99h-14.97zM559.61 381.24h14.97v14.99h-14.97zM574.58 381.24h14.97v14.99h-14.97zM589.55 381.24h14.97v14.99h-14.97zM604.51 381.24h14.97v14.99h-14.97zM619.49 381.24h14.97v14.99h-14.97zM634.46 381.24h14.97v14.99h-14.97zM649.43 381.24h14.97v14.99h-14.97zM664.39 381.24h14.97v14.99h-14.97zM679.37 381.24h14.97v14.99h-14.97zM694.34 381.24h14.97v14.99h-14.97zM709.30 381.24h14.97v14.99h-14.97zM724.27 381.24h14.97v14.99h-14.97zM739.25 381.24h14.97v14.99h-14.97zM754.22 381.24h14.97v14.99h-14.97zM769.19 381.24h14.97v14.99h-14.97zM784.15 381.24h14.97v14.99h-14.97zM799.12 381.24h14.97v14.99h-14.97zM814.10 381.24h14.97v14.99h-14.97zM80.56 366.25h14.97v14.99h-14.97zM95.53 366.25h14.97v14.99h-14.97zM110.50 366.25h14.97v14.99h-14.97zM125.47 366.25h14.97v14.99h-14.97zM140.44 366.25h14.97v14.99h-14.97zM155.41 366.25h14.97v14.99h-14.97zM170.39 366.25h14.97v14.99h-14.97zM185.36 366.25h14.97v14.99h-14.97zM200.33 366.25h14.97v14.99h-14.97zM215.30 366.25h14.97v14.99h-14.97zM230.27 366.25h14.97v14.99h-14.97zM245.24 366.25h14.97v14.99h-14.97zM260.21 366.25h14.97v14.99h-14.97zM275.18 366.25h14.97v14.99h-14.97zM290.14 366.25h14.97v14.99h-14.97zM305.12 366.25h14.97v14.99h-14.97zM320.09 366.25h14.97v14.99h-14.97zM335.06 366.25h14.97v14.99h-14.97zM350.02 366.25h14.97v14.99h-14.97zM365.00 366.25h14.97v14.99h-14.97zM379.97 366.25h14.97v14.99h-14.97zM394.94 366.25h14.97v14.99h-14.97zM409.91 366.25h14.97v14.99h-14.97zM424.88 366.25h14.97v14.99h-14.97zM439.85 366.25h14.97v14.99h-14.97zM454.82 366.25h14.97v14.99h-14.97zM469.78 366.25h14.97v14.99h-14.97zM484.75 366.25h14.97v14.99h-14.97zM499.73 366.25h14.97v14.99h-14.97zM514.70 366.25h14.97v14.99h-14.97zM529.67 366.25h14.97v14.99h-14.97zM544.63 366.25h14.97v14.99h-14.97zM559.61 366.25h14.97v14.99h-14.97zM574.58 366.25h14.97v14.99h-14.97zM589.55 366.25h14.97v14.99h-14.97zM604.51 366.25h14.97v14.99h-14.97zM619.49 366.25h14.97v14.99h-14.97zM634.46 366.25h14.97v14.99h-14.97zM649.43 366.25h14.97v14.99h-14.97zM664.39 366.25h14.97v14.99h-14.97zM679.37 366.25h14.97v14.99h-14.97zM694.34 366.25h14.97v14.99h-14.97zM709.30 366.25h14.97v14.99h-14.97zM724.27 366.25h14.97v14.99h-14.97zM739.25 366.25h14.97v14.99h-14.97zM754.22 366.25h14.97v14.99h-14.97zM769.19 366.25h14.97v14.99h-14.97zM784.15 366.25h14.97v14.99h-14.97zM799.12 366.25h14.97v14.99h-14.97zM65.59 351.26h14.97v14.99h-14.97zM80.56 351.26h14.97v14.99h-14.97zM95.53 351.26h14.97v14.99h-14.97zM110.50 351.26h14.97v14.99h-14.97zM125.47 351.26h14.97v14.99h-14.97zM140.44 351.26h14.97v14.99h-14.97zM155.41 351.26h14.97v14.99h-14.97zM170.39 351.26h14.97v14.99h-14.97zM185.36 351.26h14.97v14.99h-14.97zM200.33 351.26h14.97v14.99h-14.97zM215.30 351.26h14.97v14.99h-14.97zM230.27 351.26h14.97v14.99h-14.97zM245.24 351.26h14.97v14.99h-14.97zM260.21 351.26h14.97v14.99h-14.97zM275.18 351.26h14.97v14.99h-14.97zM290.14 351.26h14.97v14.99h-14.97zM305.12 351.26h14.97v14.99h-14.97zM320.09 351.26h14.97v14.99h-14.97zM335.06 351.26h14.97v14.99h-14.97zM350.02 351.26h14.97v14.99h-14.97zM365.00 351.26h14.97v14.99h-14.97zM379.97 351.26h14.97v14.99h-14.97zM394.94 351.26h14.97v14.99h-14.97zM409.91 351.26h14.97v14.99h-14.97zM424.88 351.26h14.97v14.99h-14.97zM439.85 351.26h14.97v14.99h-14.97zM454.82 351.26h14.97v14.99h-14.97zM469.78 351.26h14.97v14.99h-14.97zM484.75 351.26h14.97v14.99h-14.97zM499.73 351.26h14.97v14.99h-14.97zM514.70 351.26h14.97v14.99h-14.97zM529.67 351.26h14.97v14.99h-14.97zM544.63 351.26h14.97v14.99h-14.97zM559.61 351.26h14.97v14.99h-14.97zM574.58 351.26h14.97v14.99h-14.97zM589.55 351.26h14.97v14.99h-14.97zM604.51 351.26h14.97v14.99h-14.97zM619.49 351.26h14.97v14.99h-14.97zM634.46 351.26h14.97v14.99h-14.97zM649.43 351.26h14.97v14.99h-14.97zM664.39 351.26h14.97v14.99h-14.97zM679.37 351.26h14.97v14.99h-14.97zM694.34 351.26h14.97v14.99h-14.97zM709.30 351.26h14.97v14.99h-14.97zM724.27 351.26h14.97v14.99h-14.97zM739.25 351.26h14.97v14.99h-14.97zM754.22 351.26h14.97v14.99h-14.97zM769.19 351.26h14.97v14.99h-14.97zM784.15 351.26h14.97v14.99h-14.97zM799.12 351.26h14.97v14.99h-14.97zM50.62 336.27h14.97v14.99h-14.97zM65.59 336.27h14.97v14.99h-14.97zM80.56 336.27h14.97v14.99h-14.97zM95.53 336.27h14.97v14.99h-14.97zM110.50 336.27h14.97v14.99h-14.97zM125.47 336.27h14.97v14.99h-14.97zM140.44 336.27h14.97v14.99h-14.97zM155.41 336.27h14.97v14.99h-14.97zM170.39 336.27h14.97v14.99h-14.97zM185.36 336.27h14.97v14.99h-14.97zM200.33 336.27h14.97v14.99h-14.97zM215.30 336.27h14.97v14.99h-14.97zM230.27 336.27h14.97v14.99h-14.97zM245.24 336.27h14.97v14.99h-14.97zM260.21 336.27h14.97v14.99h-14.97zM275.18 336.27h14.97v14.99h-14.97zM290.14 336.27h14.97v14.99h-14.97zM305.12 336.27h14.97v14.99h-14.97zM320.09 336.27h14.97v14.99h-14.97zM335.06 336.27h14.97v14.99h-14.97zM350.02 336.27h14.97v14.99h-14.97zM365.00 336.27h14.97v14.99h-14.97zM379.97 336.27h14.97v14.99h-14.97zM394.94 336.27h14.97v14.99h-14.97zM409.91 336.27h14.97v14.99h-14.97zM424.88 336.27h14.97v14.99h-14.97zM439.85 336.27h14.97v14.99h-14.97zM454.82 336.27h14.97v14.99h-14.97zM469.78 336.27h14.97v14.99h-14.97zM484.75 336.27h14.97v14.99h-14.97zM499.73 336.27h14.97v14.99h-14.97zM514.70 336.27h14.97v14.99h-14.97zM529.67 336.27h14.97v14.99h-14.97zM544.63 336.27h14.97v14.99h-14.97zM559.61 336.27h14.97v14.99h-14.97zM574.58 336.27h14.97v14.99h-14.97zM589.55 336.27h14.97v14.99h-14.97zM604.51 336.27h14.97v14.99h-14.97zM619.49 336.27h14.97v14.99h-14.97zM634.46 336.27h14.97v14.99h-14.97zM649.43 336.27h14.97v14.99h-14.97zM664.39 336.27h14.97v14.99h-14.97zM679.37 336.27h14.97v14.99h-14.97zM694.34 336.27h14.97v14.99h-14.97zM709.30 336.27h14.97v14.99h-14.97zM724.27 336.27h14.97v14.99h-14.97zM739.25 336.27h14.97v14.99h-14.97zM754.22 336.27h14.97v14.99h-14.97zM769.19 336.27h14.97v14.99h-14.97zM784.15 336.27h14.97v14.99h-14.97zM799.12 336.27h14.97v14.99h-14.97zM35.66 321.28h14.97v14.99h-14.97zM50.62 321.28h14.97v14.99h-14.97zM65.59 321.28h14.97v14.99h-14.97zM80.56 321.28h14.97v14.99h-14.97zM95.53 321.28h14.97v14.99h-14.97zM110.50 321.28h14.97v14.99h-14.97zM125.47 321.28h14.97v14.99h-14.97zM140.44 321.28h14.97v14.99h-14.97zM155.41 321.28h14.97v14.99h-14.97zM170.39 321.28h14.97v14.99h-14.97zM185.36 321.28h14.97v14.99h-14.97zM200.33 321.28h14.97v14.99h-14.97zM215.30 321.28h14.97v14.99h-14.97zM230.27 321.28h14.97v14.99h-14.97zM245.24 321.28h14.97v14.99h-14.97zM260.21 321.28h14.97v14.99h-14.97zM275.18 321.28h14.97v14.99h-14.97zM290.14 321.28h14.97v14.99h-14.97zM305.12 321.28h14.97v14.99h-14.97zM320.09 321.28h14.97v14.99h-14.97zM335.06 321.28h14.97v14.99h-14.97zM350.02 321.28h14.97v14.99h-14.97zM365.00 321.28h14.97v14.99h-14.97zM379.97 321.28h14.97v14.99h-14.97zM394.94 321.28h14.97v14.99h-14.97zM409.91 321.28h14.97v14.99h-14.97zM424.88 321.28h14.97v14.99h-14.97zM439.85 321.28h14.97v14.99h-14.97zM454.82 321.28h14.97v14.99h-14.97zM469.78 321.28h14.97v14.99h-14.97zM484.75 321.28h14.97v14.99h-14.97zM499.73 321.28h14.97v14.99h-14.97zM514.70 321.28h14.97v14.99h-14.97zM529.67 321.28h14.97v14.99h-14.97zM544.63 321.28h14.97v14.99h-14.97zM559.61 321.28h14.97v14.99h-14.97zM574.58 321.28h14.97v14.99h-14.97zM589.55 321.28h14.97v14.99h-14.97zM604.51 321.28h14.97v14.99h-14.97zM619.49 321.28h14.97v14.99h-14.97zM634.46 321.28h14.97v14.99h-14.97zM649.43 321.28h14.97v14.99h-14.97zM664.39 321.28h14.97v14.99h-14.97zM679.37 321.28h14.97v14.99h-14.97zM694.34 321.28h14.97v14.99h-14.97zM709.30 321.28h14.97v14.99h-14.97zM724.27 321.28h14.97v14.99h-14.97zM739.25 321.28h14.97v14.99h-14.97zM754.22 321.28h14.97v14.99h-14.97zM769.19 321.28h14.97v14.99h-14.97zM784.15 321.28h14.97v14.99h-14.97zM799.12 321.28h14.97v14.99h-14.97zM814.10 321.28h14.97v14.99h-14.97zM20.69 306.29h14.97v14.99h-14.97zM35.66 306.29h14.97v14.99h-14.97zM50.62 306.29h14.97v14.99h-14.97zM65.59 306.29h14.97v14.99h-14.97zM80.56 306.29h14.97v14.99h-14.97zM95.53 306.29h14.97v14.99h-14.97zM110.50 306.29h14.97v14.99h-14.97zM125.47 306.29h14.97v14.99h-14.97zM140.44 306.29h14.97v14.99h-14.97zM155.41 306.29h14.97v14.99h-14.97zM170.39 306.29h14.97v14.99h-14.97zM185.36 306.29h14.97v14.99h-14.97zM200.33 306.29h14.97v14.99h-14.97zM215.30 306.29h14.97v14.99h-14.97zM230.27 306.29h14.97v14.99h-14.97zM245.24 306.29h14.97v14.99h-14.97zM260.21 306.29h14.97v14.99h-14.97zM275.18 306.29h14.97v14.99h-14.97zM290.14 306.29h14.97v14.99h-14.97zM305.12 306.29h14.97v14.99h-14.97zM320.09 306.29h14.97v14.99h-14.97zM335.06 306.29h14.97v14.99h-14.97zM350.02 306.29h14.97v14.99h-14.97zM365.00 306.29h14.97v14.99h-14.97zM379.97 306.29h14.97v14.99h-14.97zM394.94 306.29h14.97v14.99h-14.97zM409.91 306.29h14.97v14.99h-14.97zM424.88 306.29h14.97v14.99h-14.97zM439.85 306.29h14.97v14.99h-14.97zM454.82 306.29h14.97v14.99h-14.97zM469.78 306.29h14.97v14.99h-14.97zM484.75 306.29h14.97v14.99h-14.97zM499.73 306.29h14.97v14.99h-14.97zM514.70 306.29h14.97v14.99h-14.97zM529.67 306.29h14.97v14.99h-14.97zM544.63 306.29h14.97v14.99h-14.97zM559.61 306.29h14.97v14.99h-14.97zM574.58 306.29h14.97v14.99h-14.97zM589.55 306.29h14.97v14.99h-14.97zM604.51 306.29h14.97v14.99h-14.97zM619.49 306.29h14.97v14.99h-14.97zM634.46 306.29h14.97v14.99h-14.97zM649.43 306.29h14.97v14.99h-14.97zM664.39 306.29h14.97v14.99h-14.97zM679.37 306.29h14.97v14.99h-14.97zM694.34 306.29h14.97v14.99h-14.97zM709.30 306.29h14.97v14.99h-14.97zM724.27 306.29h14.97v14.99h-14.97zM739.25 306.29h14.97v14.99h-14.97zM754.22 306.29h14.97v14.99h-14.97zM769.19 306.29h14.97v14.99h-14.97zM784.15 306.29h14.97v14.99h-14.97zM799.12 306.29h14.97v14.99h-14.97zM814.10 306.29h14.97v14.99h-14.97zM829.07 306.29h14.97v14.99h-14.97zM5.72 291.30h14.97v14.99h-14.97zM20.69 291.30h14.97v14.99h-14.97zM35.66 291.30h14.97v14.99h-14.97zM50.62 291.30h14.97v14.99h-14.97zM65.59 291.30h14.97v14.99h-14.97zM80.56 291.30h14.97v14.99h-14.97zM95.53 291.30h14.97v14.99h-14.97zM110.50 291.30h14.97v14.99h-14.97zM125.47 291.30h14.97v14.99h-14.97zM140.44 291.30h14.97v14.99h-14.97zM155.41 291.30h14.97v14.99h-14.97zM170.39 291.30h14.97v14.99h-14.97zM185.36 291.30h14.97v14.99h-14.97zM200.33 291.30h14.97v14.99h-14.97zM215.30 291.30h14.97v14.99h-14.97zM230.27 291.30h14.97v14.99h-14.97zM245.24 291.30h14.97v14.99h-14.97zM260.21 291.30h14.97v14.99h-14.97zM275.18 291.30h14.97v14.99h-14.97zM290.14 291.30h14.97v14.99h-14.97zM305.12 291.30h14.97v14.99h-14.97zM320.09 291.30h14.97v14.99h-14.97zM335.06 291.30h14.97v14.99h-14.97zM350.02 291.30h14.97v14.99h-14.97zM365.00 291.30h14.97v14.99h-14.97zM379.97 291.30h14.97v14.99h-14.97zM394.94 291.30h14.97v14.99h-14.97zM409.91 291.30h14.97v14.99h-14.97zM424.88 291.30h14.97v14.99h-14.97zM439.85 291.30h14.97v14.99h-14.97zM454.82 291.30h14.97v14.99h-14.97zM469.78 291.30h14.97v14.99h-14.97zM484.75 291.30h14.97v14.99h-14.97zM499.73 291.30h14.97v14.99h-14.97zM514.70 291.30h14.97v14.99h-14.97zM529.67 291.30h14.97v14.99h-14.97zM544.63 291.30h14.97v14.99h-14.97zM559.61 291.30h14.97v14.99h-14.97zM574.58 291.30h14.97v14.99h-14.97zM589.55 291.30h14.97v14.99h-14.97zM604.51 291.30h14.97v14.99h-14.97zM619.49 291.30h14.97v14.99h-14.97zM634.46 291.30h14.97v14.99h-14.97zM649.43 291.30h14.97v14.99h-14.97zM664.39 291.30h14.97v14.99h-14.97zM679.37 291.30h14.97v14.99h-14.97zM694.34 291.30h14.97v14.99h-14.97zM709.30 291.30h14.97v14.99h-14.97zM724.27 291.30h14.97v14.99h-14.97zM739.25 291.30h14.97v14.99h-14.97zM754.22 291.30h14.97v14.99h-14.97zM769.19 291.30h14.97v14.99h-14.97zM784.15 291.30h14.97v14.99h-14.97zM799.12 291.30h14.97v14.99h-14.97zM814.10 291.30h14.97v14.99h-14.97zM829.07 291.30h14.97v14.99h-14.97zM844.03 291.30h14.97v14.99h-14.97zM859.00 291.30h14.97v14.99h-14.97zM873.98 291.30h14.97v14.99h-14.97zM5.72 276.31h14.97v14.99h-14.97zM20.69 276.31h14.97v14.99h-14.97zM35.66 276.31h14.97v14.99h-14.97zM50.62 276.31h14.97v14.99h-14.97zM65.59 276.31h14.97v14.99h-14.97zM80.56 276.31h14.97v14.99h-14.97zM95.53 276.31h14.97v14.99h-14.97zM110.50 276.31h14.97v14.99h-14.97zM125.47 276.31h14.97v14.99h-14.97zM140.44 276.31h14.97v14.99h-14.97zM155.41 276.31h14.97v14.99h-14.97zM170.39 276.31h14.97v14.99h-14.97zM185.36 276.31h14.97v14.99h-14.97zM200.33 276.31h14.97v14.99h-14.97zM215.30 276.31h14.97v14.99h-14.97zM230.27 276.31h14.97v14.99h-14.97zM245.24 276.31h14.97v14.99h-14.97zM260.21 276.31h14.97v14.99h-14.97zM275.18 276.31h14.97v14.99h-14.97zM290.14 276.31h14.97v14.99h-14.97zM305.12 276.31h14.97v14.99h-14.97zM320.09 276.31h14.97v14.99h-14.97zM335.06 276.31h14.97v14.99h-14.97zM350.02 276.31h14.97v14.99h-14.97zM365.00 276.31h14.97v14.99h-14.97zM379.97 276.31h14.97v14.99h-14.97zM394.94 276.31h14.97v14.99h-14.97zM409.91 276.31h14.97v14.99h-14.97zM424.88 276.31h14.97v14.99h-14.97zM439.85 276.31h14.97v14.99h-14.97zM454.82 276.31h14.97v14.99h-14.97zM469.78 276.31h14.97v14.99h-14.97zM484.75 276.31h14.97v14.99h-14.97zM499.73 276.31h14.97v14.99h-14.97zM514.70 276.31h14.97v14.99h-14.97zM529.67 276.31h14.97v14.99h-14.97zM544.63 276.31h14.97v14.99h-14.97zM559.61 276.31h14.97v14.99h-14.97zM574.58 276.31h14.97v14.99h-14.97zM589.55 276.31h14.97v14.99h-14.97zM604.51 276.31h14.97v14.99h-14.97zM619.49 276.31h14.97v14.99h-14.97zM634.46 276.31h14.97v14.99h-14.97zM649.43 276.31h14.97v14.99h-14.97zM664.39 276.31h14.97v14.99h-14.97zM679.37 276.31h14.97v14.99h-14.97zM694.34 276.31h14.97v14.99h-14.97zM709.30 276.31h14.97v14.99h-14.97zM724.27 276.31h14.97v14.99h-14.97zM739.25 276.31h14.97v14.99h-14.97zM754.22 276.31h14.97v14.99h-14.97zM769.19 276.31h14.97v14.99h-14.97zM784.15 276.31h14.97v14.99h-14.97zM799.12 276.31h14.97v14.99h-14.97zM814.10 276.31h14.97v14.99h-14.97zM829.07 276.31h14.97v14.99h-14.97zM844.03 276.31h14.97v14.99h-14.97zM859.00 276.31h14.97v14.99h-14.97zM873.98 276.31h14.97v14.99h-14.97zM888.95 276.31h14.97v14.99h-14.97zM903.91 276.31h14.97v14.99h-14.97zM20.69 261.32h14.97v14.99h-14.97zM35.66 261.32h14.97v14.99h-14.97zM50.62 261.32h14.97v14.99h-14.97zM65.59 261.32h14.97v14.99h-14.97zM80.56 261.32h14.97v14.99h-14.97zM95.53 261.32h14.97v14.99h-14.97zM110.50 261.32h14.97v14.99h-14.97zM125.47 261.32h14.97v14.99h-14.97zM140.44 261.32h14.97v14.99h-14.97zM155.41 261.32h14.97v14.99h-14.97zM170.39 261.32h14.97v14.99h-14.97zM185.36 261.32h14.97v14.99h-14.97zM200.33 261.32h14.97v14.99h-14.97zM215.30 261.32h14.97v14.99h-14.97zM230.27 261.32h14.97v14.99h-14.97zM245.24 261.32h14.97v14.99h-14.97zM260.21 261.32h14.97v14.99h-14.97zM275.18 261.32h14.97v14.99h-14.97zM290.14 261.32h14.97v14.99h-14.97zM305.12 261.32h14.97v14.99h-14.97zM320.09 261.32h14.97v14.99h-14.97zM335.06 261.32h14.97v14.99h-14.97zM350.02 261.32h14.97v14.99h-14.97zM365.00 261.32h14.97v14.99h-14.97zM379.97 261.32h14.97v14.99h-14.97zM394.94 261.32h14.97v14.99h-14.97zM409.91 261.32h14.97v14.99h-14.97zM424.88 261.32h14.97v14.99h-14.97zM439.85 261.32h14.97v14.99h-14.97zM454.82 261.32h14.97v14.99h-14.97zM469.78 261.32h14.97v14.99h-14.97zM484.75 261.32h14.97v14.99h-14.97zM499.73 261.32h14.97v14.99h-14.97zM514.70 261.32h14.97v14.99h-14.97zM529.67 261.32h14.97v14.99h-14.97zM544.63 261.32h14.97v14.99h-14.97zM559.61 261.32h14.97v14.99h-14.97zM574.58 261.32h14.97v14.99h-14.97zM589.55 261.32h14.97v14.99h-14.97zM604.51 261.32h14.97v14.99h-14.97zM619.49 261.32h14.97v14.99h-14.97zM634.46 261.32h14.97v14.99h-14.97zM649.43 261.32h14.97v14.99h-14.97zM664.39 261.32h14.97v14.99h-14.97zM679.37 261.32h14.97v14.99h-14.97zM694.34 261.32h14.97v14.99h-14.97zM709.30 261.32h14.97v14.99h-14.97zM724.27 261.32h14.97v14.99h-14.97zM739.25 261.32h14.97v14.99h-14.97zM754.22 261.32h14.97v14.99h-14.97zM769.19 261.32h14.97v14.99h-14.97zM784.15 261.32h14.97v14.99h-14.97zM799.12 261.32h14.97v14.99h-14.97zM814.10 261.32h14.97v14.99h-14.97zM829.07 261.32h14.97v14.99h-14.97zM844.03 261.32h14.97v14.99h-14.97zM859.00 261.32h14.97v14.99h-14.97zM873.98 261.32h14.97v14.99h-14.97zM888.95 261.32h14.97v14.99h-14.97zM903.91 261.32h14.97v14.99h-14.97zM918.88 261.32h14.97v14.99h-14.97zM35.66 246.33h14.97v14.99h-14.97zM50.62 246.33h14.97v14.99h-14.97zM65.59 246.33h14.97v14.99h-14.97zM80.56 246.33h14.97v14.99h-14.97zM95.53 246.33h14.97v14.99h-14.97zM110.50 246.33h14.97v14.99h-14.97zM125.47 246.33h14.97v14.99h-14.97zM140.44 246.33h14.97v14.99h-14.97zM155.41 246.33h14.97v14.99h-14.97zM170.39 246.33h14.97v14.99h-14.97zM185.36 246.33h14.97v14.99h-14.97zM200.33 246.33h14.97v14.99h-14.97zM215.30 246.33h14.97v14.99h-14.97zM230.27 246.33h14.97v14.99h-14.97zM245.24 246.33h14.97v14.99h-14.97zM260.21 246.33h14.97v14.99h-14.97zM275.18 246.33h14.97v14.99h-14.97zM290.14 246.33h14.97v14.99h-14.97zM305.12 246.33h14.97v14.99h-14.97zM320.09 246.33h14.97v14.99h-14.97zM335.06 246.33h14.97v14.99h-14.97zM350.02 246.33h14.97v14.99h-14.97zM365.00 246.33h14.97v14.99h-14.97zM379.97 246.33h14.97v14.99h-14.97zM394.94 246.33h14.97v14.99h-14.97zM409.91 246.33h14.97v14.99h-14.97zM424.88 246.33h14.97v14.99h-14.97zM439.85 246.33h14.97v14.99h-14.97zM454.82 246.33h14.97v14.99h-14.97zM469.78 246.33h14.97v14.99h-14.97zM484.75 246.33h14.97v14.99h-14.97zM499.73 246.33h14.97v14.99h-14.97zM514.70 246.33h14.97v14.99h-14.97zM529.67 246.33h14.97v14.99h-14.97zM544.63 246.33h14.97v14.99h-14.97zM559.61 246.33h14.97v14.99h-14.97zM574.58 246.33h14.97v14.99h-14.97zM589.55 246.33h14.97v14.99h-14.97zM604.51 246.33h14.97v14.99h-14.97zM619.49 246.33h14.97v14.99h-14.97zM634.46 246.33h14.97v14.99h-14.97zM649.43 246.33h14.97v14.99h-14.97zM664.39 246.33h14.97v14.99h-14.97zM679.37 246.33h14.97v14.99h-14.97zM694.34 246.33h14.97v14.99h-14.97zM709.30 246.33h14.97v14.99h-14.97zM724.27 246.33h14.97v14.99h-14.97zM739.25 246.33h14.97v14.99h-14.97zM754.22 246.33h14.97v14.99h-14.97zM769.19 246.33h14.97v14.99h-14.97zM784.15 246.33h14.97v14.99h-14.97zM799.12 246.33h14.97v14.99h-14.97zM814.10 246.33h14.97v14.99h-14.97zM829.07 246.33h14.97v14.99h-14.97zM844.03 246.33h14.97v14.99h-14.97zM859.00 246.33h14.97v14.99h-14.97zM873.98 246.33h14.97v14.99h-14.97zM888.95 246.33h14.97v14.99h-14.97zM903.91 246.33h14.97v14.99h-14.97zM918.88 246.33h14.97v14.99h-14.97zM933.86 246.33h14.97v14.99h-14.97zM50.62 231.34h14.97v14.99h-14.97zM65.59 231.34h14.97v14.99h-14.97zM80.56 231.34h14.97v14.99h-14.97zM95.53 231.34h14.97v14.99h-14.97zM110.50 231.34h14.97v14.99h-14.97zM125.47 231.34h14.97v14.99h-14.97zM140.44 231.34h14.97v14.99h-14.97zM155.41 231.34h14.97v14.99h-14.97zM170.39 231.34h14.97v14.99h-14.97zM185.36 231.34h14.97v14.99h-14.97zM200.33 231.34h14.97v14.99h-14.97zM215.30 231.34h14.97v14.99h-14.97zM230.27 231.34h14.97v14.99h-14.97zM245.24 231.34h14.97v14.99h-14.97zM260.21 231.34h14.97v14.99h-14.97zM275.18 231.34h14.97v14.99h-14.97zM290.14 231.34h14.97v14.99h-14.97zM305.12 231.34h14.97v14.99h-14.97zM320.09 231.34h14.97v14.99h-14.97zM335.06 231.34h14.97v14.99h-14.97zM350.02 231.34h14.97v14.99h-14.97zM365.00 231.34h14.97v14.99h-14.97zM379.97 231.34h14.97v14.99h-14.97zM394.94 231.34h14.97v14.99h-14.97zM409.91 231.34h14.97v14.99h-14.97zM424.88 231.34h14.97v14.99h-14.97zM439.85 231.34h14.97v14.99h-14.97zM454.82 231.34h14.97v14.99h-14.97zM469.78 231.34h14.97v14.99h-14.97zM484.75 231.34h14.97v14.99h-14.97zM499.73 231.34h14.97v14.99h-14.97zM514.70 231.34h14.97v14.99h-14.97zM529.67 231.34h14.97v14.99h-14.97zM544.63 231.34h14.97v14.99h-14.97zM559.61 231.34h14.97v14.99h-14.97zM574.58 231.34h14.97v14.99h-14.97zM589.55 231.34h14.97v14.99h-14.97zM604.51 231.34h14.97v14.99h-14.97zM619.49 231.34h14.97v14.99h-14.97zM634.46 231.34h14.97v14.99h-14.97zM649.43 231.34h14.97v14.99h-14.97zM664.39 231.34h14.97v14.99h-14.97zM679.37 231.34h14.97v14.99h-14.97zM694.34 231.34h14.97v14.99h-14.97zM709.30 231.34h14.97v14.99h-14.97zM724.27 231.34h14.97v14.99h-14.97zM739.25 231.34h14.97v14.99h-14.97zM754.22 231.34h14.97v14.99h-14.97zM769.19 231.34h14.97v14.99h-14.97zM784.15 231.34h14.97v14.99h-14.97zM799.12 231.34h14.97v14.99h-14.97zM814.10 231.34h14.97v14.99h-14.97zM829.07 231.34h14.97v14.99h-14.97zM844.03 231.34h14.97v14.99h-14.97zM859.00 231.34h14.97v14.99h-14.97zM873.98 231.34h14.97v14.99h-14.97zM888.95 231.34h14.97v14.99h-14.97zM903.91 231.34h14.97v14.99h-14.97zM918.88 231.34h14.97v14.99h-14.97zM933.86 231.34h14.97v14.99h-14.97zM948.83 231.34h14.97v14.99h-14.97zM65.59 216.35h14.97v14.99h-14.97zM80.56 216.35h14.97v14.99h-14.97zM95.53 216.35h14.97v14.99h-14.97zM110.50 216.35h14.97v14.99h-14.97zM125.47 216.35h14.97v14.99h-14.97zM140.44 216.35h14.97v14.99h-14.97zM155.41 216.35h14.97v14.99h-14.97zM170.39 216.35h14.97v14.99h-14.97zM185.36 216.35h14.97v14.99h-14.97zM200.33 216.35h14.97v14.99h-14.97zM215.30 216.35h14.97v14.99h-14.97zM230.27 216.35h14.97v14.99h-14.97zM245.24 216.35h14.97v14.99h-14.97zM260.21 216.35h14.97v14.99h-14.97zM275.18 216.35h14.97v14.99h-14.97zM290.14 216.35h14.97v14.99h-14.97zM305.12 216.35h14.97v14.99h-14.97zM320.09 216.35h14.97v14.99h-14.97zM335.06 216.35h14.97v14.99h-14.97zM350.02 216.35h14.97v14.99h-14.97zM365.00 216.35h14.97v14.99h-14.97zM379.97 216.35h14.97v14.99h-14.97zM394.94 216.35h14.97v14.99h-14.97zM409.91 216.35h14.97v14.99h-14.97zM424.88 216.35h14.97v14.99h-14.97zM439.85 216.35h14.97v14.99h-14.97zM454.82 216.35h14.97v14.99h-14.97zM469.78 216.35h14.97v14.99h-14.97zM484.75 216.35h14.97v14.99h-14.97zM499.73 216.35h14.97v14.99h-14.97zM514.70 216.35h14.97v14.99h-14.97zM529.67 216.35h14.97v14.99h-14.97zM544.63 216.35h14.97v14.99h-14.97zM559.61 216.35h14.97v14.99h-14.97zM574.58 216.35h14.97v14.99h-14.97zM589.55 216.35h14.97v14.99h-14.97zM604.51 216.35h14.97v14.99h-14.97zM619.49 216.35h14.97v14.99h-14.97zM634.46 216.35h14.97v14.99h-14.97zM649.43 216.35h14.97v14.99h-14.97zM664.39 216.35h14.97v14.99h-14.97zM679.37 216.35h14.97v14.99h-14.97zM694.34 216.35h14.97v14.99h-14.97zM709.30 216.35h14.97v14.99h-14.97zM724.27 216.35h14.97v14.99h-14.97zM739.25 216.35h14.97v14.99h-14.97zM754.22 216.35h14.97v14.99h-14.97zM769.19 216.35h14.97v14.99h-14.97zM784.15 216.35h14.97v14.99h-14.97zM799.12 216.35h14.97v14.99h-14.97zM814.10 216.35h14.97v14.99h-14.97zM829.07 216.35h14.97v14.99h-14.97zM844.03 216.35h14.97v14.99h-14.97zM859.00 216.35h14.97v14.99h-14.97zM873.98 216.35h14.97v14.99h-14.97zM888.95 216.35h14.97v14.99h-14.97zM903.91 216.35h14.97v14.99h-14.97zM918.88 216.35h14.97v14.99h-14.97zM933.86 216.35h14.97v14.99h-14.97zM948.83 216.35h14.97v14.99h-14.97zM963.79 216.35h14.97v14.99h-14.97zM110.50 201.36h14.97v14.99h-14.97zM125.47 201.36h14.97v14.99h-14.97zM140.44 201.36h14.97v14.99h-14.97zM155.41 201.36h14.97v14.99h-14.97zM170.39 201.36h14.97v14.99h-14.97zM185.36 201.36h14.97v14.99h-14.97zM200.33 201.36h14.97v14.99h-14.97zM215.30 201.36h14.97v14.99h-14.97zM230.27 201.36h14.97v14.99h-14.97zM245.24 201.36h14.97v14.99h-14.97zM260.21 201.36h14.97v14.99h-14.97zM275.18 201.36h14.97v14.99h-14.97zM290.14 201.36h14.97v14.99h-14.97zM305.12 201.36h14.97v14.99h-14.97zM320.09 201.36h14.97v14.99h-14.97zM335.06 201.36h14.97v14.99h-14.97zM350.02 201.36h14.97v14.99h-14.97zM365.00 201.36h14.97v14.99h-14.97zM379.97 201.36h14.97v14.99h-14.97zM394.94 201.36h14.97v14.99h-14.97zM409.91 201.36h14.97v14.99h-14.97zM424.88 201.36h14.97v14.99h-14.97zM439.85 201.36h14.97v14.99h-14.97zM454.82 201.36h14.97v14.99h-14.97zM469.78 201.36h14.97v14.99h-14.97zM484.75 201.36h14.97v14.99h-14.97zM499.73 201.36h14.97v14.99h-14.97zM514.70 201.36h14.97v14.99h-14.97zM529.67 201.36h14.97v14.99h-14.97zM544.63 201.36h14.97v14.99h-14.97zM559.61 201.36h14.97v14.99h-14.97zM574.58 201.36h14.97v14.99h-14.97zM589.55 201.36h14.97v14.99h-14.97zM604.51 201.36h14.97v14.99h-14.97zM619.49 201.36h14.97v14.99h-14.97zM634.46 201.36h14.97v14.99h-14.97zM649.43 201.36h14.97v14.99h-14.97zM664.39 201.36h14.97v14.99h-14.97zM679.37 201.36h14.97v14.99h-14.97zM694.34 201.36h14.97v14.99h-14.97zM709.30 201.36h14.97v14.99h-14.97zM724.27 201.36h14.97v14.99h-14.97zM739.25 201.36h14.97v14.99h-14.97zM754.22 201.36h14.97v14.99h-14.97zM769.19 201.36h14.97v14.99h-14.97zM784.15 201.36h14.97v14.99h-14.97zM799.12 201.36h14.97v14.99h-14.97zM814.10 201.36h14.97v14.99h-14.97zM829.07 201.36h14.97v14.99h-14.97zM844.03 201.36h14.97v14.99h-14.97zM859.00 201.36h14.97v14.99h-14.97zM873.98 201.36h14.97v14.99h-14.97zM888.95 201.36h14.97v14.99h-14.97zM903.91 201.36h14.97v14.99h-14.97zM918.88 201.36h14.97v14.99h-14.97zM933.86 201.36h14.97v14.99h-14.97zM948.83 201.36h14.97v14.99h-14.97zM963.79 201.36h14.97v14.99h-14.97zM978.76 201.36h14.97v14.99h-14.97zM110.50 186.37h14.97v14.99h-14.97zM125.47 186.37h14.97v14.99h-14.97zM140.44 186.37h14.97v14.99h-14.97zM155.41 186.37h14.97v14.99h-14.97zM170.39 186.37h14.97v14.99h-14.97zM185.36 186.37h14.97v14.99h-14.97zM200.33 186.37h14.97v14.99h-14.97zM215.30 186.37h14.97v14.99h-14.97zM230.27 186.37h14.97v14.99h-14.97zM245.24 186.37h14.97v14.99h-14.97zM260.21 186.37h14.97v14.99h-14.97zM275.18 186.37h14.97v14.99h-14.97zM290.14 186.37h14.97v14.99h-14.97zM305.12 186.37h14.97v14.99h-14.97zM320.09 186.37h14.97v14.99h-14.97zM335.06 186.37h14.97v14.99h-14.97zM350.02 186.37h14.97v14.99h-14.97zM365.00 186.37h14.97v14.99h-14.97zM379.97 186.37h14.97v14.99h-14.97zM394.94 186.37h14.97v14.99h-14.97zM409.91 186.37h14.97v14.99h-14.97zM424.88 186.37h14.97v14.99h-14.97zM439.85 186.37h14.97v14.99h-14.97zM454.82 186.37h14.97v14.99h-14.97zM469.78 186.37h14.97v14.99h-14.97zM544.63 186.37h14.97v14.99h-14.97zM559.61 186.37h14.97v14.99h-14.97zM574.58 186.37h14.97v14.99h-14.97zM589.55 186.37h14.97v14.99h-14.97zM604.51 186.37h14.97v14.99h-14.97zM619.49 186.37h14.97v14.99h-14.97zM634.46 186.37h14.97v14.99h-14.97zM649.43 186.37h14.97v14.99h-14.97zM664.39 186.37h14.97v14.99h-14.97zM679.37 186.37h14.97v14.99h-14.97zM694.34 186.37h14.97v14.99h-14.97zM709.30 186.37h14.97v14.99h-14.97zM724.27 186.37h14.97v14.99h-14.97zM739.25 186.37h14.97v14.99h-14.97zM754.22 186.37h14.97v14.99h-14.97zM769.19 186.37h14.97v14.99h-14.97zM784.15 186.37h14.97v14.99h-14.97zM799.12 186.37h14.97v14.99h-14.97zM814.10 186.37h14.97v14.99h-14.97zM829.07 186.37h14.97v14.99h-14.97zM844.03 186.37h14.97v14.99h-14.97zM859.00 186.37h14.97v14.99h-14.97zM873.98 186.37h14.97v14.99h-14.97zM888.95 186.37h14.97v14.99h-14.97zM903.91 186.37h14.97v14.99h-14.97zM918.88 186.37h14.97v14.99h-14.97zM933.86 186.37h14.97v14.99h-14.97zM948.83 186.37h14.97v14.99h-14.97zM963.79 186.37h14.97v14.99h-14.97zM978.76 186.37h14.97v14.99h-14.97zM993.74 186.37h14.97v14.99h-14.97zM125.47 171.38h14.97v14.99h-14.97zM140.44 171.38h14.97v14.99h-14.97zM155.41 171.38h14.97v14.99h-14.97zM170.39 171.38h14.97v14.99h-14.97zM185.36 171.38h14.97v14.99h-14.97zM200.33 171.38h14.97v14.99h-14.97zM215.30 171.38h14.97v14.99h-14.97zM230.27 171.38h14.97v14.99h-14.97zM245.24 171.38h14.97v14.99h-14.97zM260.21 171.38h14.97v14.99h-14.97zM275.18 171.38h14.97v14.99h-14.97zM290.14 171.38h14.97v14.99h-14.97zM305.12 171.38h14.97v14.99h-14.97zM320.09 171.38h14.97v14.99h-14.97zM335.06 171.38h14.97v14.99h-14.97zM350.02 171.38h14.97v14.99h-14.97zM365.00 171.38h14.97v14.99h-14.97zM379.97 171.38h14.97v14.99h-14.97zM394.94 171.38h14.97v14.99h-14.97zM604.51 171.38h14.97v14.99h-14.97zM619.49 171.38h14.97v14.99h-14.97zM634.46 171.38h14.97v14.99h-14.97zM649.43 171.38h14.97v14.99h-14.97zM664.39 171.38h14.97v14.99h-14.97zM679.37 171.38h14.97v14.99h-14.97zM694.34 171.38h14.97v14.99h-14.97zM709.30 171.38h14.97v14.99h-14.97zM724.27 171.38h14.97v14.99h-14.97zM739.25 171.38h14.97v14.99h-14.97zM754.22 171.38h14.97v14.99h-14.97zM769.19 171.38h14.97v14.99h-14.97zM784.15 171.38h14.97v14.99h-14.97zM799.12 171.38h14.97v14.99h-14.97zM814.10 171.38h14.97v14.99h-14.97zM829.07 171.38h14.97v14.99h-14.97zM844.03 171.38h14.97v14.99h-14.97zM859.00 171.38h14.97v14.99h-14.97zM873.98 171.38h14.97v14.99h-14.97zM888.95 171.38h14.97v14.99h-14.97zM903.91 171.38h14.97v14.99h-14.97zM918.88 171.38h14.97v14.99h-14.97zM933.86 171.38h14.97v14.99h-14.97zM948.83 171.38h14.97v14.99h-14.97zM963.79 171.38h14.97v14.99h-14.97zM978.76 171.38h14.97v14.99h-14.97zM993.74 171.38h14.97v14.99h-14.97zM1008.71 171.38h14.97v14.99h-14.97zM140.44 156.39h14.97v14.99h-14.97zM155.41 156.39h14.97v14.99h-14.97zM170.39 156.39h14.97v14.99h-14.97zM185.36 156.39h14.97v14.99h-14.97zM200.33 156.39h14.97v14.99h-14.97zM215.30 156.39h14.97v14.99h-14.97zM230.27 156.39h14.97v14.99h-14.97zM245.24 156.39h14.97v14.99h-14.97zM260.21 156.39h14.97v14.99h-14.97zM275.18 156.39h14.97v14.99h-14.97zM290.14 156.39h14.97v14.99h-14.97zM305.12 156.39h14.97v14.99h-14.97zM320.09 156.39h14.97v14.99h-14.97zM335.06 156.39h14.97v14.99h-14.97zM350.02 156.39h14.97v14.99h-14.97zM365.00 156.39h14.97v14.99h-14.97zM379.97 156.39h14.97v14.99h-14.97zM619.49 156.39h14.97v14.99h-14.97zM634.46 156.39h14.97v14.99h-14.97zM649.43 156.39h14.97v14.99h-14.97zM664.39 156.39h14.97v14.99h-14.97zM679.37 156.39h14.97v14.99h-14.97zM694.34 156.39h14.97v14.99h-14.97zM709.30 156.39h14.97v14.99h-14.97zM724.27 156.39h14.97v14.99h-14.97zM739.25 156.39h14.97v14.99h-14.97zM754.22 156.39h14.97v14.99h-14.97zM769.19 156.39h14.97v14.99h-14.97zM784.15 156.39h14.97v14.99h-14.97zM799.12 156.39h14.97v14.99h-14.97zM814.10 156.39h14.97v14.99h-14.97zM829.07 156.39h14.97v14.99h-14.97zM844.03 156.39h14.97v14.99h-14.97zM859.00 156.39h14.97v14.99h-14.97zM873.98 156.39h14.97v14.99h-14.97zM888.95 156.39h14.97v14.99h-14.97zM903.91 156.39h14.97v14.99h-14.97zM918.88 156.39h14.97v14.99h-14.97zM933.86 156.39h14.97v14.99h-14.97zM948.83 156.39h14.97v14.99h-14.97zM963.79 156.39h14.97v14.99h-14.97zM978.76 156.39h14.97v14.99h-14.97zM993.74 156.39h14.97v14.99h-14.97zM1008.71 156.39h14.97v14.99h-14.97zM155.41 141.40h14.97v14.99h-14.97zM170.39 141.40h14.97v14.99h-14.97zM185.36 141.40h14.97v14.99h-14.97zM200.33 141.40h14.97v14.99h-14.97zM215.30 141.40h14.97v14.99h-14.97zM230.27 141.40h14.97v14.99h-14.97zM245.24 141.40h14.97v14.99h-14.97zM260.21 141.40h14.97v14.99h-14.97zM275.18 141.40h14.97v14.99h-14.97zM290.14 141.40h14.97v14.99h-14.97zM305.12 141.40h14.97v14.99h-14.97zM320.09 141.40h14.97v14.99h-14.97zM335.06 141.40h14.97v14.99h-14.97zM634.46 141.40h14.97v14.99h-14.97zM649.43 141.40h14.97v14.99h-14.97zM664.39 141.40h14.97v14.99h-14.97zM679.37 141.40h14.97v14.99h-14.97zM694.34 141.40h14.97v14.99h-14.97zM709.30 141.40h14.97v14.99h-14.97zM724.27 141.40h14.97v14.99h-14.97zM739.25 141.40h14.97v14.99h-14.97zM754.22 141.40h14.97v14.99h-14.97zM769.19 141.40h14.97v14.99h-14.97zM784.15 141.40h14.97v14.99h-14.97zM799.12 141.40h14.97v14.99h-14.97zM814.10 141.40h14.97v14.99h-14.97zM829.07 141.40h14.97v14.99h-14.97zM844.03 141.40h14.97v14.99h-14.97zM859.00 141.40h14.97v14.99h-14.97zM873.98 141.40h14.97v14.99h-14.97zM888.95 141.40h14.97v14.99h-14.97zM903.91 141.40h14.97v14.99h-14.97zM918.88 141.40h14.97v14.99h-14.97zM933.86 141.40h14.97v14.99h-14.97zM948.83 141.40h14.97v14.99h-14.97zM963.79 141.40h14.97v14.99h-14.97zM978.76 141.40h14.97v14.99h-14.97zM993.74 141.40h14.97v14.99h-14.97zM185.36 126.41h14.97v14.99h-14.97zM200.33 126.41h14.97v14.99h-14.97zM215.30 126.41h14.97v14.99h-14.97zM230.27 126.41h14.97v14.99h-14.97zM245.24 126.41h14.97v14.99h-14.97zM260.21 126.41h14.97v14.99h-14.97zM275.18 126.41h14.97v14.99h-14.97zM290.14 126.41h14.97v14.99h-14.97zM305.12 126.41h14.97v14.99h-14.97zM320.09 126.41h14.97v14.99h-14.97zM649.43 126.41h14.97v14.99h-14.97zM664.39 126.41h14.97v14.99h-14.97zM679.37 126.41h14.97v14.99h-14.97zM694.34 126.41h14.97v14.99h-14.97zM709.30 126.41h14.97v14.99h-14.97zM724.27 126.41h14.97v14.99h-14.97zM739.25 126.41h14.97v14.99h-14.97zM754.22 126.41h14.97v14.99h-14.97zM769.19 126.41h14.97v14.99h-14.97zM784.15 126.41h14.97v14.99h-14.97zM799.12 126.41h14.97v14.99h-14.97zM814.10 126.41h14.97v14.99h-14.97zM829.07 126.41h14.97v14.99h-14.97zM844.03 126.41h14.97v14.99h-14.97zM859.00 126.41h14.97v14.99h-14.97zM873.98 126.41h14.97v14.99h-14.97zM888.95 126.41h14.97v14.99h-14.97zM903.91 126.41h14.97v14.99h-14.97zM918.88 126.41h14.97v14.99h-14.97zM933.86 126.41h14.97v14.99h-14.97zM948.83 126.41h14.97v14.99h-14.97zM963.79 126.41h14.97v14.99h-14.97zM978.76 126.41h14.97v14.99h-14.97zM215.30 111.42h14.97v14.99h-14.97zM230.27 111.42h14.97v14.99h-14.97zM245.24 111.42h14.97v14.99h-14.97zM260.21 111.42h14.97v14.99h-14.97zM275.18 111.42h14.97v14.99h-14.97zM290.14 111.42h14.97v14.99h-14.97zM305.12 111.42h14.97v14.99h-14.97zM664.39 111.42h14.97v14.99h-14.97zM679.37 111.42h14.97v14.99h-14.97zM694.34 111.42h14.97v14.99h-14.97zM709.30 111.42h14.97v14.99h-14.97zM724.27 111.42h14.97v14.99h-14.97zM739.25 111.42h14.97v14.99h-14.97zM754.22 111.42h14.97v14.99h-14.97zM769.19 111.42h14.97v14.99h-14.97zM784.15 111.42h14.97v14.99h-14.97zM799.12 111.42h14.97v14.99h-14.97zM814.10 111.42h14.97v14.99h-14.97zM829.07 111.42h14.97v14.99h-14.97zM844.03 111.42h14.97v14.99h-14.97zM859.00 111.42h14.97v14.99h-14.97zM873.98 111.42h14.97v14.99h-14.97zM888.95 111.42h14.97v14.99h-14.97zM903.91 111.42h14.97v14.99h-14.97zM918.88 111.42h14.97v14.99h-14.97zM933.86 111.42h14.97v14.99h-14.97zM948.83 111.42h14.97v14.99h-14.97zM963.79 111.42h14.97v14.99h-14.97zM230.27 96.43h14.97v14.99h-14.97zM245.24 96.43h14.97v14.99h-14.97zM260.21 96.43h14.97v14.99h-14.97zM275.18 96.43h14.97v14.99h-14.97zM679.37 96.43h14.97v14.99h-14.97zM694.34 96.43h14.97v14.99h-14.97zM709.30 96.43h14.97v14.99h-14.97zM724.27 96.43h14.97v14.99h-14.97zM739.25 96.43h14.97v14.99h-14.97zM754.22 96.43h14.97v14.99h-14.97zM769.19 96.43h14.97v14.99h-14.97zM784.15 96.43h14.97v14.99h-14.97zM799.12 96.43h14.97v14.99h-14.97zM814.10 96.43h14.97v14.99h-14.97zM829.07 96.43h14.97v14.99h-14.97zM844.03 96.43h14.97v14.99h-14.97zM859.00 96.43h14.97v14.99h-14.97zM873.98 96.43h14.97v14.99h-14.97zM888.95 96.43h14.97v14.99h-14.97zM903.91 96.43h14.97v14.99h-14.97zM694.34 81.44h14.97v14.99h-14.97zM709.30 81.44h14.97v14.99h-14.97zM724.27 81.44h14.97v14.99h-14.97zM739.25 81.44h14.97v14.99h-14.97zM754.22 81.44h14.97v14.99h-14.97zM769.19 81.44h14.97v14.99h-14.97zM784.15 81.44h14.97v14.99h-14.97zM799.12 81.44h14.97v14.99h-14.97zM814.10 81.44h14.97v14.99h-14.97zM829.07 81.44h14.97v14.99h-14.97zM844.03 81.44h14.97v14.99h-14.97zM859.00 81.44h14.97v14.99h-14.97zM873.98 81.44h14.97v14.99h-14.97zM888.95 81.44h14.97v14.99h-14.97zM709.30 66.45h14.97v14.99h-14.97zM724.27 66.45h14.97v14.99h-14.97zM739.25 66.45h14.97v14.99h-14.97zM754.22 66.45h14.97v14.99h-14.97zM769.19 66.45h14.97v14.99h-14.97zM784.15 66.45h14.97v14.99h-14.97zM799.12 66.45h14.97v14.99h-14.97zM814.10 66.45h14.97v14.99h-14.97zM829.07 66.45h14.97v14.99h-14.97zM844.03 66.45h14.97v14.99h-14.97zM859.00 66.45h14.97v14.99h-14.97zM873.98 66.45h14.97v14.99h-14.97zM888.95 66.45h14.97v14.99h-14.97zM724.27 51.46h14.97v14.99h-14.97zM739.25 51.46h14.97v14.99h-14.97zM754.22 51.46h14.97v14.99h-14.97zM769.19 51.46h14.97v14.99h-14.97zM784.15 51.46h14.97v14.99h-14.97zM799.12 51.46h14.97v14.99h-14.97zM814.10 51.46h14.97v14.99h-14.97zM829.07 51.46h14.97v14.99h-14.97zM844.03 51.46h14.97v14.99h-14.97zM859.00 51.46h14.97v14.99h-14.97zM873.98 51.46h14.97v14.99h-14.97zM739.25 36.47h14.97v14.99h-14.97zM754.22 36.47h14.97v14.99h-14.97zM769.19 36.47h14.97v14.99h-14.97zM784.15 36.47h14.97v14.99h-14.97zM799.12 36.47h14.97v14.99h-14.97zM814.10 36.47h14.97v14.99h-14.97zM829.07 36.47h14.97v14.99h-14.97zM844.03 36.47h14.97v14.99h-14.97zM859.00 36.47h14.97v14.99h-14.97zM754.22 21.48h14.97v14.99h-14.97zM769.19 21.48h14.97v14.99h-14.97zM784.15 21.48h14.97v14.99h-14.97zM799.12 21.48h14.97v14.99h-14.97zM814.10 21.48h14.97v14.99h-14.97zM829.07 21.48h14.97v14.99h-14.97zM844.03 21.48h14.97v14.99h-14.97z" fill="none" stroke="#5c5c5c" stroke-opacity="0.48" stroke-width="1"/></g>
<path d="M58.5 286.4L59.1 284.1L64.8 283.0L64.2 277.3L65.9 274.5L72.8 272.8L79.6 268.8L84.1 268.8L89.8 266.5L94.4 271.0L102.3 270.5L104.6 265.9L108.0 261.4L113.7 260.2L122.8 259.1L127.4 255.7L136.8 252.9L145.9 248.4L157.4 241.5L160.8 232.4L163.1 225.5L163.1 218.7L161.9 207.2L154.0 203.8L155.1 201.5L173.3 199.2L182.5 197.0L193.9 197.0L189.3 191.3L192.8 185.5L200.8 168.4L220.0 170.7L226.3 170.7L230.4 171.7L234.6 170.1L239.8 169.6L239.8 164.4L238.8 156.1L239.8 151.9L245.0 149.3L253.4 148.2L256.5 145.6L256.5 141.5L258.6 138.9L273.2 138.3L274.2 142.5L276.3 145.6L282.6 149.8L284.7 152.4L290.9 155.0L299.2 156.1L305.5 159.2L311.8 162.3L313.8 166.5L319.1 171.7L321.1 175.9L320.1 184.2L317.0 189.4L315.9 192.6L319.1 197.8L324.3 198.8L335.5 199.0L350.3 201.3L362.8 203.6L369.6 208.1L381.0 212.7L386.7 212.7L390.1 220.6L394.6 228.6L401.5 234.3L412.8 234.3L426.5 236.5L440.1 237.7L460.6 236.5L472.0 237.7L483.4 240.0L487.9 243.4L499.3 245.6L510.7 247.9L522.0 249.1L529.0 252.5L542.6 244.5L551.7 242.2L565.4 240.0L579.0 238.8L592.7 237.7L606.3 234.3L613.2 230.9L620.0 226.3L629.1 221.8L633.6 218.3L626.8 211.5L629.1 203.6L635.9 200.1L647.3 202.4L658.7 203.6L670.0 199.0L679.1 195.6L688.2 193.3L697.3 188.8L701.9 183.1L711.0 179.7L722.4 177.4L733.7 175.1L749.7 174.0L751.9 170.6L747.4 166.0L738.3 160.3L729.2 158.1L720.1 159.2L711.0 161.5L701.9 159.2L695.1 158.1L688.2 154.6L690.8 148.4L695.1 141.5L700.2 133.0L705.3 128.7L713.8 131.3L722.4 133.0L729.2 129.6L736.0 127.0L742.8 124.5L743.7 121.1L742.3 121.4L746.8 114.6L751.4 108.9L754.8 103.2L764.5 96.4L766.2 93.0L763.9 88.4L754.8 86.2L755.9 83.9L762.8 81.6L767.3 77.6L774.1 75.9L785.5 74.2L799.2 73.7L808.3 73.7L815.1 74.8L821.9 77.6L829.9 78.8L836.7 79.9L842.4 82.8L846.9 87.3L851.8 93.3L858.6 104.7L860.9 111.5L865.5 120.6L867.7 127.4L872.3 132.0L881.4 133.1L890.5 135.4L899.6 136.5L906.4 139.9L913.2 144.5L915.5 150.2L916.6 154.7L920.1 159.3L931.4 160.4L942.8 159.3L949.6 154.7L958.7 152.4L970.1 151.3L979.2 149.7L978.1 153.6L973.5 157.0L974.7 161.5L970.1 166.1L967.8 172.9L963.3 182.0L958.7 188.8L954.2 193.0L949.6 199.6L936.0 197.4L926.9 199.6L922.3 204.2L923.5 211.0L923.5 220.1L922.3 229.2L917.8 233.8L913.2 234.9L908.7 233.8L904.1 234.9L899.6 238.3L890.5 244.0L881.4 246.3L878.0 252.0L876.8 254.2L872.3 250.8L863.2 252.0L858.6 250.8L854.1 253.1L847.3 258.8L842.7 263.3L831.3 267.9L826.5 271.8L818.9 276.4L808.3 279.4L799.2 282.5L794.6 285.5L788.6 287.0L784.0 290.0L779.5 292.3L772.7 294.6L771.9 293.8L772.7 290.8L776.4 288.5L774.9 284.0L777.2 281.0L781.0 276.4L784.8 271.8L787.8 268.8L785.5 265.0L781.0 262.7L774.9 264.3L770.4 266.5L764.3 271.8L755.2 274.9L747.6 277.9L743.1 284.0L735.5 288.5L723.4 288.5L719.6 294.6L720.3 299.1L726.4 304.5L738.5 305.2L742.3 309.8L740.0 314.3L744.6 318.1L750.7 318.9L756.7 314.3L764.3 309.8L768.9 306.7L767.3 302.2L770.4 309.8L781.0 314.3L794.6 315.1L793.1 320.4L785.5 322.7L774.9 326.4L765.8 331.0L758.2 335.5L752.7 341.0L746.5 347.3L743.3 352.7L749.6 358.2L759.0 361.4L762.2 366.1L765.3 373.9L768.4 381.8L771.6 388.0L777.8 391.2L782.5 395.9L784.1 403.7L784.6 410.0L785.0 413.5L778.0 414.0L773.4 416.5L774.5 419.8L780.0 425.0L785.0 427.0L786.0 430.0L781.8 431.6L777.5 434.0L777.3 439.2L779.0 444.8L781.0 446.1L777.8 452.4L771.6 458.6L765.3 464.9L761.2 467.9L753.3 475.9L749.3 483.9L743.3 495.8L735.4 501.8L723.4 509.7L715.5 517.7L705.5 527.7L695.6 531.6L683.6 533.6L673.7 537.6L661.7 541.6L651.8 545.6L635.8 550.5L624.9 552.6L620.2 554.1L617.1 555.7L615.5 558.1L614.0 560.4L610.8 563.5L613.2 565.9L611.6 571.4L604.5 572.2L603.8 569.0L600.6 565.1L599.8 558.8L600.6 554.9L597.5 553.3L591.2 554.1L588.8 551.0L583.3 548.6L577.8 551.8L572.7 552.6L565.1 551.9L557.6 546.6L554.5 540.5L553.0 536.0L548.5 532.9L540.9 529.9L534.8 526.8L528.7 531.4L521.2 533.7L513.6 535.2L506.0 535.2L499.9 538.2L492.3 536.0L486.3 539.0L480.2 540.5L481.7 549.6L481.7 558.7L474.1 557.9L473.4 552.6L470.4 548.1L465.0 552.6L457.5 553.4L455.9 547.3L443.1 543.5L445.3 537.5L446.8 531.4L441.5 529.1L438.5 525.3L437.7 517.7L434.7 514.7L424.1 516.2L418.8 517.0L419.5 510.2L418.8 504.1L421.1 498.0L424.1 495.0L428.9 493.9L433.8 486.5L436.3 479.1L433.8 469.3L431.4 459.4L426.4 452.0L420.3 448.3L416.6 452.0L410.4 459.4L401.8 454.5L394.4 452.0L387.0 454.5L377.1 459.4L369.7 464.4L362.4 469.3L350.0 471.7L337.7 473.0L336.5 466.8L331.6 461.9L327.9 457.0L320.5 458.2L313.1 457.0L303.2 454.5L294.6 457.0L292.1 465.6L288.4 465.6L286.0 457.0L278.6 455.7L261.3 457.0L245.3 457.0L239.1 452.0L231.7 447.1L221.9 442.2L214.4 436.8L208.3 435.3L199.2 429.2L190.1 424.6L184.0 420.1L176.4 421.6L172.7 424.6L165.8 419.3L158.2 417.1L153.7 412.5L146.1 411.0L140.0 409.5L138.5 401.9L135.5 395.8L132.5 392.8L133.2 386.7L138.5 387.5L143.1 386.7L143.8 380.7L141.6 375.4L137.0 371.6L136.3 365.5L139.3 364.0L137.0 359.4L130.2 355.6L127.2 350.3L124.9 344.3L114.3 343.5L105.2 339.7L99.0 338.5L95.5 334.0L94.4 327.0L88.7 324.0L80.7 321.7L73.9 320.5L72.8 318.3L80.7 317.1L80.7 313.7L78.4 309.2L77.3 301.2L67.1 298.9L62.5 297.8L61.4 293.2L64.8 291.0ZM592.8 578.5L595.9 576.9L599.8 576.1L604.5 574.9L610.8 574.5L617.1 573.8L619.5 575.3L620.2 579.2L618.7 581.6L615.5 587.1L613.6 591.0L612.8 594.9L610.8 596.5L606.9 598.1L603.0 600.4L599.8 602.8L595.9 602.0L592.0 600.4L587.3 598.1L584.9 596.5L583.7 593.4L584.1 587.1L585.7 584.7L588.8 582.4L591.2 580.0ZM778.6 496.6L782.2 497.9L784.4 500.6L783.0 504.2L781.3 509.6L779.5 515.0L777.7 520.4L775.9 526.6L774.1 531.1L770.5 535.6L768.7 541.0L767.4 546.4L765.6 546.4L763.3 541.0L759.3 538.3L757.0 533.8L755.2 530.2L756.1 522.2L758.8 516.8L762.4 510.5L766.0 505.1L769.6 501.5L774.1 498.4Z" fill="none" stroke="#555" stroke-width="1.1"/>
<path d="M771.6 388.0L777.8 391.2L782.5 395.9L784.1 403.7L784.6 410.0L785.0 413.5L778.0 414.0L773.4 416.5L774.5 419.8L780.0 425.0L785.0 427.0L786.0 430.0L781.8 431.6L777.5 434.0L777.3 439.2L779.0 444.8L781.0 446.1L777.8 452.4L771.6 458.6L765.3 464.9L761.2 467.9L753.3 475.9L749.3 483.9L743.3 495.8L735.4 501.8L723.4 509.7L715.5 517.7L705.5 527.7L695.6 531.6L683.6 533.6L673.7 537.6L661.7 541.6L651.8 545.6L635.8 550.5L624.9 552.6L620.2 554.1L617.1 555.7L615.5 558.1L614.0 560.4L610.8 563.5L613.2 565.9L611.6 571.4L604.5 572.2L603.8 569.0L600.6 565.1L599.8 558.8L600.6 554.9L597.5 553.3L591.2 554.1L588.8 551.0L583.3 548.6L577.8 551.8L572.7 552.6" fill="none" stroke="#666" stroke-width="2.2" stroke-dasharray="3 1.5 1 2"/>
<g stroke="#808080" stroke-opacity="0.55" stroke-width="1.2" stroke-dasharray="8.6 25.63" stroke-dashoffset="20.2"><line x1="162.5" y1="40" x2="162.5" y2="848" /><line x1="312.2" y1="40" x2="312.2" y2="848" /><line x1="461.9" y1="40" x2="461.9" y2="848" /><line x1="611.6" y1="40" x2="611.6" y2="848" /><line x1="761.3" y1="40" x2="761.3" y2="848" /><line x1="911.0" y1="40" x2="911.0" y2="848" /></g>
<g stroke="#808080" stroke-opacity="0.55" stroke-width="1.2" stroke-dasharray="8.6 25.63" stroke-dashoffset="1.7"><line x1="40" y1="139.9" x2="1011" y2="139.9" /><line x1="40" y1="289.6" x2="1011" y2="289.6" /><line x1="40" y1="439.4" x2="1011" y2="439.4" /><line x1="40" y1="589.1" x2="1011" y2="589.1" /><line x1="40" y1="738.9" x2="1011" y2="738.9" /></g>
<path d="M162.5 40V47M312.2 40V47M461.9 40V47M611.6 40V47M761.3 40V47M911.0 40V47M40 139.9H47M1011 139.9H1004.5M40 289.6H47M1011 289.6H1004.5M40 439.4H47M1011 439.4H1004.5M40 589.1H47M1011 589.1H1004.5M40 738.9H47M1011 738.9H1004.5" stroke="#222" stroke-width="1.3" fill="none"/>
<path d="M39 847.7H1011.5" stroke="#dcdcdc" stroke-width="1.6"/>
<path d="M37.8 39.6H1013.4" stroke="#0a0a0a" stroke-width="1.9"/><path d="M37.8 849.4H1013.4" stroke="#0a0a0a" stroke-width="1.6"/><path d="M38.8 38.6V850.2" stroke="#1e1e1e" stroke-width="2.1"/><path d="M1012.4 38.6V850.2" stroke="#111" stroke-width="2"/>
<g font-family="Liberation Serif, serif" font-size="24.8" fill="#111"><text x="162.9" y="32.2" text-anchor="middle">80°E</text><text x="163.1" y="880.4" text-anchor="middle">80°E</text><text x="312.6" y="32.2" text-anchor="middle">90°E</text><text x="312.8" y="880.4" text-anchor="middle">90°E</text><text x="462.3" y="32.2" text-anchor="middle">100°E</text><text x="462.5" y="880.4" text-anchor="middle">100°E</text><text x="612.0" y="32.2" text-anchor="middle">110°E</text><text x="612.2" y="880.4" text-anchor="middle">110°E</text><text x="761.7" y="32.2" text-anchor="middle">120°E</text><text x="761.9" y="880.4" text-anchor="middle">120°E</text><text x="911.4" y="32.2" text-anchor="middle">130°E</text><text x="911.6" y="880.4" text-anchor="middle">130°E</text></g>
<g font-family="Liberation Serif, serif" font-size="24.4" fill="#111"><text transform="translate(31.3 140.3) rotate(-90)" text-anchor="middle">50°N</text><text transform="translate(1044.3 140.3) rotate(-90)" text-anchor="middle">50°N</text><text transform="translate(31.3 290.0) rotate(-90)" text-anchor="middle">40°N</text><text transform="translate(1044.3 290.0) rotate(-90)" text-anchor="middle">40°N</text><text transform="translate(31.3 439.8) rotate(-90)" text-anchor="middle">30°N</text><text transform="translate(1044.3 439.8) rotate(-90)" text-anchor="middle">30°N</text><text transform="translate(31.3 589.5) rotate(-90)" text-anchor="middle">20°N</text><text transform="translate(1044.3 589.5) rotate(-90)" text-anchor="middle">20°N</text><text transform="translate(31.3 739.3) rotate(-90)" text-anchor="middle">10°N</text><text transform="translate(1044.3 739.3) rotate(-90)" text-anchor="middle">10°N</text></g>
<text x="980.9" y="64.6" text-anchor="middle" font-family="Liberation Sans, sans-serif" font-size="17" fill="#111">N</text>
<path d="M980.5 68.5L969 106.5L980.5 93Z" fill="#000"/>
<path d="M980.5 68.5L992.2 106.5L980.5 93Z" fill="#fff" stroke="#000" stroke-width="1"/>
<rect x="707" y="821" width="101.7" height="10" fill="#000"/>
<rect x="808.7" y="821.5" width="101.2" height="9.2" fill="#fff" stroke="#000" stroke-width="1"/>
<g font-family="Liberation Serif, serif" font-size="24" fill="#111"><text x="707.7" y="809" text-anchor="middle">0</text><text x="808.5" y="809" text-anchor="middle">750</text><text x="885.5" y="809">1500 km</text></g>
<path d="M595.2 633.4L603.6 647.4M609.2 692.2L606.4 706.2M578.4 769.3L579.8 784.7M687.6 767.9L698.9 755.3M732.5 711.8L739.5 695M740.9 634.8L740.9 650.2M746.5 605.4L754.9 591.4M772.4 563L783.4 550.5M791.5 522.7L797 506.6M633 822.5Q640 821 647 818.3" stroke="#111" stroke-width="1.2" fill="none"/>
<ellipse cx="669.4" cy="639" rx="9" ry="4" transform="rotate(-20 669.4 639)" fill="none" stroke="#222" stroke-width="1"/>
<g fill="#222"><rect x="626.3" y="617.8" width="1.9" height="1.9"/><rect x="628.3" y="624.3" width="1.9" height="1.9"/><rect x="631.3" y="627.3" width="1.9" height="1.9"/><rect x="634.3" y="621.3" width="1.9" height="1.9"/><rect x="637.3" y="629.3" width="1.9" height="1.9"/><rect x="639.3" y="623.3" width="1.9" height="1.9"/><rect x="642.3" y="632.3" width="1.9" height="1.9"/><rect x="629.3" y="632.3" width="1.9" height="1.9"/><rect x="705.2" y="629.9" width="1.9" height="1.9"/><rect x="720.6" y="648.1" width="1.9" height="1.9"/><rect x="668.3" y="703.3" width="1.9" height="1.9"/><rect x="671.3" y="709.3" width="1.9" height="1.9"/><rect x="667.3" y="715.3" width="1.9" height="1.9"/><rect x="674.3" y="714.3" width="1.9" height="1.9"/><rect x="663.3" y="721.3" width="1.9" height="1.9"/><rect x="669.3" y="725.3" width="1.9" height="1.9"/><rect x="675.3" y="728.3" width="1.9" height="1.9"/><rect x="667.3" y="730.3" width="1.9" height="1.9"/><rect x="691.3" y="713.3" width="1.9" height="1.9"/><rect x="694.3" y="719.3" width="1.9" height="1.9"/><rect x="699.3" y="716.3" width="1.9" height="1.9"/><rect x="697.3" y="726.3" width="1.9" height="1.9"/><rect x="704.3" y="723.3" width="1.9" height="1.9"/><rect x="707.3" y="730.3" width="1.9" height="1.9"/><rect x="692.3" y="732.3" width="1.9" height="1.9"/><rect x="699.3" y="736.3" width="1.9" height="1.9"/><rect x="705.3" y="739.3" width="1.9" height="1.9"/><rect x="711.3" y="734.3" width="1.9" height="1.9"/><rect x="713.3" y="717.3" width="1.9" height="1.9"/><rect x="718.3" y="722.3" width="1.9" height="1.9"/><rect x="709.3" y="711.3" width="1.9" height="1.9"/><rect x="721.3" y="713.3" width="1.9" height="1.9"/><rect x="647.3" y="730.3" width="1.9" height="1.9"/><rect x="629.3" y="745.3" width="1.9" height="1.9"/><rect x="639.3" y="743.3" width="1.9" height="1.9"/><rect x="644.3" y="744.3" width="1.9" height="1.9"/><rect x="660.3" y="740.3" width="1.9" height="1.9"/><rect x="666.3" y="743.3" width="1.9" height="1.9"/><rect x="673.3" y="747.3" width="1.9" height="1.9"/><rect x="682.3" y="750.3" width="1.9" height="1.9"/><rect x="656.3" y="754.3" width="1.9" height="1.9"/><rect x="662.3" y="757.3" width="1.9" height="1.9"/><rect x="677.3" y="751.3" width="1.9" height="1.9"/><rect x="603.3" y="756.3" width="1.9" height="1.9"/><rect x="607.3" y="760.3" width="1.9" height="1.9"/><rect x="610.3" y="752.3" width="1.9" height="1.9"/><rect x="629.3" y="756.3" width="1.9" height="1.9"/><rect x="630.3" y="760.3" width="1.9" height="1.9"/><rect x="651.3" y="756.3" width="1.9" height="1.9"/><rect x="659.3" y="759.3" width="1.9" height="1.9"/><rect x="660.3" y="764.3" width="1.9" height="1.9"/><rect x="657.3" y="769.3" width="1.9" height="1.9"/><rect x="653.3" y="779.8" width="1.9" height="1.9"/><rect x="640.7" y="788.3" width="1.9" height="1.9"/><rect x="640.3" y="791.3" width="1.9" height="1.9"/></g>
<g fill="#666"><rect x="785" y="422" width="5" height="6"/><rect x="787" y="417" width="3" height="3"/><rect x="790" y="414" width="3" height="3"/><rect x="794" y="413" width="2.5" height="2"/><rect x="791" y="421" width="3" height="2"/><rect x="795" y="423" width="2" height="1.5"/><rect x="786" y="433" width="1.5" height="1.5"/><rect x="787" y="443" width="1.5" height="1.5"/><rect x="772" y="466" width="1.5" height="1.5"/><rect x="766" y="474" width="1.5" height="1.5"/><rect x="760" y="485" width="1.5" height="1.5"/><rect x="776" y="462" width="1.5" height="1.5"/></g>
<path d="M745.5 520.5l3 -1l1.5 3l-1 4l-3 1z" fill="#333"/><rect x="705.3" y="564.2" width="3.2" height="3.2" fill="#222"/>
<g font-family="Liberation Serif, serif" fill="#111"><text x="66.2" y="544.5" font-size="28.5">XCO<tspan font-size="18" dy="4">2ano</tspan><tspan font-size="28.5" dy="-4">(ppm)</tspan></text><rect x="53.6" y="564.3" width="69" height="34" fill="#0000ff" stroke="#999" stroke-width="1"/><rect x="307" y="564.3" width="69" height="34" fill="#d2ff6a" stroke="#999" stroke-width="1"/><text x="134.8" y="591.2" font-size="26.5" word-spacing="3">−1.55 − −0.57</text><text x="388.7" y="591.2" font-size="26.5" word-spacing="3">0.73 − 1.08</text><rect x="53.6" y="611.0" width="69" height="34" fill="#335eff" stroke="#999" stroke-width="1"/><rect x="307" y="611.0" width="69" height="34" fill="#ffff00" stroke="#999" stroke-width="1"/><text x="134.8" y="637.9" font-size="26.5" word-spacing="3">−0.56 − −0.16</text><text x="388.7" y="637.9" font-size="26.5" word-spacing="3">1.09 − 1.46</text><rect x="53.6" y="657.8" width="69" height="34" fill="#38a8ff" stroke="#999" stroke-width="1"/><rect x="307" y="657.8" width="69" height="34" fill="#ffb000" stroke="#999" stroke-width="1"/><text x="134.8" y="684.7" font-size="26.5" word-spacing="3">−0.15 − 0.14</text><text x="388.7" y="684.7" font-size="26.5" word-spacing="3">1.47 − 1.85</text><rect x="53.6" y="704.5" width="69" height="34" fill="#00ffff" stroke="#999" stroke-width="1"/><rect x="307" y="704.5" width="69" height="34" fill="#ff7000" stroke="#999" stroke-width="1"/><text x="134.8" y="731.4" font-size="26.5" word-spacing="3">0.15 − 0.41</text><text x="388.7" y="731.4" font-size="26.5" word-spacing="3">1.86 − 2.28</text><rect x="53.6" y="751.3" width="69" height="34" fill="#96ffb4" stroke="#999" stroke-width="1"/><rect x="307" y="751.3" width="69" height="34" fill="#ff0000" stroke="#999" stroke-width="1"/><text x="134.8" y="778.2" font-size="26.5" word-spacing="3">0.42 − 0.72</text><text x="388.7" y="778.2" font-size="26.5" word-spacing="3">2.29 − 3.24</text><rect x="47.8" y="797.2" width="45" height="22.3" fill="#fff" stroke="#444" stroke-width="1.4"/><text x="101.5" y="818.6" font-size="26.8">National boundaries</text><rect x="343.5" y="796.5" width="45" height="22" fill="url(#hatch2)" stroke="#333" stroke-width="1"/><text x="397.2" y="818.6" font-size="26.8">Background area</text></g>
</svg>
</body></html>
